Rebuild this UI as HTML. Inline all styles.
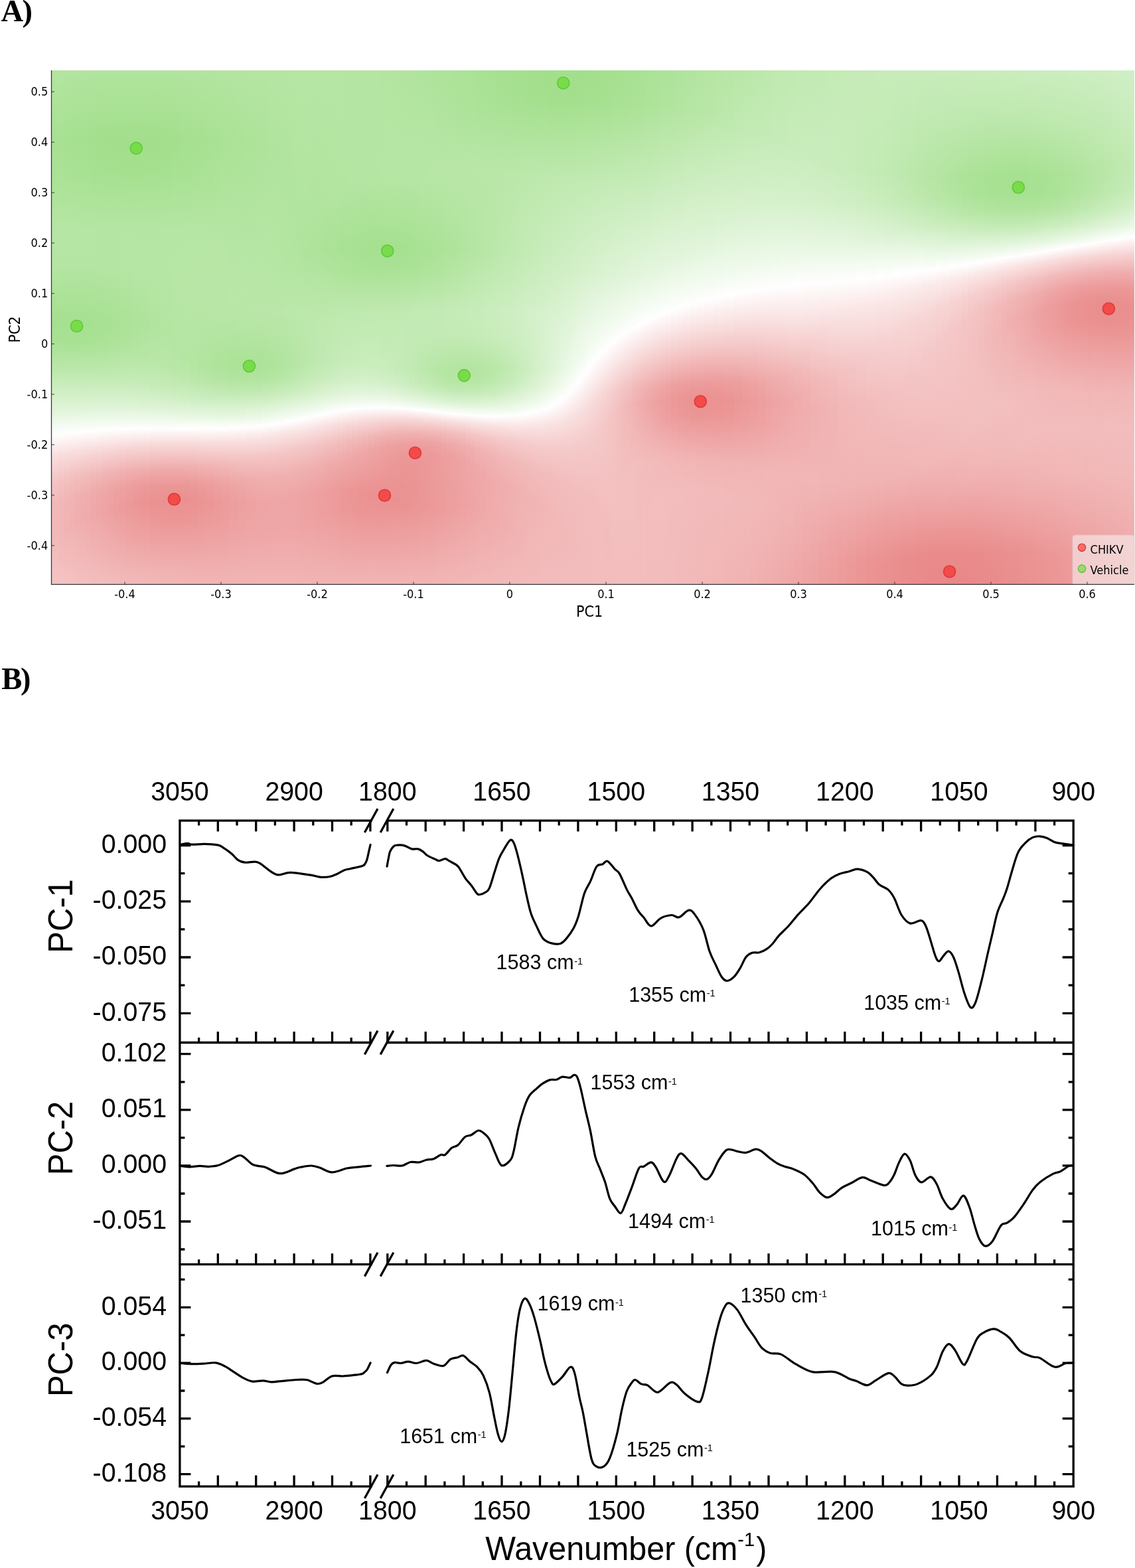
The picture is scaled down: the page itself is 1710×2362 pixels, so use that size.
<!DOCTYPE html><html><head><meta charset="utf-8"><title>Figure</title><style>html,body{margin:0;padding:0;background:#fff}body{width:1710px;height:2362px;overflow:hidden;position:relative}svg{position:absolute;left:0;top:0;display:block}</style></head><body>
<svg width="1710" height="2362" viewBox="0 0 1710 2362">
<defs><linearGradient id="g0" x2="0" y2="1"><stop offset="0.0006" stop-color="#b3e5a0"/><stop offset="0.1337" stop-color="#a8e193"/><stop offset="0.2074" stop-color="#abe297"/><stop offset="0.3159" stop-color="#b6e6a5"/><stop offset="0.3857" stop-color="#b4e5a2"/><stop offset="0.4890" stop-color="#a6e090"/><stop offset="0.5291" stop-color="#aae295"/><stop offset="0.5820" stop-color="#bbe8ab"/><stop offset="0.6621" stop-color="#e1f5da"/><stop offset="0.7074" stop-color="#fdfefd"/><stop offset="0.7112" stop-color="#fffdfd"/><stop offset="0.7526" stop-color="#f9dddd"/><stop offset="0.7991" stop-color="#f4c4c4"/><stop offset="0.8443" stop-color="#f2b9b9"/><stop offset="0.9037" stop-color="#f2b9b9"/><stop offset="0.9994" stop-color="#f4c4c4"/></linearGradient><linearGradient id="g1" x2="0" y2="1"><stop offset="0.0006" stop-color="#b3e5a0"/><stop offset="0.1337" stop-color="#a7e192"/><stop offset="0.2048" stop-color="#abe296"/><stop offset="0.3146" stop-color="#b6e6a4"/><stop offset="0.3844" stop-color="#b4e5a2"/><stop offset="0.4890" stop-color="#a5e090"/><stop offset="0.5278" stop-color="#a9e194"/><stop offset="0.5795" stop-color="#bae7a9"/><stop offset="0.6583" stop-color="#dff4d7"/><stop offset="0.7061" stop-color="#fdfefd"/><stop offset="0.7099" stop-color="#fffdfd"/><stop offset="0.7513" stop-color="#f8dbdb"/><stop offset="0.7978" stop-color="#f4c2c2"/><stop offset="0.8417" stop-color="#f2b6b6"/><stop offset="0.8986" stop-color="#f2b6b6"/><stop offset="0.9994" stop-color="#f4c3c3"/></linearGradient><linearGradient id="g2" x2="0" y2="1"><stop offset="0.0006" stop-color="#b2e5a0"/><stop offset="0.1337" stop-color="#a6e091"/><stop offset="0.2035" stop-color="#aae295"/><stop offset="0.3133" stop-color="#b6e6a4"/><stop offset="0.3818" stop-color="#b4e5a2"/><stop offset="0.4903" stop-color="#a5e08f"/><stop offset="0.5291" stop-color="#a9e194"/><stop offset="0.5833" stop-color="#bbe8ab"/><stop offset="0.6596" stop-color="#e0f4d9"/><stop offset="0.7048" stop-color="#fdfefd"/><stop offset="0.7087" stop-color="#fffcfc"/><stop offset="0.7500" stop-color="#f8dada"/><stop offset="0.7952" stop-color="#f4c0c0"/><stop offset="0.8379" stop-color="#f1b4b4"/><stop offset="0.8908" stop-color="#f1b3b3"/><stop offset="0.9994" stop-color="#f4c2c2"/></linearGradient><linearGradient id="g3" x2="0" y2="1"><stop offset="0.0006" stop-color="#b2e4a0"/><stop offset="0.1337" stop-color="#a6e090"/><stop offset="0.2022" stop-color="#a9e194"/><stop offset="0.3133" stop-color="#b6e6a4"/><stop offset="0.3818" stop-color="#b4e5a2"/><stop offset="0.4903" stop-color="#a5e08f"/><stop offset="0.5291" stop-color="#a9e194"/><stop offset="0.5833" stop-color="#bbe8ab"/><stop offset="0.6570" stop-color="#dff4d7"/><stop offset="0.7022" stop-color="#fcfefb"/><stop offset="0.7061" stop-color="#fffefe"/><stop offset="0.7435" stop-color="#f9dddd"/><stop offset="0.7901" stop-color="#f4c0c0"/><stop offset="0.8314" stop-color="#f1b3b3"/><stop offset="0.8805" stop-color="#f1b1b1"/><stop offset="0.9994" stop-color="#f4c1c1"/></linearGradient><linearGradient id="g4" x2="0" y2="1"><stop offset="0.0006" stop-color="#b2e49f"/><stop offset="0.1337" stop-color="#a5e090"/><stop offset="0.1996" stop-color="#a8e193"/><stop offset="0.3120" stop-color="#b6e6a4"/><stop offset="0.3805" stop-color="#b4e5a2"/><stop offset="0.4903" stop-color="#a5e08f"/><stop offset="0.5291" stop-color="#a9e194"/><stop offset="0.5846" stop-color="#bce8ac"/><stop offset="0.6557" stop-color="#def4d6"/><stop offset="0.7009" stop-color="#fcfefb"/><stop offset="0.7048" stop-color="#fffefe"/><stop offset="0.7410" stop-color="#f9dede"/><stop offset="0.7875" stop-color="#f3bfbf"/><stop offset="0.8275" stop-color="#f1b1b1"/><stop offset="0.8740" stop-color="#f0aeae"/><stop offset="0.9994" stop-color="#f4c0c0"/></linearGradient><linearGradient id="g5" x2="0" y2="1"><stop offset="0.0006" stop-color="#b2e49f"/><stop offset="0.1337" stop-color="#a5e08f"/><stop offset="0.1983" stop-color="#a8e192"/><stop offset="0.3120" stop-color="#b5e6a4"/><stop offset="0.3805" stop-color="#b4e5a2"/><stop offset="0.4903" stop-color="#a5e08f"/><stop offset="0.5291" stop-color="#a9e194"/><stop offset="0.5846" stop-color="#bce8ac"/><stop offset="0.6544" stop-color="#def3d5"/><stop offset="0.6983" stop-color="#fafdf9"/><stop offset="0.7035" stop-color="#ffffff"/><stop offset="0.7384" stop-color="#f9dede"/><stop offset="0.7849" stop-color="#f3bebe"/><stop offset="0.8249" stop-color="#f0afaf"/><stop offset="0.8689" stop-color="#f0acac"/><stop offset="0.9994" stop-color="#f3c0c0"/></linearGradient><linearGradient id="g6" x2="0" y2="1"><stop offset="0.0006" stop-color="#b2e49f"/><stop offset="0.1337" stop-color="#a4e08e"/><stop offset="0.1970" stop-color="#a7e192"/><stop offset="0.3107" stop-color="#b5e6a3"/><stop offset="0.3792" stop-color="#b4e5a2"/><stop offset="0.4916" stop-color="#a5e090"/><stop offset="0.5304" stop-color="#a9e295"/><stop offset="0.5885" stop-color="#bee8ae"/><stop offset="0.6544" stop-color="#def3d6"/><stop offset="0.6970" stop-color="#fafdf9"/><stop offset="0.7022" stop-color="#ffffff"/><stop offset="0.7410" stop-color="#f8dada"/><stop offset="0.7862" stop-color="#f3bbbb"/><stop offset="0.8249" stop-color="#f0adad"/><stop offset="0.8689" stop-color="#efaaaa"/><stop offset="0.9994" stop-color="#f3bfbf"/></linearGradient><linearGradient id="g7" x2="0" y2="1"><stop offset="0.0006" stop-color="#b1e49f"/><stop offset="0.1350" stop-color="#a4df8e"/><stop offset="0.1970" stop-color="#a6e091"/><stop offset="0.3107" stop-color="#b5e6a3"/><stop offset="0.3792" stop-color="#b4e5a2"/><stop offset="0.4916" stop-color="#a6e090"/><stop offset="0.5304" stop-color="#aae295"/><stop offset="0.5898" stop-color="#bee9af"/><stop offset="0.6531" stop-color="#ddf3d5"/><stop offset="0.6957" stop-color="#f9fdf8"/><stop offset="0.7022" stop-color="#fffefe"/><stop offset="0.7410" stop-color="#f8d9d9"/><stop offset="0.7862" stop-color="#f2b9b9"/><stop offset="0.8236" stop-color="#efaaaa"/><stop offset="0.8650" stop-color="#efa7a7"/><stop offset="0.9994" stop-color="#f3bebe"/></linearGradient><linearGradient id="g8" x2="0" y2="1"><stop offset="0.0006" stop-color="#b1e49e"/><stop offset="0.1350" stop-color="#a3df8d"/><stop offset="0.1970" stop-color="#a6e091"/><stop offset="0.3094" stop-color="#b5e5a3"/><stop offset="0.3792" stop-color="#b5e5a3"/><stop offset="0.4916" stop-color="#a6e091"/><stop offset="0.5304" stop-color="#abe296"/><stop offset="0.5911" stop-color="#bfe9b0"/><stop offset="0.6518" stop-color="#dcf3d4"/><stop offset="0.6944" stop-color="#f9fdf8"/><stop offset="0.7009" stop-color="#ffffff"/><stop offset="0.7358" stop-color="#f9dcdc"/><stop offset="0.7810" stop-color="#f2baba"/><stop offset="0.8185" stop-color="#efa9a9"/><stop offset="0.8572" stop-color="#eea5a5"/><stop offset="0.9309" stop-color="#f1b1b1"/><stop offset="0.9994" stop-color="#f3bebe"/></linearGradient><linearGradient id="g9" x2="0" y2="1"><stop offset="0.0006" stop-color="#b1e49e"/><stop offset="0.1350" stop-color="#a3df8c"/><stop offset="0.1957" stop-color="#a5e090"/><stop offset="0.3094" stop-color="#b5e5a3"/><stop offset="0.3792" stop-color="#b5e5a3"/><stop offset="0.4916" stop-color="#a7e192"/><stop offset="0.5317" stop-color="#ace298"/><stop offset="0.5937" stop-color="#c0e9b1"/><stop offset="0.6518" stop-color="#dcf3d4"/><stop offset="0.6932" stop-color="#f8fdf7"/><stop offset="0.6996" stop-color="#fffffe"/><stop offset="0.7410" stop-color="#f7d6d6"/><stop offset="0.7849" stop-color="#f1b5b5"/><stop offset="0.8211" stop-color="#efa6a6"/><stop offset="0.8598" stop-color="#eea3a3"/><stop offset="0.9541" stop-color="#f1b4b4"/><stop offset="0.9994" stop-color="#f3bdbd"/></linearGradient><linearGradient id="g10" x2="0" y2="1"><stop offset="0.0006" stop-color="#b1e49e"/><stop offset="0.1350" stop-color="#a2df8c"/><stop offset="0.1944" stop-color="#a5e08f"/><stop offset="0.3081" stop-color="#b5e5a3"/><stop offset="0.3779" stop-color="#b5e5a3"/><stop offset="0.4916" stop-color="#a8e193"/><stop offset="0.5329" stop-color="#ade399"/><stop offset="0.5975" stop-color="#c2eab3"/><stop offset="0.6518" stop-color="#dcf3d4"/><stop offset="0.6919" stop-color="#f8fdf6"/><stop offset="0.6996" stop-color="#fffefe"/><stop offset="0.7371" stop-color="#f8d8d8"/><stop offset="0.7823" stop-color="#f1b4b4"/><stop offset="0.8172" stop-color="#eea4a4"/><stop offset="0.8547" stop-color="#eea0a0"/><stop offset="0.9231" stop-color="#f0acac"/><stop offset="0.9994" stop-color="#f3bcbc"/></linearGradient><linearGradient id="g11" x2="0" y2="1"><stop offset="0.0006" stop-color="#b1e49e"/><stop offset="0.1363" stop-color="#a2df8c"/><stop offset="0.1957" stop-color="#a5e08f"/><stop offset="0.3081" stop-color="#b5e5a3"/><stop offset="0.3792" stop-color="#b5e5a3"/><stop offset="0.4916" stop-color="#a9e194"/><stop offset="0.5342" stop-color="#aee39b"/><stop offset="0.5988" stop-color="#c3eab4"/><stop offset="0.6518" stop-color="#dcf3d4"/><stop offset="0.6919" stop-color="#f8fdf7"/><stop offset="0.6983" stop-color="#fffffe"/><stop offset="0.7384" stop-color="#f7d5d5"/><stop offset="0.7823" stop-color="#f1b2b2"/><stop offset="0.8172" stop-color="#eea1a1"/><stop offset="0.8534" stop-color="#ed9d9d"/><stop offset="0.9193" stop-color="#efaaaa"/><stop offset="0.9994" stop-color="#f3bbbb"/></linearGradient><linearGradient id="g12" x2="0" y2="1"><stop offset="0.0006" stop-color="#b1e49e"/><stop offset="0.1363" stop-color="#a2df8b"/><stop offset="0.1944" stop-color="#a4e08f"/><stop offset="0.3081" stop-color="#b5e5a3"/><stop offset="0.3805" stop-color="#b5e6a3"/><stop offset="0.4929" stop-color="#aae296"/><stop offset="0.5381" stop-color="#b0e49d"/><stop offset="0.6027" stop-color="#c4ebb6"/><stop offset="0.6518" stop-color="#dcf3d4"/><stop offset="0.6906" stop-color="#f8fcf6"/><stop offset="0.6983" stop-color="#ffffff"/><stop offset="0.7345" stop-color="#f8d7d7"/><stop offset="0.7797" stop-color="#f1b1b1"/><stop offset="0.8133" stop-color="#eea0a0"/><stop offset="0.8469" stop-color="#ed9b9b"/><stop offset="0.8999" stop-color="#eea4a4"/><stop offset="0.9994" stop-color="#f2bbbb"/></linearGradient><linearGradient id="g13" x2="0" y2="1"><stop offset="0.0006" stop-color="#b1e49e"/><stop offset="0.1363" stop-color="#a2df8b"/><stop offset="0.1944" stop-color="#a4e08e"/><stop offset="0.3081" stop-color="#b5e5a3"/><stop offset="0.3818" stop-color="#b5e6a4"/><stop offset="0.4929" stop-color="#ace298"/><stop offset="0.5407" stop-color="#b2e49f"/><stop offset="0.6027" stop-color="#c4ebb6"/><stop offset="0.6505" stop-color="#dbf3d3"/><stop offset="0.6893" stop-color="#f7fcf5"/><stop offset="0.6983" stop-color="#fffefe"/><stop offset="0.7384" stop-color="#f7d2d2"/><stop offset="0.7823" stop-color="#f0adad"/><stop offset="0.8159" stop-color="#ed9c9c"/><stop offset="0.8495" stop-color="#ec9999"/><stop offset="0.9076" stop-color="#eea4a4"/><stop offset="0.9994" stop-color="#f2baba"/></linearGradient><linearGradient id="g14" x2="0" y2="1"><stop offset="0.0006" stop-color="#b1e49e"/><stop offset="0.1363" stop-color="#a2df8b"/><stop offset="0.1944" stop-color="#a4e08e"/><stop offset="0.3081" stop-color="#b5e5a3"/><stop offset="0.3844" stop-color="#b6e6a4"/><stop offset="0.4942" stop-color="#ade39a"/><stop offset="0.5472" stop-color="#b4e5a2"/><stop offset="0.6053" stop-color="#c5ebb7"/><stop offset="0.6505" stop-color="#dbf3d2"/><stop offset="0.6880" stop-color="#f6fcf4"/><stop offset="0.6970" stop-color="#ffffff"/><stop offset="0.7332" stop-color="#f7d6d6"/><stop offset="0.7784" stop-color="#f0aeae"/><stop offset="0.8107" stop-color="#ed9b9b"/><stop offset="0.8430" stop-color="#ec9696"/><stop offset="0.8895" stop-color="#ed9e9e"/><stop offset="0.9968" stop-color="#f2b9b9"/><stop offset="0.9994" stop-color="#f2b9b9"/></linearGradient><linearGradient id="g15" x2="0" y2="1"><stop offset="0.0006" stop-color="#b1e49e"/><stop offset="0.1376" stop-color="#a2df8b"/><stop offset="0.1957" stop-color="#a5e08f"/><stop offset="0.3081" stop-color="#b5e5a3"/><stop offset="0.3870" stop-color="#b6e6a4"/><stop offset="0.4955" stop-color="#afe39c"/><stop offset="0.5536" stop-color="#b6e6a4"/><stop offset="0.6066" stop-color="#c5ebb6"/><stop offset="0.6505" stop-color="#daf2d1"/><stop offset="0.6880" stop-color="#f6fcf4"/><stop offset="0.6970" stop-color="#ffffff"/><stop offset="0.7319" stop-color="#f8d6d6"/><stop offset="0.7784" stop-color="#f0acac"/><stop offset="0.8107" stop-color="#ec9999"/><stop offset="0.8417" stop-color="#eb9393"/><stop offset="0.8870" stop-color="#ed9c9c"/><stop offset="0.9916" stop-color="#f2b7b7"/><stop offset="0.9994" stop-color="#f2b9b9"/></linearGradient><linearGradient id="g16" x2="0" y2="1"><stop offset="0.0006" stop-color="#b1e49e"/><stop offset="0.1376" stop-color="#a2df8c"/><stop offset="0.1957" stop-color="#a5e08f"/><stop offset="0.3081" stop-color="#b5e5a3"/><stop offset="0.3921" stop-color="#b6e6a5"/><stop offset="0.5006" stop-color="#b1e49e"/><stop offset="0.5678" stop-color="#b9e7a8"/><stop offset="0.6130" stop-color="#c6ebb8"/><stop offset="0.6544" stop-color="#dcf3d4"/><stop offset="0.6906" stop-color="#f8fdf7"/><stop offset="0.6970" stop-color="#fffefe"/><stop offset="0.7319" stop-color="#f7d5d5"/><stop offset="0.7784" stop-color="#efaaaa"/><stop offset="0.8107" stop-color="#ec9797"/><stop offset="0.8404" stop-color="#eb9191"/><stop offset="0.8831" stop-color="#ec9999"/><stop offset="0.9851" stop-color="#f1b5b5"/><stop offset="0.9994" stop-color="#f2b8b8"/></linearGradient><linearGradient id="g17" x2="0" y2="1"><stop offset="0.0006" stop-color="#b1e49e"/><stop offset="0.1376" stop-color="#a3df8c"/><stop offset="0.1970" stop-color="#a6e090"/><stop offset="0.3094" stop-color="#b5e6a3"/><stop offset="0.3986" stop-color="#b6e6a5"/><stop offset="0.5097" stop-color="#b3e5a1"/><stop offset="0.5769" stop-color="#bae7a9"/><stop offset="0.6169" stop-color="#c6ebb8"/><stop offset="0.6570" stop-color="#ddf3d5"/><stop offset="0.6919" stop-color="#f9fdf8"/><stop offset="0.6970" stop-color="#fffefe"/><stop offset="0.7306" stop-color="#f7d6d6"/><stop offset="0.7771" stop-color="#efaaaa"/><stop offset="0.8094" stop-color="#ec9696"/><stop offset="0.8391" stop-color="#eb9090"/><stop offset="0.8805" stop-color="#ec9797"/><stop offset="0.9813" stop-color="#f1b4b4"/><stop offset="0.9994" stop-color="#f2b7b7"/></linearGradient><linearGradient id="g18" x2="0" y2="1"><stop offset="0.0006" stop-color="#b1e49f"/><stop offset="0.1376" stop-color="#a4df8d"/><stop offset="0.1983" stop-color="#a7e192"/><stop offset="0.3107" stop-color="#b5e6a4"/><stop offset="0.4076" stop-color="#b7e6a5"/><stop offset="0.5304" stop-color="#b4e5a2"/><stop offset="0.5833" stop-color="#b9e7a9"/><stop offset="0.6208" stop-color="#c6ebb8"/><stop offset="0.6596" stop-color="#def4d6"/><stop offset="0.6932" stop-color="#fafdf9"/><stop offset="0.6970" stop-color="#ffffff"/><stop offset="0.7267" stop-color="#f8dada"/><stop offset="0.7745" stop-color="#f0acac"/><stop offset="0.8068" stop-color="#ec9797"/><stop offset="0.8366" stop-color="#eb9090"/><stop offset="0.8753" stop-color="#ec9696"/><stop offset="0.9800" stop-color="#f1b3b3"/><stop offset="0.9994" stop-color="#f2b7b7"/></linearGradient><linearGradient id="g19" x2="0" y2="1"><stop offset="0.0006" stop-color="#b2e49f"/><stop offset="0.1376" stop-color="#a5e08f"/><stop offset="0.2009" stop-color="#a8e193"/><stop offset="0.3133" stop-color="#b6e6a4"/><stop offset="0.4205" stop-color="#b7e6a6"/><stop offset="0.5627" stop-color="#b5e5a3"/><stop offset="0.6001" stop-color="#bce8ac"/><stop offset="0.6363" stop-color="#cdeec1"/><stop offset="0.6764" stop-color="#eaf8e5"/><stop offset="0.6970" stop-color="#ffffff"/><stop offset="0.7242" stop-color="#f9dddd"/><stop offset="0.7720" stop-color="#f0aeae"/><stop offset="0.8056" stop-color="#ec9898"/><stop offset="0.8353" stop-color="#eb9090"/><stop offset="0.8740" stop-color="#ec9696"/><stop offset="0.9826" stop-color="#f1b3b3"/><stop offset="0.9994" stop-color="#f2b6b6"/></linearGradient><linearGradient id="g20" x2="0" y2="1"><stop offset="0.0006" stop-color="#b2e49f"/><stop offset="0.1376" stop-color="#a6e090"/><stop offset="0.2035" stop-color="#a9e195"/><stop offset="0.3172" stop-color="#b6e6a4"/><stop offset="0.4348" stop-color="#b7e6a6"/><stop offset="0.5704" stop-color="#b4e5a1"/><stop offset="0.6040" stop-color="#bbe8ab"/><stop offset="0.6389" stop-color="#cdeec1"/><stop offset="0.6802" stop-color="#edf9e9"/><stop offset="0.6970" stop-color="#ffffff"/><stop offset="0.7267" stop-color="#f8dada"/><stop offset="0.7733" stop-color="#f0aeae"/><stop offset="0.8068" stop-color="#ec9999"/><stop offset="0.8366" stop-color="#eb9292"/><stop offset="0.8766" stop-color="#ec9797"/><stop offset="0.9877" stop-color="#f1b4b4"/><stop offset="0.9994" stop-color="#f2b6b6"/></linearGradient><linearGradient id="g21" x2="0" y2="1"><stop offset="0.0006" stop-color="#b2e5a0"/><stop offset="0.1389" stop-color="#a7e091"/><stop offset="0.2087" stop-color="#abe296"/><stop offset="0.3211" stop-color="#b6e6a4"/><stop offset="0.4477" stop-color="#b7e6a6"/><stop offset="0.5717" stop-color="#b2e49f"/><stop offset="0.6040" stop-color="#b9e7a8"/><stop offset="0.6376" stop-color="#cbedbf"/><stop offset="0.6802" stop-color="#edf9e9"/><stop offset="0.6970" stop-color="#fffffe"/><stop offset="0.7267" stop-color="#f8dbdb"/><stop offset="0.7720" stop-color="#f1b1b1"/><stop offset="0.8068" stop-color="#ed9b9b"/><stop offset="0.8379" stop-color="#eb9494"/><stop offset="0.8805" stop-color="#ec9a9a"/><stop offset="0.9968" stop-color="#f1b5b5"/><stop offset="0.9994" stop-color="#f2b6b6"/></linearGradient><linearGradient id="g22" x2="0" y2="1"><stop offset="0.0006" stop-color="#b2e5a0"/><stop offset="0.1389" stop-color="#a8e193"/><stop offset="0.2138" stop-color="#ace298"/><stop offset="0.3288" stop-color="#b6e6a5"/><stop offset="0.4593" stop-color="#b8e6a6"/><stop offset="0.5717" stop-color="#b0e49d"/><stop offset="0.6027" stop-color="#b7e6a5"/><stop offset="0.6363" stop-color="#c9ecbc"/><stop offset="0.6802" stop-color="#edf9e9"/><stop offset="0.6970" stop-color="#fffffe"/><stop offset="0.7255" stop-color="#f9dcdc"/><stop offset="0.7707" stop-color="#f1b3b3"/><stop offset="0.8068" stop-color="#ed9d9d"/><stop offset="0.8391" stop-color="#ec9696"/><stop offset="0.8844" stop-color="#ed9c9c"/><stop offset="0.9994" stop-color="#f2b6b6"/></linearGradient><linearGradient id="g23" x2="0" y2="1"><stop offset="0.0006" stop-color="#b3e5a0"/><stop offset="0.1389" stop-color="#a9e194"/><stop offset="0.2190" stop-color="#aee39a"/><stop offset="0.3404" stop-color="#b7e6a5"/><stop offset="0.4671" stop-color="#b8e6a7"/><stop offset="0.5717" stop-color="#aee39b"/><stop offset="0.6014" stop-color="#b5e5a3"/><stop offset="0.6337" stop-color="#c6ebb9"/><stop offset="0.6776" stop-color="#ebf8e6"/><stop offset="0.6970" stop-color="#ffffff"/><stop offset="0.7229" stop-color="#f9dfdf"/><stop offset="0.7668" stop-color="#f2b7b7"/><stop offset="0.8043" stop-color="#eea1a1"/><stop offset="0.8379" stop-color="#ec9898"/><stop offset="0.8831" stop-color="#ed9d9d"/><stop offset="0.9994" stop-color="#f2b5b5"/></linearGradient><linearGradient id="g24" x2="0" y2="1"><stop offset="0.0006" stop-color="#b3e5a1"/><stop offset="0.1402" stop-color="#aae295"/><stop offset="0.2306" stop-color="#afe49c"/><stop offset="0.3714" stop-color="#b8e6a6"/><stop offset="0.4761" stop-color="#b8e6a6"/><stop offset="0.5717" stop-color="#ade399"/><stop offset="0.6001" stop-color="#b3e5a0"/><stop offset="0.6311" stop-color="#c4ebb6"/><stop offset="0.6764" stop-color="#e9f8e4"/><stop offset="0.6970" stop-color="#ffffff"/><stop offset="0.7203" stop-color="#fae2e2"/><stop offset="0.7629" stop-color="#f3bbbb"/><stop offset="0.8017" stop-color="#eea4a4"/><stop offset="0.8366" stop-color="#ed9b9b"/><stop offset="0.8831" stop-color="#ed9e9e"/><stop offset="0.9994" stop-color="#f1b5b5"/></linearGradient><linearGradient id="g25" x2="0" y2="1"><stop offset="0.0006" stop-color="#b3e5a1"/><stop offset="0.1415" stop-color="#abe296"/><stop offset="0.2565" stop-color="#b2e49f"/><stop offset="0.4503" stop-color="#b9e7a8"/><stop offset="0.5149" stop-color="#b3e5a1"/><stop offset="0.5691" stop-color="#ace298"/><stop offset="0.5963" stop-color="#b0e49d"/><stop offset="0.6260" stop-color="#c0e9b0"/><stop offset="0.6699" stop-color="#e4f6dd"/><stop offset="0.6957" stop-color="#fefffe"/><stop offset="0.7255" stop-color="#f9dcdc"/><stop offset="0.7668" stop-color="#f2baba"/><stop offset="0.8056" stop-color="#eea5a5"/><stop offset="0.8430" stop-color="#ed9d9d"/><stop offset="0.8986" stop-color="#eea3a3"/><stop offset="0.9994" stop-color="#f1b5b5"/></linearGradient><linearGradient id="g26" x2="0" y2="1"><stop offset="0.0006" stop-color="#b4e5a1"/><stop offset="0.1428" stop-color="#ace298"/><stop offset="0.4335" stop-color="#b9e7a9"/><stop offset="0.4994" stop-color="#b6e6a4"/><stop offset="0.5691" stop-color="#abe297"/><stop offset="0.5963" stop-color="#afe49c"/><stop offset="0.6247" stop-color="#bfe9af"/><stop offset="0.6686" stop-color="#e3f5dd"/><stop offset="0.6957" stop-color="#fffefe"/><stop offset="0.7190" stop-color="#fae2e2"/><stop offset="0.7590" stop-color="#f3c0c0"/><stop offset="0.8004" stop-color="#efa9a9"/><stop offset="0.8391" stop-color="#eea0a0"/><stop offset="0.8934" stop-color="#eea3a3"/><stop offset="0.9994" stop-color="#f1b5b5"/></linearGradient><linearGradient id="g27" x2="0" y2="1"><stop offset="0.0006" stop-color="#b4e5a2"/><stop offset="0.1453" stop-color="#ade399"/><stop offset="0.4619" stop-color="#b9e7a9"/><stop offset="0.5187" stop-color="#b3e5a1"/><stop offset="0.5691" stop-color="#abe297"/><stop offset="0.5963" stop-color="#b0e49c"/><stop offset="0.6247" stop-color="#bfe9b0"/><stop offset="0.6686" stop-color="#e5f6de"/><stop offset="0.6944" stop-color="#fffefe"/><stop offset="0.7177" stop-color="#fae2e2"/><stop offset="0.7565" stop-color="#f4c2c2"/><stop offset="0.7991" stop-color="#f0abab"/><stop offset="0.8404" stop-color="#eea2a2"/><stop offset="0.8973" stop-color="#eea5a5"/><stop offset="0.9994" stop-color="#f1b5b5"/></linearGradient><linearGradient id="g28" x2="0" y2="1"><stop offset="0.0006" stop-color="#b4e5a2"/><stop offset="0.1479" stop-color="#aee39b"/><stop offset="0.4696" stop-color="#bae7a9"/><stop offset="0.5265" stop-color="#b2e4a0"/><stop offset="0.5704" stop-color="#ace298"/><stop offset="0.5963" stop-color="#b0e49d"/><stop offset="0.6247" stop-color="#c0e9b1"/><stop offset="0.6686" stop-color="#e6f6e0"/><stop offset="0.6932" stop-color="#fffefe"/><stop offset="0.7164" stop-color="#fae2e2"/><stop offset="0.7539" stop-color="#f4c3c3"/><stop offset="0.7965" stop-color="#f0adad"/><stop offset="0.8404" stop-color="#eea4a4"/><stop offset="0.8999" stop-color="#efa6a6"/><stop offset="0.9994" stop-color="#f1b5b5"/></linearGradient><linearGradient id="g29" x2="0" y2="1"><stop offset="0.0006" stop-color="#b4e5a2"/><stop offset="0.1505" stop-color="#afe39c"/><stop offset="0.3973" stop-color="#b7e6a6"/><stop offset="0.4761" stop-color="#bae7a9"/><stop offset="0.5368" stop-color="#b1e49e"/><stop offset="0.5743" stop-color="#ade399"/><stop offset="0.6001" stop-color="#b3e5a1"/><stop offset="0.6298" stop-color="#c5ebb7"/><stop offset="0.6776" stop-color="#f0faed"/><stop offset="0.6906" stop-color="#fefffe"/><stop offset="0.7164" stop-color="#f9e1e1"/><stop offset="0.7539" stop-color="#f4c3c3"/><stop offset="0.7965" stop-color="#f0aeae"/><stop offset="0.8417" stop-color="#eea4a4"/><stop offset="0.9037" stop-color="#efa7a7"/><stop offset="0.9994" stop-color="#f1b5b5"/></linearGradient><linearGradient id="g30" x2="0" y2="1"><stop offset="0.0006" stop-color="#b5e5a3"/><stop offset="0.1531" stop-color="#b0e49d"/><stop offset="0.3857" stop-color="#b6e6a4"/><stop offset="0.4722" stop-color="#bae7a9"/><stop offset="0.5317" stop-color="#b3e5a0"/><stop offset="0.5717" stop-color="#aee39b"/><stop offset="0.5988" stop-color="#b4e5a2"/><stop offset="0.6286" stop-color="#c6ebb8"/><stop offset="0.6751" stop-color="#effaeb"/><stop offset="0.6893" stop-color="#ffffff"/><stop offset="0.7112" stop-color="#fae4e4"/><stop offset="0.7474" stop-color="#f5c6c6"/><stop offset="0.7901" stop-color="#f1b0b0"/><stop offset="0.8366" stop-color="#efa5a5"/><stop offset="0.8960" stop-color="#efa6a6"/><stop offset="0.9994" stop-color="#f1b5b5"/></linearGradient><linearGradient id="g31" x2="0" y2="1"><stop offset="0.0006" stop-color="#b5e5a3"/><stop offset="0.1557" stop-color="#b0e49d"/><stop offset="0.3792" stop-color="#b5e6a3"/><stop offset="0.4709" stop-color="#bae7aa"/><stop offset="0.5304" stop-color="#b4e5a2"/><stop offset="0.5717" stop-color="#b0e49c"/><stop offset="0.5988" stop-color="#b6e6a4"/><stop offset="0.6286" stop-color="#c7ecba"/><stop offset="0.6738" stop-color="#f0faec"/><stop offset="0.6880" stop-color="#ffffff"/><stop offset="0.7099" stop-color="#fae4e4"/><stop offset="0.7461" stop-color="#f5c6c6"/><stop offset="0.7888" stop-color="#f1b0b0"/><stop offset="0.8353" stop-color="#efa5a5"/><stop offset="0.8960" stop-color="#efa6a6"/><stop offset="0.9994" stop-color="#f1b5b5"/></linearGradient><linearGradient id="g32" x2="0" y2="1"><stop offset="0.0006" stop-color="#b5e5a3"/><stop offset="0.1596" stop-color="#b1e49e"/><stop offset="0.3740" stop-color="#b4e5a2"/><stop offset="0.4709" stop-color="#bbe7aa"/><stop offset="0.5329" stop-color="#b4e5a2"/><stop offset="0.5730" stop-color="#b1e49f"/><stop offset="0.6001" stop-color="#b8e7a7"/><stop offset="0.6298" stop-color="#caedbd"/><stop offset="0.6738" stop-color="#f1faee"/><stop offset="0.6867" stop-color="#fffefe"/><stop offset="0.7099" stop-color="#fae2e2"/><stop offset="0.7461" stop-color="#f4c5c5"/><stop offset="0.7901" stop-color="#f0afaf"/><stop offset="0.8379" stop-color="#efa5a5"/><stop offset="0.9012" stop-color="#efa7a7"/><stop offset="0.9994" stop-color="#f1b5b5"/></linearGradient><linearGradient id="g33" x2="0" y2="1"><stop offset="0.0006" stop-color="#b5e5a3"/><stop offset="0.1634" stop-color="#b1e49f"/><stop offset="0.3702" stop-color="#b3e5a1"/><stop offset="0.4709" stop-color="#bbe8ab"/><stop offset="0.5355" stop-color="#b5e5a3"/><stop offset="0.5743" stop-color="#b3e5a1"/><stop offset="0.6014" stop-color="#bae7aa"/><stop offset="0.6324" stop-color="#ceeec2"/><stop offset="0.6751" stop-color="#f4fbf2"/><stop offset="0.6841" stop-color="#fefffe"/><stop offset="0.7099" stop-color="#f9e0e0"/><stop offset="0.7461" stop-color="#f4c4c4"/><stop offset="0.7901" stop-color="#f0afaf"/><stop offset="0.8379" stop-color="#eea5a5"/><stop offset="0.9025" stop-color="#efa7a7"/><stop offset="0.9994" stop-color="#f1b5b5"/></linearGradient><linearGradient id="g34" x2="0" y2="1"><stop offset="0.0006" stop-color="#b5e6a3"/><stop offset="0.1686" stop-color="#b2e49f"/><stop offset="0.3663" stop-color="#b2e5a0"/><stop offset="0.4722" stop-color="#bbe8ab"/><stop offset="0.5704" stop-color="#b4e5a2"/><stop offset="0.5988" stop-color="#bbe8ab"/><stop offset="0.6286" stop-color="#cdeec0"/><stop offset="0.6699" stop-color="#f1faed"/><stop offset="0.6828" stop-color="#ffffff"/><stop offset="0.7035" stop-color="#fae5e5"/><stop offset="0.7384" stop-color="#f5c7c7"/><stop offset="0.7810" stop-color="#f1b1b1"/><stop offset="0.8288" stop-color="#efa5a5"/><stop offset="0.8882" stop-color="#efa5a5"/><stop offset="0.9994" stop-color="#f1b5b5"/></linearGradient><linearGradient id="g35" x2="0" y2="1"><stop offset="0.0006" stop-color="#b5e6a3"/><stop offset="0.1725" stop-color="#b2e5a0"/><stop offset="0.3133" stop-color="#b1e49e"/><stop offset="0.3844" stop-color="#b3e5a1"/><stop offset="0.4722" stop-color="#bbe8ab"/><stop offset="0.5704" stop-color="#b6e6a4"/><stop offset="0.6001" stop-color="#bde8ae"/><stop offset="0.6311" stop-color="#d0efc5"/><stop offset="0.6712" stop-color="#f4fbf1"/><stop offset="0.6815" stop-color="#fffefe"/><stop offset="0.7035" stop-color="#fae3e3"/><stop offset="0.7384" stop-color="#f5c6c6"/><stop offset="0.7810" stop-color="#f1b0b0"/><stop offset="0.8288" stop-color="#eea5a5"/><stop offset="0.8882" stop-color="#eea5a5"/><stop offset="0.9994" stop-color="#f1b5b5"/></linearGradient><linearGradient id="g36" x2="0" y2="1"><stop offset="0.0006" stop-color="#b5e6a3"/><stop offset="0.1789" stop-color="#b3e5a0"/><stop offset="0.3172" stop-color="#b0e49d"/><stop offset="0.3857" stop-color="#b3e5a1"/><stop offset="0.4735" stop-color="#bce8ab"/><stop offset="0.5704" stop-color="#b8e6a6"/><stop offset="0.6001" stop-color="#bfe9b0"/><stop offset="0.6311" stop-color="#d2efc7"/><stop offset="0.6699" stop-color="#f4fbf1"/><stop offset="0.6802" stop-color="#fffefe"/><stop offset="0.7035" stop-color="#fae2e2"/><stop offset="0.7384" stop-color="#f4c5c5"/><stop offset="0.7823" stop-color="#f0afaf"/><stop offset="0.8301" stop-color="#eea4a4"/><stop offset="0.8895" stop-color="#eea5a5"/><stop offset="0.9994" stop-color="#f1b4b4"/></linearGradient><linearGradient id="g37" x2="0" y2="1"><stop offset="0.0006" stop-color="#b5e6a3"/><stop offset="0.1880" stop-color="#b3e5a1"/><stop offset="0.3598" stop-color="#b0e49d"/><stop offset="0.4748" stop-color="#bce8ac"/><stop offset="0.5691" stop-color="#b9e7a8"/><stop offset="0.6001" stop-color="#c1eab2"/><stop offset="0.6311" stop-color="#d3f0c9"/><stop offset="0.6686" stop-color="#f4fbf2"/><stop offset="0.6776" stop-color="#fefffe"/><stop offset="0.7035" stop-color="#f9e0e0"/><stop offset="0.7384" stop-color="#f4c3c3"/><stop offset="0.7823" stop-color="#f0aeae"/><stop offset="0.8301" stop-color="#eea3a3"/><stop offset="0.8895" stop-color="#eea4a4"/><stop offset="0.9994" stop-color="#f1b4b4"/></linearGradient><linearGradient id="g38" x2="0" y2="1"><stop offset="0.0006" stop-color="#b5e6a4"/><stop offset="0.2061" stop-color="#b3e5a1"/><stop offset="0.3559" stop-color="#afe39c"/><stop offset="0.4761" stop-color="#bce8ac"/><stop offset="0.5691" stop-color="#bbe7aa"/><stop offset="0.6001" stop-color="#c3eab4"/><stop offset="0.6311" stop-color="#d5f1cb"/><stop offset="0.6673" stop-color="#f5fbf2"/><stop offset="0.6764" stop-color="#ffffff"/><stop offset="0.6970" stop-color="#fae5e5"/><stop offset="0.7306" stop-color="#f5c7c7"/><stop offset="0.7733" stop-color="#f1b0b0"/><stop offset="0.8211" stop-color="#eea3a3"/><stop offset="0.8740" stop-color="#eea2a2"/><stop offset="0.9994" stop-color="#f1b4b4"/></linearGradient><linearGradient id="g39" x2="0" y2="1"><stop offset="0.0006" stop-color="#b5e6a4"/><stop offset="0.2733" stop-color="#b1e49e"/><stop offset="0.3559" stop-color="#afe39b"/><stop offset="0.4774" stop-color="#bde8ad"/><stop offset="0.5691" stop-color="#bce8ac"/><stop offset="0.6001" stop-color="#c5ebb6"/><stop offset="0.6324" stop-color="#d8f1ce"/><stop offset="0.6673" stop-color="#f6fcf4"/><stop offset="0.6751" stop-color="#fffefe"/><stop offset="0.6983" stop-color="#fae1e1"/><stop offset="0.7319" stop-color="#f4c5c5"/><stop offset="0.7745" stop-color="#f0aeae"/><stop offset="0.8224" stop-color="#eea2a2"/><stop offset="0.8753" stop-color="#eea2a2"/><stop offset="0.9994" stop-color="#f1b4b4"/></linearGradient><linearGradient id="g40" x2="0" y2="1"><stop offset="0.0006" stop-color="#b5e6a4"/><stop offset="0.2655" stop-color="#b1e49f"/><stop offset="0.3534" stop-color="#aee39a"/><stop offset="0.4787" stop-color="#bde8ad"/><stop offset="0.5691" stop-color="#bee8ae"/><stop offset="0.6014" stop-color="#c7ecb9"/><stop offset="0.6337" stop-color="#daf2d1"/><stop offset="0.6673" stop-color="#f8fdf6"/><stop offset="0.6725" stop-color="#fefffe"/><stop offset="0.6996" stop-color="#f9dede"/><stop offset="0.7345" stop-color="#f4c1c1"/><stop offset="0.7784" stop-color="#f0acac"/><stop offset="0.8262" stop-color="#eea0a0"/><stop offset="0.8805" stop-color="#eea2a2"/><stop offset="0.9994" stop-color="#f1b4b4"/></linearGradient><linearGradient id="g41" x2="0" y2="1"><stop offset="0.0006" stop-color="#b5e6a4"/><stop offset="0.2603" stop-color="#b2e49f"/><stop offset="0.3508" stop-color="#ade399"/><stop offset="0.4167" stop-color="#b5e6a4"/><stop offset="0.4839" stop-color="#bde8ae"/><stop offset="0.5678" stop-color="#bfe9b0"/><stop offset="0.6014" stop-color="#c8ecbb"/><stop offset="0.6337" stop-color="#dcf3d3"/><stop offset="0.6660" stop-color="#f9fdf7"/><stop offset="0.6712" stop-color="#ffffff"/><stop offset="0.6944" stop-color="#fae1e1"/><stop offset="0.7280" stop-color="#f4c4c4"/><stop offset="0.7694" stop-color="#f0aeae"/><stop offset="0.8185" stop-color="#eea0a0"/><stop offset="0.8676" stop-color="#ed9f9f"/><stop offset="0.9994" stop-color="#f1b4b4"/></linearGradient><linearGradient id="g42" x2="0" y2="1"><stop offset="0.0006" stop-color="#b5e6a4"/><stop offset="0.2539" stop-color="#b2e49f"/><stop offset="0.3495" stop-color="#ace298"/><stop offset="0.4089" stop-color="#b4e5a1"/><stop offset="0.4787" stop-color="#bde8ae"/><stop offset="0.5678" stop-color="#c0e9b1"/><stop offset="0.6014" stop-color="#caedbd"/><stop offset="0.6337" stop-color="#ddf3d5"/><stop offset="0.6647" stop-color="#f9fdf7"/><stop offset="0.6699" stop-color="#fffefe"/><stop offset="0.6932" stop-color="#f9e1e1"/><stop offset="0.7267" stop-color="#f4c3c3"/><stop offset="0.7681" stop-color="#f0adad"/><stop offset="0.8185" stop-color="#ed9f9f"/><stop offset="0.8663" stop-color="#ed9f9f"/><stop offset="0.9994" stop-color="#f1b4b4"/></linearGradient><linearGradient id="g43" x2="0" y2="1"><stop offset="0.0006" stop-color="#b5e6a3"/><stop offset="0.2487" stop-color="#b2e4a0"/><stop offset="0.3482" stop-color="#abe297"/><stop offset="0.4037" stop-color="#b2e5a0"/><stop offset="0.4774" stop-color="#bee8ae"/><stop offset="0.5678" stop-color="#c2eab3"/><stop offset="0.6027" stop-color="#ccedc0"/><stop offset="0.6350" stop-color="#e0f4d8"/><stop offset="0.6647" stop-color="#fbfefa"/><stop offset="0.6686" stop-color="#fffefe"/><stop offset="0.6944" stop-color="#f9dddd"/><stop offset="0.7280" stop-color="#f3c0c0"/><stop offset="0.7707" stop-color="#efaaaa"/><stop offset="0.8198" stop-color="#ed9d9d"/><stop offset="0.8676" stop-color="#ed9e9e"/><stop offset="0.9994" stop-color="#f1b4b4"/></linearGradient><linearGradient id="g44" x2="0" y2="1"><stop offset="0.0006" stop-color="#b5e6a3"/><stop offset="0.2435" stop-color="#b2e5a0"/><stop offset="0.3482" stop-color="#abe296"/><stop offset="0.4012" stop-color="#b1e49e"/><stop offset="0.4761" stop-color="#bee9ae"/><stop offset="0.5691" stop-color="#c3eab5"/><stop offset="0.6040" stop-color="#ceeec2"/><stop offset="0.6363" stop-color="#e2f5db"/><stop offset="0.6634" stop-color="#fbfefa"/><stop offset="0.6660" stop-color="#fefffe"/><stop offset="0.6944" stop-color="#f8dbdb"/><stop offset="0.7267" stop-color="#f3bfbf"/><stop offset="0.7681" stop-color="#efaaaa"/><stop offset="0.8198" stop-color="#ed9c9c"/><stop offset="0.8663" stop-color="#ed9d9d"/><stop offset="0.9994" stop-color="#f1b4b4"/></linearGradient><linearGradient id="g45" x2="0" y2="1"><stop offset="0.0006" stop-color="#b5e6a3"/><stop offset="0.2384" stop-color="#b3e5a0"/><stop offset="0.3482" stop-color="#aae295"/><stop offset="0.3999" stop-color="#b0e49d"/><stop offset="0.4748" stop-color="#bee9ae"/><stop offset="0.5691" stop-color="#c4ebb6"/><stop offset="0.6040" stop-color="#cfefc4"/><stop offset="0.6363" stop-color="#e3f5dd"/><stop offset="0.6621" stop-color="#fcfefb"/><stop offset="0.6647" stop-color="#ffffff"/><stop offset="0.6893" stop-color="#f9dede"/><stop offset="0.7216" stop-color="#f4c0c0"/><stop offset="0.7590" stop-color="#f0acac"/><stop offset="0.8146" stop-color="#ed9b9b"/><stop offset="0.8572" stop-color="#ed9b9b"/><stop offset="0.9994" stop-color="#f1b4b4"/></linearGradient><linearGradient id="g46" x2="0" y2="1"><stop offset="0.0006" stop-color="#b5e6a3"/><stop offset="0.2332" stop-color="#b3e5a1"/><stop offset="0.3469" stop-color="#a9e194"/><stop offset="0.3960" stop-color="#afe39c"/><stop offset="0.4735" stop-color="#bee9ae"/><stop offset="0.5691" stop-color="#c6ebb8"/><stop offset="0.6053" stop-color="#d1efc6"/><stop offset="0.6363" stop-color="#e5f6de"/><stop offset="0.6609" stop-color="#fcfefb"/><stop offset="0.6634" stop-color="#fffefe"/><stop offset="0.6893" stop-color="#f9dcdc"/><stop offset="0.7203" stop-color="#f3bfbf"/><stop offset="0.7565" stop-color="#f0abab"/><stop offset="0.8159" stop-color="#ec9999"/><stop offset="0.8572" stop-color="#ec9999"/><stop offset="0.9994" stop-color="#f1b4b4"/></linearGradient><linearGradient id="g47" x2="0" y2="1"><stop offset="0.0006" stop-color="#b5e5a3"/><stop offset="0.2293" stop-color="#b3e5a1"/><stop offset="0.3469" stop-color="#a8e193"/><stop offset="0.3934" stop-color="#aee39a"/><stop offset="0.4735" stop-color="#bee9af"/><stop offset="0.5691" stop-color="#c7ecb9"/><stop offset="0.6053" stop-color="#d2f0c8"/><stop offset="0.6363" stop-color="#e6f6e0"/><stop offset="0.6596" stop-color="#fcfefc"/><stop offset="0.6621" stop-color="#fffefe"/><stop offset="0.6893" stop-color="#f8dada"/><stop offset="0.7203" stop-color="#f3bdbd"/><stop offset="0.7552" stop-color="#efaaaa"/><stop offset="0.8172" stop-color="#ec9898"/><stop offset="0.8585" stop-color="#ec9898"/><stop offset="0.9994" stop-color="#f1b4b4"/></linearGradient><linearGradient id="g48" x2="0" y2="1"><stop offset="0.0006" stop-color="#b5e5a3"/><stop offset="0.2255" stop-color="#b4e5a1"/><stop offset="0.3469" stop-color="#a8e193"/><stop offset="0.3921" stop-color="#ade399"/><stop offset="0.4722" stop-color="#bee9af"/><stop offset="0.5704" stop-color="#c8ecba"/><stop offset="0.6066" stop-color="#d4f0c9"/><stop offset="0.6376" stop-color="#e8f7e2"/><stop offset="0.6596" stop-color="#fefffe"/><stop offset="0.6919" stop-color="#f7d5d5"/><stop offset="0.7216" stop-color="#f2b9b9"/><stop offset="0.7565" stop-color="#efa7a7"/><stop offset="0.8198" stop-color="#ec9696"/><stop offset="0.8598" stop-color="#ec9898"/><stop offset="0.9994" stop-color="#f1b4b4"/></linearGradient><linearGradient id="g49" x2="0" y2="1"><stop offset="0.0006" stop-color="#b5e5a3"/><stop offset="0.2203" stop-color="#b4e5a2"/><stop offset="0.3469" stop-color="#a7e192"/><stop offset="0.3908" stop-color="#ace298"/><stop offset="0.4722" stop-color="#bee9af"/><stop offset="0.5717" stop-color="#c9ecbc"/><stop offset="0.6066" stop-color="#d5f0ca"/><stop offset="0.6363" stop-color="#e8f7e2"/><stop offset="0.6570" stop-color="#fcfefc"/><stop offset="0.6596" stop-color="#fffdfd"/><stop offset="0.6880" stop-color="#f8d7d7"/><stop offset="0.7177" stop-color="#f2baba"/><stop offset="0.7487" stop-color="#efa8a8"/><stop offset="0.8198" stop-color="#eb9595"/><stop offset="0.8598" stop-color="#ec9797"/><stop offset="0.9994" stop-color="#f1b4b4"/></linearGradient><linearGradient id="g50" x2="0" y2="1"><stop offset="0.0006" stop-color="#b4e5a2"/><stop offset="0.2164" stop-color="#b4e5a2"/><stop offset="0.3469" stop-color="#a6e091"/><stop offset="0.3895" stop-color="#abe297"/><stop offset="0.4722" stop-color="#bfe9af"/><stop offset="0.5730" stop-color="#c9edbc"/><stop offset="0.6079" stop-color="#d6f1cc"/><stop offset="0.6363" stop-color="#e8f7e3"/><stop offset="0.6583" stop-color="#fffefe"/><stop offset="0.6867" stop-color="#f7d6d6"/><stop offset="0.7164" stop-color="#f2b8b8"/><stop offset="0.7461" stop-color="#efa7a7"/><stop offset="0.8224" stop-color="#eb9393"/><stop offset="0.8624" stop-color="#ec9696"/><stop offset="0.9903" stop-color="#f1b2b2"/><stop offset="0.9994" stop-color="#f1b4b4"/></linearGradient><linearGradient id="g51" x2="0" y2="1"><stop offset="0.0006" stop-color="#b4e5a2"/><stop offset="0.2138" stop-color="#b4e5a2"/><stop offset="0.3004" stop-color="#aae296"/><stop offset="0.3534" stop-color="#a6e090"/><stop offset="0.3973" stop-color="#ade399"/><stop offset="0.4709" stop-color="#bfe9af"/><stop offset="0.5743" stop-color="#caedbd"/><stop offset="0.6079" stop-color="#d6f1cc"/><stop offset="0.6363" stop-color="#e9f7e3"/><stop offset="0.6557" stop-color="#fdfefc"/><stop offset="0.6570" stop-color="#ffffff"/><stop offset="0.6815" stop-color="#f8dbdb"/><stop offset="0.7112" stop-color="#f2baba"/><stop offset="0.7384" stop-color="#efa8a8"/><stop offset="0.8224" stop-color="#eb9292"/><stop offset="0.8611" stop-color="#ec9595"/><stop offset="0.9851" stop-color="#f1b1b1"/><stop offset="0.9994" stop-color="#f1b4b4"/></linearGradient><linearGradient id="g52" x2="0" y2="1"><stop offset="0.0006" stop-color="#b4e5a2"/><stop offset="0.2112" stop-color="#b5e5a3"/><stop offset="0.2926" stop-color="#abe297"/><stop offset="0.3495" stop-color="#a5e08f"/><stop offset="0.3908" stop-color="#abe296"/><stop offset="0.4709" stop-color="#bfe9af"/><stop offset="0.5756" stop-color="#caedbd"/><stop offset="0.6092" stop-color="#d6f1cc"/><stop offset="0.6363" stop-color="#e9f7e3"/><stop offset="0.6570" stop-color="#fffefe"/><stop offset="0.6854" stop-color="#f7d4d4"/><stop offset="0.7138" stop-color="#f1b5b5"/><stop offset="0.7397" stop-color="#eea5a5"/><stop offset="0.8262" stop-color="#eb9191"/><stop offset="0.8676" stop-color="#ec9696"/><stop offset="0.9813" stop-color="#f1b1b1"/><stop offset="0.9994" stop-color="#f1b4b4"/></linearGradient><linearGradient id="g53" x2="0" y2="1"><stop offset="0.0006" stop-color="#b4e5a1"/><stop offset="0.2087" stop-color="#b5e5a3"/><stop offset="0.2875" stop-color="#ace298"/><stop offset="0.3469" stop-color="#a5e08f"/><stop offset="0.3870" stop-color="#a9e195"/><stop offset="0.4696" stop-color="#bfe9af"/><stop offset="0.5782" stop-color="#caedbd"/><stop offset="0.6092" stop-color="#d5f1cb"/><stop offset="0.6363" stop-color="#e8f7e3"/><stop offset="0.6544" stop-color="#fcfefb"/><stop offset="0.6570" stop-color="#fffdfd"/><stop offset="0.6854" stop-color="#f7d2d2"/><stop offset="0.7125" stop-color="#f1b3b3"/><stop offset="0.7371" stop-color="#eea3a3"/><stop offset="0.8275" stop-color="#eb9090"/><stop offset="0.8689" stop-color="#ec9696"/><stop offset="0.9787" stop-color="#f1b0b0"/><stop offset="0.9994" stop-color="#f1b4b4"/></linearGradient><linearGradient id="g54" x2="0" y2="1"><stop offset="0.0006" stop-color="#b3e5a1"/><stop offset="0.2061" stop-color="#b5e6a3"/><stop offset="0.2836" stop-color="#ade399"/><stop offset="0.3456" stop-color="#a5e08f"/><stop offset="0.3857" stop-color="#a9e194"/><stop offset="0.4696" stop-color="#bfe9b0"/><stop offset="0.5420" stop-color="#c5ebb7"/><stop offset="0.5859" stop-color="#cbedbe"/><stop offset="0.6143" stop-color="#d7f1cd"/><stop offset="0.6389" stop-color="#eaf8e5"/><stop offset="0.6557" stop-color="#fefffe"/><stop offset="0.6596" stop-color="#fef8f8"/><stop offset="0.6906" stop-color="#f5c9c9"/><stop offset="0.7164" stop-color="#f0adad"/><stop offset="0.7410" stop-color="#ed9f9f"/><stop offset="0.8314" stop-color="#eb9090"/><stop offset="0.8779" stop-color="#ec9898"/><stop offset="0.9813" stop-color="#f1b1b1"/><stop offset="0.9994" stop-color="#f1b4b4"/></linearGradient><linearGradient id="g55" x2="0" y2="1"><stop offset="0.0006" stop-color="#b3e5a0"/><stop offset="0.2035" stop-color="#b6e6a4"/><stop offset="0.2797" stop-color="#ade39a"/><stop offset="0.3443" stop-color="#a5e08f"/><stop offset="0.3831" stop-color="#a8e194"/><stop offset="0.4696" stop-color="#c0e9b0"/><stop offset="0.5329" stop-color="#c4ebb6"/><stop offset="0.5833" stop-color="#c8ecbb"/><stop offset="0.6118" stop-color="#d3f0c9"/><stop offset="0.6363" stop-color="#e6f6e0"/><stop offset="0.6544" stop-color="#fbfefa"/><stop offset="0.6570" stop-color="#fffefe"/><stop offset="0.6815" stop-color="#f7d5d5"/><stop offset="0.7074" stop-color="#f1b3b3"/><stop offset="0.7306" stop-color="#eea1a1"/><stop offset="0.7590" stop-color="#ec9999"/><stop offset="0.8353" stop-color="#eb9090"/><stop offset="0.8882" stop-color="#ed9b9b"/><stop offset="0.9877" stop-color="#f1b2b2"/><stop offset="0.9994" stop-color="#f1b4b4"/></linearGradient><linearGradient id="g56" x2="0" y2="1"><stop offset="0.0006" stop-color="#b2e5a0"/><stop offset="0.2035" stop-color="#b6e6a4"/><stop offset="0.2797" stop-color="#ade39a"/><stop offset="0.3443" stop-color="#a5e08f"/><stop offset="0.3831" stop-color="#a9e194"/><stop offset="0.4696" stop-color="#c0e9b1"/><stop offset="0.5278" stop-color="#c4ebb6"/><stop offset="0.5820" stop-color="#c6ebb9"/><stop offset="0.6092" stop-color="#d0efc4"/><stop offset="0.6337" stop-color="#e2f5db"/><stop offset="0.6531" stop-color="#f8fdf6"/><stop offset="0.6570" stop-color="#fefffe"/><stop offset="0.6841" stop-color="#f6d0d0"/><stop offset="0.7099" stop-color="#f0afaf"/><stop offset="0.7319" stop-color="#ed9f9f"/><stop offset="0.7590" stop-color="#ec9898"/><stop offset="0.8379" stop-color="#eb9090"/><stop offset="0.8999" stop-color="#ed9f9f"/><stop offset="0.9994" stop-color="#f1b4b4"/></linearGradient><linearGradient id="g57" x2="0" y2="1"><stop offset="0.0006" stop-color="#b2e49f"/><stop offset="0.2022" stop-color="#b6e6a4"/><stop offset="0.2784" stop-color="#aee39a"/><stop offset="0.3443" stop-color="#a5e090"/><stop offset="0.3844" stop-color="#a9e295"/><stop offset="0.4683" stop-color="#c0e9b1"/><stop offset="0.5213" stop-color="#c4ebb5"/><stop offset="0.5807" stop-color="#c4ebb6"/><stop offset="0.6079" stop-color="#cdeec1"/><stop offset="0.6311" stop-color="#ddf3d5"/><stop offset="0.6518" stop-color="#f5fbf2"/><stop offset="0.6583" stop-color="#ffffff"/><stop offset="0.6776" stop-color="#f8dada"/><stop offset="0.7035" stop-color="#f1b5b5"/><stop offset="0.7255" stop-color="#eea1a1"/><stop offset="0.7487" stop-color="#ec9898"/><stop offset="0.8094" stop-color="#eb9393"/><stop offset="0.8469" stop-color="#eb9292"/><stop offset="0.9877" stop-color="#f1b2b2"/><stop offset="0.9994" stop-color="#f1b4b4"/></linearGradient><linearGradient id="g58" x2="0" y2="1"><stop offset="0.0006" stop-color="#b1e49f"/><stop offset="0.2022" stop-color="#b6e6a4"/><stop offset="0.2784" stop-color="#aee39b"/><stop offset="0.3443" stop-color="#a6e090"/><stop offset="0.3844" stop-color="#aae295"/><stop offset="0.4683" stop-color="#c0e9b1"/><stop offset="0.5200" stop-color="#c3eab5"/><stop offset="0.5807" stop-color="#c3eab4"/><stop offset="0.6066" stop-color="#caedbd"/><stop offset="0.6298" stop-color="#daf2d1"/><stop offset="0.6505" stop-color="#f1faee"/><stop offset="0.6583" stop-color="#fdfefd"/><stop offset="0.6596" stop-color="#fffdfd"/><stop offset="0.6815" stop-color="#f7d4d4"/><stop offset="0.7061" stop-color="#f1b2b2"/><stop offset="0.7280" stop-color="#ed9f9f"/><stop offset="0.7526" stop-color="#ec9797"/><stop offset="0.8081" stop-color="#eb9494"/><stop offset="0.8469" stop-color="#eb9393"/><stop offset="0.9903" stop-color="#f1b3b3"/><stop offset="0.9994" stop-color="#f1b4b4"/></linearGradient><linearGradient id="g59" x2="0" y2="1"><stop offset="0.0006" stop-color="#b1e49e"/><stop offset="0.2022" stop-color="#b6e6a5"/><stop offset="0.2784" stop-color="#afe39b"/><stop offset="0.3443" stop-color="#a6e091"/><stop offset="0.3844" stop-color="#abe296"/><stop offset="0.4683" stop-color="#c1e9b1"/><stop offset="0.5174" stop-color="#c3eab5"/><stop offset="0.5807" stop-color="#c1eab2"/><stop offset="0.6066" stop-color="#c8ecbb"/><stop offset="0.6286" stop-color="#d7f1cd"/><stop offset="0.6505" stop-color="#f0faec"/><stop offset="0.6596" stop-color="#fefffe"/><stop offset="0.6815" stop-color="#f7d5d5"/><stop offset="0.7061" stop-color="#f1b2b2"/><stop offset="0.7280" stop-color="#ed9e9e"/><stop offset="0.7513" stop-color="#ec9797"/><stop offset="0.8094" stop-color="#eb9494"/><stop offset="0.8495" stop-color="#eb9494"/><stop offset="0.9929" stop-color="#f1b4b4"/><stop offset="0.9994" stop-color="#f1b5b5"/></linearGradient><linearGradient id="g60" x2="0" y2="1"><stop offset="0.0006" stop-color="#b0e49d"/><stop offset="0.2022" stop-color="#b6e6a5"/><stop offset="0.2784" stop-color="#afe39c"/><stop offset="0.3443" stop-color="#a7e192"/><stop offset="0.3857" stop-color="#abe297"/><stop offset="0.4683" stop-color="#c1eab2"/><stop offset="0.5161" stop-color="#c3eab5"/><stop offset="0.5820" stop-color="#bfe9b0"/><stop offset="0.6066" stop-color="#c6ebb8"/><stop offset="0.6286" stop-color="#d5f1cb"/><stop offset="0.6505" stop-color="#eef9ea"/><stop offset="0.6609" stop-color="#fffefe"/><stop offset="0.6789" stop-color="#f8dada"/><stop offset="0.7035" stop-color="#f1b5b5"/><stop offset="0.7242" stop-color="#eea1a1"/><stop offset="0.7461" stop-color="#ec9898"/><stop offset="0.8198" stop-color="#eb9494"/><stop offset="0.8624" stop-color="#ec9797"/><stop offset="0.9903" stop-color="#f1b3b3"/><stop offset="0.9994" stop-color="#f1b5b5"/></linearGradient><linearGradient id="g61" x2="0" y2="1"><stop offset="0.0006" stop-color="#b0e49d"/><stop offset="0.1363" stop-color="#b5e6a4"/><stop offset="0.2229" stop-color="#b6e6a4"/><stop offset="0.3456" stop-color="#a8e193"/><stop offset="0.3870" stop-color="#ade399"/><stop offset="0.4683" stop-color="#c1eab2"/><stop offset="0.5149" stop-color="#c3eab5"/><stop offset="0.5820" stop-color="#bde8ad"/><stop offset="0.6066" stop-color="#c3eab5"/><stop offset="0.6286" stop-color="#d3f0c8"/><stop offset="0.6505" stop-color="#edf9e8"/><stop offset="0.6609" stop-color="#fdfefd"/><stop offset="0.6621" stop-color="#fffdfd"/><stop offset="0.6802" stop-color="#f8d9d9"/><stop offset="0.7035" stop-color="#f2b6b6"/><stop offset="0.7242" stop-color="#eea1a1"/><stop offset="0.7461" stop-color="#ec9898"/><stop offset="0.8482" stop-color="#ec9696"/><stop offset="0.9994" stop-color="#f1b5b5"/></linearGradient><linearGradient id="g62" x2="0" y2="1"><stop offset="0.0006" stop-color="#afe49c"/><stop offset="0.1195" stop-color="#b4e5a2"/><stop offset="0.2125" stop-color="#b6e6a5"/><stop offset="0.2978" stop-color="#ade399"/><stop offset="0.3521" stop-color="#a9e194"/><stop offset="0.3960" stop-color="#b0e49c"/><stop offset="0.4671" stop-color="#c1eab3"/><stop offset="0.5123" stop-color="#c3eab5"/><stop offset="0.5820" stop-color="#bbe8ab"/><stop offset="0.6053" stop-color="#c1eab2"/><stop offset="0.6260" stop-color="#ceeec3"/><stop offset="0.6479" stop-color="#e7f7e1"/><stop offset="0.6621" stop-color="#fefffe"/><stop offset="0.6686" stop-color="#fcf1f1"/><stop offset="0.6919" stop-color="#f5c7c7"/><stop offset="0.7138" stop-color="#f0abab"/><stop offset="0.7345" stop-color="#ed9c9c"/><stop offset="0.7616" stop-color="#ec9898"/><stop offset="0.8508" stop-color="#ec9797"/><stop offset="0.9994" stop-color="#f1b5b5"/></linearGradient><linearGradient id="g63" x2="0" y2="1"><stop offset="0.0006" stop-color="#afe39c"/><stop offset="0.1105" stop-color="#b4e5a1"/><stop offset="0.2074" stop-color="#b7e6a5"/><stop offset="0.2888" stop-color="#afe39c"/><stop offset="0.3482" stop-color="#a9e195"/><stop offset="0.3921" stop-color="#afe49c"/><stop offset="0.4671" stop-color="#c2eab3"/><stop offset="0.5110" stop-color="#c3eab5"/><stop offset="0.5833" stop-color="#bae7a9"/><stop offset="0.6066" stop-color="#bfe9b0"/><stop offset="0.6273" stop-color="#ceeec2"/><stop offset="0.6492" stop-color="#e7f7e1"/><stop offset="0.6634" stop-color="#fffffe"/><stop offset="0.6815" stop-color="#f8d9d9"/><stop offset="0.7048" stop-color="#f2b6b6"/><stop offset="0.7255" stop-color="#eea2a2"/><stop offset="0.7487" stop-color="#ec9999"/><stop offset="0.8508" stop-color="#ec9898"/><stop offset="0.9994" stop-color="#f1b5b5"/></linearGradient><linearGradient id="g64" x2="0" y2="1"><stop offset="0.0006" stop-color="#aee39b"/><stop offset="0.1040" stop-color="#b3e5a0"/><stop offset="0.2035" stop-color="#b7e6a6"/><stop offset="0.2836" stop-color="#b0e49d"/><stop offset="0.3469" stop-color="#aae296"/><stop offset="0.3908" stop-color="#b0e49d"/><stop offset="0.4671" stop-color="#c2eab4"/><stop offset="0.5110" stop-color="#c3eab5"/><stop offset="0.5833" stop-color="#b8e6a7"/><stop offset="0.6053" stop-color="#bde8ac"/><stop offset="0.6260" stop-color="#caedbe"/><stop offset="0.6479" stop-color="#e4f6dd"/><stop offset="0.6647" stop-color="#fffefe"/><stop offset="0.6802" stop-color="#f9dddd"/><stop offset="0.7022" stop-color="#f2bbbb"/><stop offset="0.7229" stop-color="#efa5a5"/><stop offset="0.7448" stop-color="#ed9b9b"/><stop offset="0.8508" stop-color="#ec9999"/><stop offset="0.9994" stop-color="#f2b5b5"/></linearGradient><linearGradient id="g65" x2="0" y2="1"><stop offset="0.0006" stop-color="#aee39a"/><stop offset="0.0988" stop-color="#b2e4a0"/><stop offset="0.2009" stop-color="#b7e6a6"/><stop offset="0.2810" stop-color="#b1e49e"/><stop offset="0.3469" stop-color="#abe297"/><stop offset="0.3921" stop-color="#b1e49f"/><stop offset="0.4671" stop-color="#c3eab4"/><stop offset="0.5097" stop-color="#c3eab5"/><stop offset="0.5833" stop-color="#b6e6a5"/><stop offset="0.6053" stop-color="#bbe7aa"/><stop offset="0.6260" stop-color="#c9ecbb"/><stop offset="0.6479" stop-color="#e2f5db"/><stop offset="0.6660" stop-color="#fffefe"/><stop offset="0.6815" stop-color="#f9dddd"/><stop offset="0.7035" stop-color="#f3bbbb"/><stop offset="0.7242" stop-color="#efa6a6"/><stop offset="0.7474" stop-color="#ed9c9c"/><stop offset="0.8521" stop-color="#ed9b9b"/><stop offset="0.9994" stop-color="#f2b6b6"/></linearGradient><linearGradient id="g66" x2="0" y2="1"><stop offset="0.0006" stop-color="#ade39a"/><stop offset="0.0950" stop-color="#b1e49f"/><stop offset="0.1996" stop-color="#b8e6a6"/><stop offset="0.2810" stop-color="#b2e49f"/><stop offset="0.3469" stop-color="#ace398"/><stop offset="0.3934" stop-color="#b3e5a0"/><stop offset="0.4671" stop-color="#c3eab5"/><stop offset="0.5097" stop-color="#c3eab5"/><stop offset="0.5833" stop-color="#b5e6a3"/><stop offset="0.6053" stop-color="#b9e7a8"/><stop offset="0.6247" stop-color="#c6ebb8"/><stop offset="0.6466" stop-color="#dff4d7"/><stop offset="0.6647" stop-color="#fbfefa"/><stop offset="0.6660" stop-color="#fefffe"/><stop offset="0.6854" stop-color="#f8d8d8"/><stop offset="0.7074" stop-color="#f2b8b8"/><stop offset="0.7293" stop-color="#eea5a5"/><stop offset="0.7539" stop-color="#ed9d9d"/><stop offset="0.8547" stop-color="#ed9c9c"/><stop offset="0.9994" stop-color="#f2b6b6"/></linearGradient><linearGradient id="g67" x2="0" y2="1"><stop offset="0.0006" stop-color="#ade399"/><stop offset="0.0898" stop-color="#b1e49e"/><stop offset="0.1970" stop-color="#b8e6a7"/><stop offset="0.2784" stop-color="#b3e5a0"/><stop offset="0.3469" stop-color="#aee39a"/><stop offset="0.3947" stop-color="#b4e5a2"/><stop offset="0.4671" stop-color="#c4ebb5"/><stop offset="0.5097" stop-color="#c4ebb5"/><stop offset="0.5833" stop-color="#b4e5a2"/><stop offset="0.6053" stop-color="#b8e6a7"/><stop offset="0.6247" stop-color="#c4ebb6"/><stop offset="0.6466" stop-color="#ddf3d5"/><stop offset="0.6660" stop-color="#fcfefb"/><stop offset="0.6673" stop-color="#fefffe"/><stop offset="0.6841" stop-color="#f9dcdc"/><stop offset="0.7061" stop-color="#f3bcbc"/><stop offset="0.7280" stop-color="#efa8a8"/><stop offset="0.7526" stop-color="#ed9f9f"/><stop offset="0.8534" stop-color="#ed9e9e"/><stop offset="0.9994" stop-color="#f2b6b6"/></linearGradient><linearGradient id="g68" x2="0" y2="1"><stop offset="0.0006" stop-color="#ace298"/><stop offset="0.0859" stop-color="#b0e49d"/><stop offset="0.1957" stop-color="#b8e6a7"/><stop offset="0.2784" stop-color="#b4e5a1"/><stop offset="0.3482" stop-color="#afe39c"/><stop offset="0.3986" stop-color="#b6e6a5"/><stop offset="0.4683" stop-color="#c4ebb6"/><stop offset="0.5097" stop-color="#c4ebb6"/><stop offset="0.5833" stop-color="#b3e5a1"/><stop offset="0.6053" stop-color="#b7e6a5"/><stop offset="0.6247" stop-color="#c3eab5"/><stop offset="0.6466" stop-color="#dcf3d4"/><stop offset="0.6660" stop-color="#fafdf8"/><stop offset="0.6686" stop-color="#ffffff"/><stop offset="0.6828" stop-color="#f9e1e1"/><stop offset="0.7048" stop-color="#f3c0c0"/><stop offset="0.7267" stop-color="#f0abab"/><stop offset="0.7526" stop-color="#eea1a1"/><stop offset="0.8508" stop-color="#ed9f9f"/><stop offset="0.9994" stop-color="#f2b6b6"/></linearGradient><linearGradient id="g69" x2="0" y2="1"><stop offset="0.0006" stop-color="#abe297"/><stop offset="0.0833" stop-color="#afe39c"/><stop offset="0.1944" stop-color="#b8e7a7"/><stop offset="0.2771" stop-color="#b4e5a2"/><stop offset="0.3482" stop-color="#b0e49d"/><stop offset="0.3999" stop-color="#b8e6a6"/><stop offset="0.4683" stop-color="#c5ebb7"/><stop offset="0.5097" stop-color="#c4ebb6"/><stop offset="0.5833" stop-color="#b3e5a0"/><stop offset="0.6053" stop-color="#b6e6a4"/><stop offset="0.6247" stop-color="#c3eab4"/><stop offset="0.6466" stop-color="#dbf3d2"/><stop offset="0.6673" stop-color="#fbfdfa"/><stop offset="0.6699" stop-color="#fffdfd"/><stop offset="0.6854" stop-color="#f9dede"/><stop offset="0.7074" stop-color="#f3bfbf"/><stop offset="0.7293" stop-color="#f0acac"/><stop offset="0.7565" stop-color="#eea2a2"/><stop offset="0.8508" stop-color="#eea0a0"/><stop offset="0.9994" stop-color="#f2b7b7"/></linearGradient><linearGradient id="g70" x2="0" y2="1"><stop offset="0.0006" stop-color="#abe297"/><stop offset="0.0795" stop-color="#aee39b"/><stop offset="0.1944" stop-color="#b8e7a7"/><stop offset="0.2797" stop-color="#b5e5a3"/><stop offset="0.3495" stop-color="#b2e49f"/><stop offset="0.4037" stop-color="#bae7a9"/><stop offset="0.4696" stop-color="#c6ebb8"/><stop offset="0.5110" stop-color="#c4ebb6"/><stop offset="0.5833" stop-color="#b2e5a0"/><stop offset="0.6053" stop-color="#b6e6a4"/><stop offset="0.6247" stop-color="#c2eab4"/><stop offset="0.6466" stop-color="#daf2d2"/><stop offset="0.6686" stop-color="#fcfefb"/><stop offset="0.6699" stop-color="#fefffe"/><stop offset="0.6867" stop-color="#f9dede"/><stop offset="0.7087" stop-color="#f3c0c0"/><stop offset="0.7319" stop-color="#f0adad"/><stop offset="0.7603" stop-color="#eea4a4"/><stop offset="0.8508" stop-color="#eea1a1"/><stop offset="0.9994" stop-color="#f2b7b7"/></linearGradient><linearGradient id="g71" x2="0" y2="1"><stop offset="0.0006" stop-color="#aae296"/><stop offset="0.0769" stop-color="#ade39a"/><stop offset="0.1932" stop-color="#b8e7a7"/><stop offset="0.2784" stop-color="#b6e6a4"/><stop offset="0.3508" stop-color="#b3e5a1"/><stop offset="0.4089" stop-color="#bce8ac"/><stop offset="0.4709" stop-color="#c7ecb9"/><stop offset="0.5123" stop-color="#c5ebb6"/><stop offset="0.5820" stop-color="#b3e5a0"/><stop offset="0.6040" stop-color="#b5e6a4"/><stop offset="0.6234" stop-color="#c1eab2"/><stop offset="0.6453" stop-color="#d8f2cf"/><stop offset="0.6686" stop-color="#fafdf9"/><stop offset="0.6712" stop-color="#fffefe"/><stop offset="0.6867" stop-color="#f9e0e0"/><stop offset="0.7087" stop-color="#f4c3c3"/><stop offset="0.7319" stop-color="#f0b0b0"/><stop offset="0.7616" stop-color="#efa6a6"/><stop offset="0.8495" stop-color="#eea3a3"/><stop offset="0.9994" stop-color="#f2b7b7"/></linearGradient><linearGradient id="g72" x2="0" y2="1"><stop offset="0.0006" stop-color="#aae295"/><stop offset="0.0756" stop-color="#ade399"/><stop offset="0.1932" stop-color="#b9e7a8"/><stop offset="0.2797" stop-color="#b6e6a5"/><stop offset="0.3521" stop-color="#b4e5a2"/><stop offset="0.4141" stop-color="#bee9ae"/><stop offset="0.4735" stop-color="#c7ecba"/><stop offset="0.5149" stop-color="#c5ebb6"/><stop offset="0.5820" stop-color="#b3e5a1"/><stop offset="0.6040" stop-color="#b6e6a4"/><stop offset="0.6247" stop-color="#c3eab4"/><stop offset="0.6479" stop-color="#dcf3d3"/><stop offset="0.6699" stop-color="#fcfefb"/><stop offset="0.6712" stop-color="#fefffe"/><stop offset="0.6893" stop-color="#f9dede"/><stop offset="0.7125" stop-color="#f4c1c1"/><stop offset="0.7371" stop-color="#f0afaf"/><stop offset="0.7707" stop-color="#efa6a6"/><stop offset="0.8534" stop-color="#eea4a4"/><stop offset="0.9994" stop-color="#f2b8b8"/></linearGradient><linearGradient id="g73" x2="0" y2="1"><stop offset="0.0006" stop-color="#a9e194"/><stop offset="0.0730" stop-color="#ace298"/><stop offset="0.1932" stop-color="#b9e7a8"/><stop offset="0.2823" stop-color="#b7e6a6"/><stop offset="0.3547" stop-color="#b6e6a4"/><stop offset="0.4270" stop-color="#c2eab3"/><stop offset="0.4800" stop-color="#c8ecbb"/><stop offset="0.5213" stop-color="#c4ebb6"/><stop offset="0.5807" stop-color="#b4e5a2"/><stop offset="0.6027" stop-color="#b6e6a5"/><stop offset="0.6234" stop-color="#c2eab4"/><stop offset="0.6466" stop-color="#daf2d1"/><stop offset="0.6699" stop-color="#fbfdfa"/><stop offset="0.6725" stop-color="#fffefe"/><stop offset="0.6880" stop-color="#fae2e2"/><stop offset="0.7112" stop-color="#f4c5c5"/><stop offset="0.7371" stop-color="#f1b2b2"/><stop offset="0.7707" stop-color="#efa9a9"/><stop offset="0.8508" stop-color="#efa6a6"/><stop offset="0.9994" stop-color="#f2b8b8"/></linearGradient><linearGradient id="g74" x2="0" y2="1"><stop offset="0.0006" stop-color="#a8e193"/><stop offset="0.0704" stop-color="#abe297"/><stop offset="0.1944" stop-color="#b9e7a8"/><stop offset="0.2862" stop-color="#b8e6a7"/><stop offset="0.3572" stop-color="#b8e6a6"/><stop offset="0.4722" stop-color="#c9ecbc"/><stop offset="0.5149" stop-color="#c6ebb8"/><stop offset="0.5820" stop-color="#b5e6a4"/><stop offset="0.6040" stop-color="#b8e7a7"/><stop offset="0.6247" stop-color="#c5ebb7"/><stop offset="0.6492" stop-color="#def4d6"/><stop offset="0.6712" stop-color="#fcfefb"/><stop offset="0.6725" stop-color="#fefffe"/><stop offset="0.6906" stop-color="#f9e0e0"/><stop offset="0.7151" stop-color="#f4c4c4"/><stop offset="0.7422" stop-color="#f1b3b3"/><stop offset="0.7810" stop-color="#efa9a9"/><stop offset="0.8585" stop-color="#efa8a8"/><stop offset="0.9994" stop-color="#f2b8b8"/></linearGradient><linearGradient id="g75" x2="0" y2="1"><stop offset="0.0006" stop-color="#a8e192"/><stop offset="0.0691" stop-color="#aae296"/><stop offset="0.1944" stop-color="#b9e7a8"/><stop offset="0.2888" stop-color="#b9e7a8"/><stop offset="0.3598" stop-color="#b9e7a9"/><stop offset="0.4722" stop-color="#caedbd"/><stop offset="0.5149" stop-color="#c7ecba"/><stop offset="0.5807" stop-color="#b7e6a6"/><stop offset="0.6040" stop-color="#bae7aa"/><stop offset="0.6260" stop-color="#c7ecba"/><stop offset="0.6518" stop-color="#e2f5db"/><stop offset="0.6725" stop-color="#fefffd"/><stop offset="0.6764" stop-color="#fef8f8"/><stop offset="0.6970" stop-color="#f8d9d9"/><stop offset="0.7229" stop-color="#f4c0c0"/><stop offset="0.7526" stop-color="#f1b1b1"/><stop offset="0.8043" stop-color="#efa9a9"/><stop offset="0.8805" stop-color="#f0abab"/><stop offset="0.9994" stop-color="#f2b8b8"/></linearGradient><linearGradient id="g76" x2="0" y2="1"><stop offset="0.0006" stop-color="#a7e192"/><stop offset="0.0678" stop-color="#a9e295"/><stop offset="0.1944" stop-color="#b9e7a9"/><stop offset="0.2913" stop-color="#b9e7a9"/><stop offset="0.3624" stop-color="#bbe8aa"/><stop offset="0.4722" stop-color="#cbedbe"/><stop offset="0.5161" stop-color="#c8ecba"/><stop offset="0.5807" stop-color="#b9e7a8"/><stop offset="0.6040" stop-color="#bce8ac"/><stop offset="0.6260" stop-color="#c9ecbc"/><stop offset="0.6531" stop-color="#e4f6de"/><stop offset="0.6738" stop-color="#fffefe"/><stop offset="0.6919" stop-color="#fae1e1"/><stop offset="0.7177" stop-color="#f5c6c6"/><stop offset="0.7474" stop-color="#f1b5b5"/><stop offset="0.7926" stop-color="#f0acac"/><stop offset="0.8689" stop-color="#f0abab"/><stop offset="0.9994" stop-color="#f2b9b9"/></linearGradient><linearGradient id="g77" x2="0" y2="1"><stop offset="0.0006" stop-color="#a6e091"/><stop offset="0.0665" stop-color="#a9e194"/><stop offset="0.1957" stop-color="#bae7a9"/><stop offset="0.2991" stop-color="#bae7aa"/><stop offset="0.3689" stop-color="#bde8ad"/><stop offset="0.4709" stop-color="#ccedbf"/><stop offset="0.5149" stop-color="#c9ecbc"/><stop offset="0.5807" stop-color="#bbe8ab"/><stop offset="0.6040" stop-color="#bfe9af"/><stop offset="0.6273" stop-color="#ccedc0"/><stop offset="0.6557" stop-color="#e8f7e3"/><stop offset="0.6738" stop-color="#fffefe"/><stop offset="0.6919" stop-color="#fae2e2"/><stop offset="0.7177" stop-color="#f5c8c8"/><stop offset="0.7474" stop-color="#f2b7b7"/><stop offset="0.7926" stop-color="#f0adad"/><stop offset="0.8689" stop-color="#f0acac"/><stop offset="0.9994" stop-color="#f2b9b9"/></linearGradient><linearGradient id="g78" x2="0" y2="1"><stop offset="0.0006" stop-color="#a6e090"/><stop offset="0.0652" stop-color="#a8e193"/><stop offset="0.1957" stop-color="#bae7a9"/><stop offset="0.3017" stop-color="#bbe8ab"/><stop offset="0.3727" stop-color="#bee9af"/><stop offset="0.4709" stop-color="#cceec0"/><stop offset="0.5161" stop-color="#caedbd"/><stop offset="0.5807" stop-color="#bde8ad"/><stop offset="0.6053" stop-color="#c1eab2"/><stop offset="0.6286" stop-color="#cfeec3"/><stop offset="0.6583" stop-color="#ecf8e7"/><stop offset="0.6725" stop-color="#fefffe"/><stop offset="0.6764" stop-color="#fef9f9"/><stop offset="0.6996" stop-color="#f8dada"/><stop offset="0.7280" stop-color="#f4c3c3"/><stop offset="0.7629" stop-color="#f1b4b4"/><stop offset="0.8236" stop-color="#f0acac"/><stop offset="0.9115" stop-color="#f1b0b0"/><stop offset="0.9994" stop-color="#f2b9b9"/></linearGradient><linearGradient id="g79" x2="0" y2="1"><stop offset="0.0006" stop-color="#a6e090"/><stop offset="0.0640" stop-color="#a8e193"/><stop offset="0.1970" stop-color="#bae7aa"/><stop offset="0.3598" stop-color="#bee9ae"/><stop offset="0.4735" stop-color="#cdeec1"/><stop offset="0.5200" stop-color="#caedbe"/><stop offset="0.5795" stop-color="#bfe9b0"/><stop offset="0.6040" stop-color="#c3eab4"/><stop offset="0.6273" stop-color="#d0efc4"/><stop offset="0.6570" stop-color="#ecf8e7"/><stop offset="0.6725" stop-color="#fefffe"/><stop offset="0.6944" stop-color="#f9e1e1"/><stop offset="0.7229" stop-color="#f5c8c8"/><stop offset="0.7565" stop-color="#f2b7b7"/><stop offset="0.8107" stop-color="#f0aeae"/><stop offset="0.8921" stop-color="#f0afaf"/><stop offset="0.9994" stop-color="#f2baba"/></linearGradient><linearGradient id="g80" x2="0" y2="1"><stop offset="0.0006" stop-color="#a5e08f"/><stop offset="0.0627" stop-color="#a7e192"/><stop offset="0.1970" stop-color="#bae7aa"/><stop offset="0.3611" stop-color="#bfe9b0"/><stop offset="0.4735" stop-color="#ceeec2"/><stop offset="0.5213" stop-color="#cbedbf"/><stop offset="0.5795" stop-color="#c1eab2"/><stop offset="0.6053" stop-color="#c5ebb7"/><stop offset="0.6298" stop-color="#d4f0c9"/><stop offset="0.6609" stop-color="#f1faed"/><stop offset="0.6725" stop-color="#ffffff"/><stop offset="0.6906" stop-color="#fae6e6"/><stop offset="0.7190" stop-color="#f6cbcb"/><stop offset="0.7526" stop-color="#f2baba"/><stop offset="0.8030" stop-color="#f1b0b0"/><stop offset="0.8831" stop-color="#f0afaf"/><stop offset="0.9994" stop-color="#f2baba"/></linearGradient><linearGradient id="g81" x2="0" y2="1"><stop offset="0.0006" stop-color="#a5e08f"/><stop offset="0.0627" stop-color="#a7e191"/><stop offset="0.1970" stop-color="#bae7aa"/><stop offset="0.3624" stop-color="#c0e9b1"/><stop offset="0.4735" stop-color="#cfeec3"/><stop offset="0.5213" stop-color="#ccedc0"/><stop offset="0.5795" stop-color="#c3eab5"/><stop offset="0.6053" stop-color="#c7ecba"/><stop offset="0.6311" stop-color="#d6f1cc"/><stop offset="0.6634" stop-color="#f4fbf2"/><stop offset="0.6725" stop-color="#fffefe"/><stop offset="0.6932" stop-color="#fae3e3"/><stop offset="0.7229" stop-color="#f5caca"/><stop offset="0.7578" stop-color="#f2b9b9"/><stop offset="0.8120" stop-color="#f1b0b0"/><stop offset="0.8960" stop-color="#f1b1b1"/><stop offset="0.9994" stop-color="#f2baba"/></linearGradient><linearGradient id="g82" x2="0" y2="1"><stop offset="0.0006" stop-color="#a4e08f"/><stop offset="0.0614" stop-color="#a6e091"/><stop offset="0.1983" stop-color="#bbe7aa"/><stop offset="0.3637" stop-color="#c1eab2"/><stop offset="0.4748" stop-color="#d0efc4"/><stop offset="0.5252" stop-color="#cdeec0"/><stop offset="0.5795" stop-color="#c5ebb7"/><stop offset="0.6053" stop-color="#caedbd"/><stop offset="0.6311" stop-color="#d8f2cf"/><stop offset="0.6634" stop-color="#f5fcf3"/><stop offset="0.6712" stop-color="#fefffe"/><stop offset="0.6944" stop-color="#fae2e2"/><stop offset="0.7255" stop-color="#f5c9c9"/><stop offset="0.7629" stop-color="#f2b9b9"/><stop offset="0.8224" stop-color="#f1b0b0"/><stop offset="0.9141" stop-color="#f1b3b3"/><stop offset="0.9994" stop-color="#f2baba"/></linearGradient><linearGradient id="g83" x2="0" y2="1"><stop offset="0.0006" stop-color="#a4e08e"/><stop offset="0.0614" stop-color="#a6e090"/><stop offset="0.1983" stop-color="#bbe8aa"/><stop offset="0.3650" stop-color="#c2eab3"/><stop offset="0.4748" stop-color="#d0efc5"/><stop offset="0.5265" stop-color="#ceeec2"/><stop offset="0.5807" stop-color="#c7ecba"/><stop offset="0.6079" stop-color="#cdeec1"/><stop offset="0.6350" stop-color="#ddf3d5"/><stop offset="0.6673" stop-color="#fbfdfa"/><stop offset="0.6712" stop-color="#fffefe"/><stop offset="0.6932" stop-color="#fae4e4"/><stop offset="0.7255" stop-color="#f5caca"/><stop offset="0.7642" stop-color="#f2baba"/><stop offset="0.8236" stop-color="#f1b1b1"/><stop offset="0.9167" stop-color="#f1b3b3"/><stop offset="0.9994" stop-color="#f2baba"/></linearGradient><linearGradient id="g84" x2="0" y2="1"><stop offset="0.0006" stop-color="#a4e08e"/><stop offset="0.0601" stop-color="#a6e090"/><stop offset="0.1996" stop-color="#bbe8ab"/><stop offset="0.3663" stop-color="#c3eab5"/><stop offset="0.4761" stop-color="#d1efc6"/><stop offset="0.5291" stop-color="#cfeec3"/><stop offset="0.5807" stop-color="#c9ecbc"/><stop offset="0.6079" stop-color="#cfefc4"/><stop offset="0.6363" stop-color="#e0f4d8"/><stop offset="0.6673" stop-color="#fcfefb"/><stop offset="0.6699" stop-color="#ffffff"/><stop offset="0.6906" stop-color="#fae6e6"/><stop offset="0.7229" stop-color="#f6cccc"/><stop offset="0.7616" stop-color="#f3bcbc"/><stop offset="0.8198" stop-color="#f1b2b2"/><stop offset="0.9115" stop-color="#f1b4b4"/><stop offset="0.9994" stop-color="#f2bbbb"/></linearGradient><linearGradient id="g85" x2="0" y2="1"><stop offset="0.0006" stop-color="#a4df8e"/><stop offset="0.0601" stop-color="#a5e090"/><stop offset="0.2009" stop-color="#bbe8ab"/><stop offset="0.3676" stop-color="#c4ebb6"/><stop offset="0.4774" stop-color="#d2f0c7"/><stop offset="0.5329" stop-color="#cfefc4"/><stop offset="0.5820" stop-color="#ccedbf"/><stop offset="0.6105" stop-color="#d3f0c8"/><stop offset="0.6402" stop-color="#e5f6de"/><stop offset="0.6686" stop-color="#ffffff"/><stop offset="0.6932" stop-color="#fae3e3"/><stop offset="0.7267" stop-color="#f5cbcb"/><stop offset="0.7681" stop-color="#f2bbbb"/><stop offset="0.8314" stop-color="#f1b2b2"/><stop offset="0.9348" stop-color="#f2b6b6"/><stop offset="0.9994" stop-color="#f2bbbb"/></linearGradient><linearGradient id="g86" x2="0" y2="1"><stop offset="0.0006" stop-color="#a3df8d"/><stop offset="0.0601" stop-color="#a5e08f"/><stop offset="0.2009" stop-color="#bce8ab"/><stop offset="0.3689" stop-color="#c5ebb7"/><stop offset="0.4774" stop-color="#d3f0c9"/><stop offset="0.5355" stop-color="#d1efc5"/><stop offset="0.5820" stop-color="#ceeec2"/><stop offset="0.6105" stop-color="#d5f1cb"/><stop offset="0.6402" stop-color="#e7f7e1"/><stop offset="0.6673" stop-color="#fffffe"/><stop offset="0.6932" stop-color="#fae3e3"/><stop offset="0.7280" stop-color="#f5cbcb"/><stop offset="0.7707" stop-color="#f3bbbb"/><stop offset="0.8353" stop-color="#f1b3b3"/><stop offset="0.9464" stop-color="#f2b7b7"/><stop offset="0.9994" stop-color="#f3bbbb"/></linearGradient><linearGradient id="g87" x2="0" y2="1"><stop offset="0.0006" stop-color="#a3df8d"/><stop offset="0.0588" stop-color="#a5e08f"/><stop offset="0.2022" stop-color="#bce8ac"/><stop offset="0.3702" stop-color="#c6ebb8"/><stop offset="0.4787" stop-color="#d4f0ca"/><stop offset="0.5407" stop-color="#d2efc7"/><stop offset="0.5846" stop-color="#d1efc5"/><stop offset="0.6143" stop-color="#d9f2d0"/><stop offset="0.6466" stop-color="#eef9e9"/><stop offset="0.6660" stop-color="#ffffff"/><stop offset="0.6919" stop-color="#fae4e4"/><stop offset="0.7280" stop-color="#f6cbcb"/><stop offset="0.7720" stop-color="#f3bcbc"/><stop offset="0.8379" stop-color="#f1b4b4"/><stop offset="0.9541" stop-color="#f2b8b8"/><stop offset="0.9994" stop-color="#f3bbbb"/></linearGradient><linearGradient id="g88" x2="0" y2="1"><stop offset="0.0006" stop-color="#a3df8d"/><stop offset="0.0588" stop-color="#a4e08e"/><stop offset="0.2022" stop-color="#bce8ac"/><stop offset="0.3714" stop-color="#c7ecb9"/><stop offset="0.4800" stop-color="#d5f0cb"/><stop offset="0.5484" stop-color="#d2f0c7"/><stop offset="0.5885" stop-color="#d3f0c8"/><stop offset="0.6182" stop-color="#ddf3d5"/><stop offset="0.6518" stop-color="#f3fbf0"/><stop offset="0.6647" stop-color="#ffffff"/><stop offset="0.6906" stop-color="#fae5e5"/><stop offset="0.7280" stop-color="#f6cccc"/><stop offset="0.7733" stop-color="#f3bcbc"/><stop offset="0.8404" stop-color="#f1b4b4"/><stop offset="0.9632" stop-color="#f2b9b9"/><stop offset="0.9994" stop-color="#f3bbbb"/></linearGradient><linearGradient id="g89" x2="0" y2="1"><stop offset="0.0006" stop-color="#a3df8c"/><stop offset="0.0588" stop-color="#a4e08e"/><stop offset="0.2035" stop-color="#bce8ac"/><stop offset="0.3727" stop-color="#c8ecbb"/><stop offset="0.4813" stop-color="#d6f1cc"/><stop offset="0.5820" stop-color="#d4f0ca"/><stop offset="0.6130" stop-color="#ddf3d4"/><stop offset="0.6466" stop-color="#f1faed"/><stop offset="0.6634" stop-color="#ffffff"/><stop offset="0.6906" stop-color="#fae4e4"/><stop offset="0.7293" stop-color="#f6cccc"/><stop offset="0.7758" stop-color="#f3bcbc"/><stop offset="0.8456" stop-color="#f1b5b5"/><stop offset="0.9826" stop-color="#f2baba"/><stop offset="0.9994" stop-color="#f3bbbb"/></linearGradient><linearGradient id="g90" x2="0" y2="1"><stop offset="0.0006" stop-color="#a3df8c"/><stop offset="0.0588" stop-color="#a4e08e"/><stop offset="0.2035" stop-color="#bde8ad"/><stop offset="0.3740" stop-color="#c9ecbc"/><stop offset="0.4826" stop-color="#d7f1cd"/><stop offset="0.5820" stop-color="#d6f1cc"/><stop offset="0.6130" stop-color="#dff4d7"/><stop offset="0.6466" stop-color="#f2fbef"/><stop offset="0.6621" stop-color="#fffefe"/><stop offset="0.6919" stop-color="#fae3e3"/><stop offset="0.7319" stop-color="#f5cbcb"/><stop offset="0.7810" stop-color="#f3bcbc"/><stop offset="0.8547" stop-color="#f1b5b5"/><stop offset="0.9994" stop-color="#f3bcbc"/></linearGradient><linearGradient id="g91" x2="0" y2="1"><stop offset="0.0006" stop-color="#a2df8c"/><stop offset="0.0588" stop-color="#a4e08e"/><stop offset="0.2048" stop-color="#bde8ad"/><stop offset="0.3753" stop-color="#c9edbd"/><stop offset="0.4839" stop-color="#d7f1ce"/><stop offset="0.5807" stop-color="#d8f1ce"/><stop offset="0.6130" stop-color="#e1f5d9"/><stop offset="0.6479" stop-color="#f5fcf3"/><stop offset="0.6596" stop-color="#ffffff"/><stop offset="0.6906" stop-color="#fae3e3"/><stop offset="0.7319" stop-color="#f5cbcb"/><stop offset="0.7823" stop-color="#f3bcbc"/><stop offset="0.8572" stop-color="#f2b5b5"/><stop offset="0.9994" stop-color="#f3bcbc"/></linearGradient><linearGradient id="g92" x2="0" y2="1"><stop offset="0.0006" stop-color="#a2df8c"/><stop offset="0.0575" stop-color="#a4e08e"/><stop offset="0.2061" stop-color="#bde8ad"/><stop offset="0.3766" stop-color="#caedbe"/><stop offset="0.4864" stop-color="#d8f2cf"/><stop offset="0.5807" stop-color="#daf2d1"/><stop offset="0.6143" stop-color="#e3f6dd"/><stop offset="0.6492" stop-color="#f8fdf6"/><stop offset="0.6583" stop-color="#fffefe"/><stop offset="0.6906" stop-color="#fae2e2"/><stop offset="0.7332" stop-color="#f5cbcb"/><stop offset="0.7849" stop-color="#f3bcbc"/><stop offset="0.8624" stop-color="#f2b6b6"/><stop offset="0.9994" stop-color="#f3bcbc"/></linearGradient><linearGradient id="g93" x2="0" y2="1"><stop offset="0.0006" stop-color="#a2df8c"/><stop offset="0.0575" stop-color="#a4df8d"/><stop offset="0.2061" stop-color="#bde8ae"/><stop offset="0.3779" stop-color="#cbedbf"/><stop offset="0.4877" stop-color="#d9f2d0"/><stop offset="0.5807" stop-color="#dcf3d3"/><stop offset="0.6143" stop-color="#e6f6df"/><stop offset="0.6492" stop-color="#fafdf9"/><stop offset="0.6557" stop-color="#ffffff"/><stop offset="0.6880" stop-color="#fae3e3"/><stop offset="0.7319" stop-color="#f6cbcb"/><stop offset="0.7849" stop-color="#f3bcbc"/><stop offset="0.8637" stop-color="#f2b6b6"/><stop offset="0.9994" stop-color="#f3bcbc"/></linearGradient><linearGradient id="g94" x2="0" y2="1"><stop offset="0.0006" stop-color="#a2df8c"/><stop offset="0.0575" stop-color="#a3df8d"/><stop offset="0.2074" stop-color="#bee8ae"/><stop offset="0.3792" stop-color="#ccedc0"/><stop offset="0.4903" stop-color="#daf2d2"/><stop offset="0.5795" stop-color="#def4d6"/><stop offset="0.6143" stop-color="#e8f7e2"/><stop offset="0.6492" stop-color="#fcfefb"/><stop offset="0.6531" stop-color="#ffffff"/><stop offset="0.6867" stop-color="#fae3e3"/><stop offset="0.7319" stop-color="#f6cbcb"/><stop offset="0.7862" stop-color="#f3bdbd"/><stop offset="0.8663" stop-color="#f2b7b7"/><stop offset="0.9994" stop-color="#f3bcbc"/></linearGradient><linearGradient id="g95" x2="0" y2="1"><stop offset="0.0006" stop-color="#a2df8c"/><stop offset="0.0575" stop-color="#a3df8d"/><stop offset="0.2074" stop-color="#bee9ae"/><stop offset="0.3805" stop-color="#cdeec1"/><stop offset="0.4929" stop-color="#dbf3d3"/><stop offset="0.5795" stop-color="#e0f4d8"/><stop offset="0.6156" stop-color="#ebf8e6"/><stop offset="0.6479" stop-color="#fdfefd"/><stop offset="0.6518" stop-color="#fffdfd"/><stop offset="0.6906" stop-color="#f9e0e0"/><stop offset="0.7384" stop-color="#f5c9c9"/><stop offset="0.7965" stop-color="#f3bcbc"/><stop offset="0.8831" stop-color="#f2b7b7"/><stop offset="0.9994" stop-color="#f3bcbc"/></linearGradient><linearGradient id="g96" x2="0" y2="1"><stop offset="0.0006" stop-color="#a2df8c"/><stop offset="0.0575" stop-color="#a3df8d"/><stop offset="0.2087" stop-color="#bee9af"/><stop offset="0.3818" stop-color="#ceeec2"/><stop offset="0.4955" stop-color="#ddf3d4"/><stop offset="0.5795" stop-color="#e2f5db"/><stop offset="0.6156" stop-color="#edf9e9"/><stop offset="0.6466" stop-color="#ffffff"/><stop offset="0.6854" stop-color="#fae2e2"/><stop offset="0.7345" stop-color="#f5cbcb"/><stop offset="0.7939" stop-color="#f3bcbc"/><stop offset="0.8805" stop-color="#f2b8b8"/><stop offset="0.9994" stop-color="#f3bcbc"/></linearGradient><linearGradient id="g97" x2="0" y2="1"><stop offset="0.0006" stop-color="#a2df8c"/><stop offset="0.0575" stop-color="#a3df8d"/><stop offset="0.2099" stop-color="#bee9af"/><stop offset="0.3818" stop-color="#ceeec2"/><stop offset="0.4981" stop-color="#ddf3d5"/><stop offset="0.5795" stop-color="#e3f5dd"/><stop offset="0.6169" stop-color="#effaeb"/><stop offset="0.6441" stop-color="#ffffff"/><stop offset="0.6841" stop-color="#fae2e2"/><stop offset="0.7345" stop-color="#f5cbcb"/><stop offset="0.7952" stop-color="#f3bdbd"/><stop offset="0.8844" stop-color="#f2b8b8"/><stop offset="0.9994" stop-color="#f3bcbc"/></linearGradient><linearGradient id="g98" x2="0" y2="1"><stop offset="0.0006" stop-color="#a2df8c"/><stop offset="0.0575" stop-color="#a3df8d"/><stop offset="0.2099" stop-color="#bfe9af"/><stop offset="0.3831" stop-color="#cfeec3"/><stop offset="0.5006" stop-color="#def4d7"/><stop offset="0.5795" stop-color="#e5f6df"/><stop offset="0.6169" stop-color="#f1faee"/><stop offset="0.6415" stop-color="#ffffff"/><stop offset="0.6815" stop-color="#fae3e3"/><stop offset="0.7332" stop-color="#f5cbcb"/><stop offset="0.7952" stop-color="#f3bdbd"/><stop offset="0.8857" stop-color="#f2b8b8"/><stop offset="0.9994" stop-color="#f3bcbc"/></linearGradient><linearGradient id="g99" x2="0" y2="1"><stop offset="0.0006" stop-color="#a2df8c"/><stop offset="0.0575" stop-color="#a3df8d"/><stop offset="0.2112" stop-color="#bfe9af"/><stop offset="0.3844" stop-color="#cfefc4"/><stop offset="0.5032" stop-color="#dff4d8"/><stop offset="0.5795" stop-color="#e7f7e1"/><stop offset="0.6182" stop-color="#f3fbf1"/><stop offset="0.6389" stop-color="#ffffff"/><stop offset="0.6815" stop-color="#fae2e2"/><stop offset="0.7345" stop-color="#f5cbcb"/><stop offset="0.7978" stop-color="#f3bdbd"/><stop offset="0.8908" stop-color="#f2b8b8"/><stop offset="0.9994" stop-color="#f3bcbc"/></linearGradient><linearGradient id="g100" x2="0" y2="1"><stop offset="0.0006" stop-color="#a2df8c"/><stop offset="0.0575" stop-color="#a3df8d"/><stop offset="0.2112" stop-color="#bfe9b0"/><stop offset="0.3857" stop-color="#d0efc5"/><stop offset="0.5058" stop-color="#e0f4d9"/><stop offset="0.5795" stop-color="#e8f7e3"/><stop offset="0.6182" stop-color="#f5fcf3"/><stop offset="0.6363" stop-color="#fffefe"/><stop offset="0.6828" stop-color="#f9e0e0"/><stop offset="0.7384" stop-color="#f5c9c9"/><stop offset="0.8056" stop-color="#f3bcbc"/><stop offset="0.9050" stop-color="#f2b9b9"/><stop offset="0.9994" stop-color="#f3bdbd"/></linearGradient><linearGradient id="g101" x2="0" y2="1"><stop offset="0.0006" stop-color="#a2df8c"/><stop offset="0.0575" stop-color="#a3df8d"/><stop offset="0.2125" stop-color="#bfe9b0"/><stop offset="0.3857" stop-color="#d1efc5"/><stop offset="0.5097" stop-color="#e2f5db"/><stop offset="0.5795" stop-color="#eaf8e5"/><stop offset="0.6182" stop-color="#f7fcf5"/><stop offset="0.6324" stop-color="#fffefe"/><stop offset="0.6789" stop-color="#f9e1e1"/><stop offset="0.7358" stop-color="#f5caca"/><stop offset="0.8030" stop-color="#f3bdbd"/><stop offset="0.9012" stop-color="#f2b9b9"/><stop offset="0.9994" stop-color="#f3bdbd"/></linearGradient><linearGradient id="g102" x2="0" y2="1"><stop offset="0.0006" stop-color="#a2df8c"/><stop offset="0.0575" stop-color="#a3df8d"/><stop offset="0.2125" stop-color="#c0e9b0"/><stop offset="0.3870" stop-color="#d1efc6"/><stop offset="0.5149" stop-color="#e3f5dc"/><stop offset="0.5807" stop-color="#ecf8e7"/><stop offset="0.6195" stop-color="#fafdf9"/><stop offset="0.6286" stop-color="#ffffff"/><stop offset="0.6764" stop-color="#fae1e1"/><stop offset="0.7345" stop-color="#f5caca"/><stop offset="0.8043" stop-color="#f3bdbd"/><stop offset="0.9050" stop-color="#f2b9b9"/><stop offset="0.9994" stop-color="#f3bdbd"/></linearGradient><linearGradient id="g103" x2="0" y2="1"><stop offset="0.0006" stop-color="#a2df8c"/><stop offset="0.0575" stop-color="#a3df8d"/><stop offset="0.2138" stop-color="#c0e9b1"/><stop offset="0.3882" stop-color="#d2efc7"/><stop offset="0.5213" stop-color="#e5f6de"/><stop offset="0.5820" stop-color="#eef9ea"/><stop offset="0.6195" stop-color="#fcfefb"/><stop offset="0.6247" stop-color="#ffffff"/><stop offset="0.6751" stop-color="#f9e0e0"/><stop offset="0.7358" stop-color="#f5caca"/><stop offset="0.8081" stop-color="#f3bdbd"/><stop offset="0.9141" stop-color="#f2baba"/><stop offset="0.9994" stop-color="#f3bdbd"/></linearGradient><linearGradient id="g104" x2="0" y2="1"><stop offset="0.0006" stop-color="#a2df8c"/><stop offset="0.0575" stop-color="#a3df8d"/><stop offset="0.2151" stop-color="#c0e9b1"/><stop offset="0.3882" stop-color="#d2f0c8"/><stop offset="0.5329" stop-color="#e7f7e1"/><stop offset="0.5872" stop-color="#f1faee"/><stop offset="0.6208" stop-color="#fffefe"/><stop offset="0.6738" stop-color="#f9e0e0"/><stop offset="0.7358" stop-color="#f5caca"/><stop offset="0.8107" stop-color="#f3bdbd"/><stop offset="0.9193" stop-color="#f2baba"/><stop offset="0.9994" stop-color="#f3bdbd"/></linearGradient><linearGradient id="g105" x2="0" y2="1"><stop offset="0.0006" stop-color="#a2df8c"/><stop offset="0.0575" stop-color="#a3df8d"/><stop offset="0.2151" stop-color="#c0e9b1"/><stop offset="0.3895" stop-color="#d3f0c8"/><stop offset="0.5756" stop-color="#f0faec"/><stop offset="0.6130" stop-color="#fdfefd"/><stop offset="0.6169" stop-color="#fffefe"/><stop offset="0.6725" stop-color="#f9dfdf"/><stop offset="0.7358" stop-color="#f5c9c9"/><stop offset="0.8133" stop-color="#f3bdbd"/><stop offset="0.9257" stop-color="#f2baba"/><stop offset="0.9994" stop-color="#f3bdbd"/></linearGradient><linearGradient id="g106" x2="0" y2="1"><stop offset="0.0006" stop-color="#a2df8c"/><stop offset="0.0575" stop-color="#a4df8d"/><stop offset="0.2164" stop-color="#c1eab2"/><stop offset="0.3908" stop-color="#d4f0c9"/><stop offset="0.5730" stop-color="#f1faed"/><stop offset="0.6118" stop-color="#fffefe"/><stop offset="0.6686" stop-color="#f9dfdf"/><stop offset="0.7345" stop-color="#f5c9c9"/><stop offset="0.8146" stop-color="#f3bdbd"/><stop offset="0.9309" stop-color="#f2bbbb"/><stop offset="0.9994" stop-color="#f3bdbd"/></linearGradient><linearGradient id="g107" x2="0" y2="1"><stop offset="0.0006" stop-color="#a2df8c"/><stop offset="0.0575" stop-color="#a4df8e"/><stop offset="0.2177" stop-color="#c1eab2"/><stop offset="0.3908" stop-color="#d4f0ca"/><stop offset="0.5704" stop-color="#f2faef"/><stop offset="0.6066" stop-color="#ffffff"/><stop offset="0.6647" stop-color="#f9e0e0"/><stop offset="0.7306" stop-color="#f5caca"/><stop offset="0.8120" stop-color="#f3bdbd"/><stop offset="0.9283" stop-color="#f2bbbb"/><stop offset="0.9994" stop-color="#f3bdbd"/></linearGradient><linearGradient id="g108" x2="0" y2="1"><stop offset="0.0006" stop-color="#a2df8c"/><stop offset="0.0575" stop-color="#a4e08e"/><stop offset="0.2177" stop-color="#c1eab2"/><stop offset="0.3921" stop-color="#d5f0cb"/><stop offset="0.5678" stop-color="#f3fbf0"/><stop offset="0.6027" stop-color="#fffefe"/><stop offset="0.6647" stop-color="#f9dede"/><stop offset="0.7332" stop-color="#f5c9c9"/><stop offset="0.8198" stop-color="#f3bdbd"/><stop offset="0.9451" stop-color="#f3bbbb"/><stop offset="0.9994" stop-color="#f3bdbd"/></linearGradient><linearGradient id="g109" x2="0" y2="1"><stop offset="0.0006" stop-color="#a2df8c"/><stop offset="0.0575" stop-color="#a4e08e"/><stop offset="0.2190" stop-color="#c1eab3"/><stop offset="0.3921" stop-color="#d5f1cb"/><stop offset="0.5640" stop-color="#f3fbf1"/><stop offset="0.5975" stop-color="#fffefe"/><stop offset="0.6609" stop-color="#f9dede"/><stop offset="0.7293" stop-color="#f5caca"/><stop offset="0.8185" stop-color="#f3bdbd"/><stop offset="0.9451" stop-color="#f3bbbb"/><stop offset="0.9994" stop-color="#f3bdbd"/></linearGradient><linearGradient id="g110" x2="0" y2="1"><stop offset="0.0006" stop-color="#a3df8c"/><stop offset="0.0575" stop-color="#a4e08e"/><stop offset="0.2203" stop-color="#c2eab3"/><stop offset="0.3934" stop-color="#d6f1cc"/><stop offset="0.5601" stop-color="#f4fbf1"/><stop offset="0.5924" stop-color="#fffefe"/><stop offset="0.6583" stop-color="#f9dddd"/><stop offset="0.7280" stop-color="#f5caca"/><stop offset="0.8211" stop-color="#f3bdbd"/><stop offset="0.9528" stop-color="#f3bcbc"/><stop offset="0.9994" stop-color="#f3bdbd"/></linearGradient><linearGradient id="g111" x2="0" y2="1"><stop offset="0.0006" stop-color="#a3df8c"/><stop offset="0.0575" stop-color="#a4e08e"/><stop offset="0.2216" stop-color="#c2eab3"/><stop offset="0.3934" stop-color="#d6f1cd"/><stop offset="0.5562" stop-color="#f5fbf2"/><stop offset="0.5872" stop-color="#fffefe"/><stop offset="0.6544" stop-color="#f9dddd"/><stop offset="0.7229" stop-color="#f5caca"/><stop offset="0.8198" stop-color="#f3bdbd"/><stop offset="0.9528" stop-color="#f3bcbc"/><stop offset="0.9994" stop-color="#f3bdbd"/></linearGradient><linearGradient id="g112" x2="0" y2="1"><stop offset="0.0006" stop-color="#a3df8d"/><stop offset="0.0575" stop-color="#a4e08e"/><stop offset="0.2216" stop-color="#c2eab4"/><stop offset="0.3934" stop-color="#d7f1cd"/><stop offset="0.5510" stop-color="#f5fbf2"/><stop offset="0.5807" stop-color="#ffffff"/><stop offset="0.6505" stop-color="#f9dddd"/><stop offset="0.7177" stop-color="#f5cbcb"/><stop offset="0.8211" stop-color="#f3bdbd"/><stop offset="0.9580" stop-color="#f3bcbc"/><stop offset="0.9994" stop-color="#f3bdbd"/></linearGradient><linearGradient id="g113" x2="0" y2="1"><stop offset="0.0006" stop-color="#a3df8d"/><stop offset="0.0575" stop-color="#a4e08e"/><stop offset="0.2229" stop-color="#c3eab4"/><stop offset="0.3947" stop-color="#d8f1ce"/><stop offset="0.5472" stop-color="#f5fcf3"/><stop offset="0.5756" stop-color="#ffffff"/><stop offset="0.6466" stop-color="#f9dcdc"/><stop offset="0.7112" stop-color="#f5cbcb"/><stop offset="0.8211" stop-color="#f3bebe"/><stop offset="0.9619" stop-color="#f3bcbc"/><stop offset="0.9994" stop-color="#f3bdbd"/></linearGradient><linearGradient id="g114" x2="0" y2="1"><stop offset="0.0006" stop-color="#a3df8d"/><stop offset="0.0575" stop-color="#a4e08f"/><stop offset="0.2242" stop-color="#c3eab5"/><stop offset="0.3947" stop-color="#d8f2cf"/><stop offset="0.5420" stop-color="#f5fcf3"/><stop offset="0.5717" stop-color="#fffefe"/><stop offset="0.6453" stop-color="#f8dbdb"/><stop offset="0.7087" stop-color="#f5cbcb"/><stop offset="0.8262" stop-color="#f3bdbd"/><stop offset="0.9761" stop-color="#f3bdbd"/><stop offset="0.9994" stop-color="#f3bdbd"/></linearGradient><linearGradient id="g115" x2="0" y2="1"><stop offset="0.0006" stop-color="#a3df8d"/><stop offset="0.0588" stop-color="#a5e08f"/><stop offset="0.2242" stop-color="#c3eab5"/><stop offset="0.3947" stop-color="#d8f2cf"/><stop offset="0.5355" stop-color="#f5fbf2"/><stop offset="0.5665" stop-color="#fffefe"/><stop offset="0.6415" stop-color="#f8dada"/><stop offset="0.7009" stop-color="#f6cbcb"/><stop offset="0.8275" stop-color="#f3bdbd"/><stop offset="0.9813" stop-color="#f3bdbd"/><stop offset="0.9994" stop-color="#f3bdbd"/></linearGradient><linearGradient id="g116" x2="0" y2="1"><stop offset="0.0006" stop-color="#a3df8d"/><stop offset="0.0588" stop-color="#a5e08f"/><stop offset="0.2255" stop-color="#c4ebb5"/><stop offset="0.3960" stop-color="#d9f2d0"/><stop offset="0.5304" stop-color="#f5fbf2"/><stop offset="0.5614" stop-color="#fffefe"/><stop offset="0.6389" stop-color="#f8d9d9"/><stop offset="0.6957" stop-color="#f5cbcb"/><stop offset="0.8340" stop-color="#f3bdbd"/><stop offset="0.9994" stop-color="#f3bdbd"/></linearGradient><linearGradient id="g117" x2="0" y2="1"><stop offset="0.0006" stop-color="#a4df8d"/><stop offset="0.0588" stop-color="#a5e08f"/><stop offset="0.2267" stop-color="#c4ebb6"/><stop offset="0.3960" stop-color="#daf2d1"/><stop offset="0.5252" stop-color="#f4fbf2"/><stop offset="0.5562" stop-color="#ffffff"/><stop offset="0.6363" stop-color="#f8d8d8"/><stop offset="0.6906" stop-color="#f5cbcb"/><stop offset="0.8430" stop-color="#f3bdbd"/><stop offset="0.9994" stop-color="#f3bdbd"/></linearGradient><linearGradient id="g118" x2="0" y2="1"><stop offset="0.0006" stop-color="#a4e08e"/><stop offset="0.0588" stop-color="#a5e090"/><stop offset="0.2280" stop-color="#c4ebb6"/><stop offset="0.3960" stop-color="#daf2d1"/><stop offset="0.5200" stop-color="#f4fbf2"/><stop offset="0.5523" stop-color="#fffefe"/><stop offset="0.6337" stop-color="#f8d7d7"/><stop offset="0.6854" stop-color="#f5caca"/><stop offset="0.8521" stop-color="#f3bdbd"/><stop offset="0.9994" stop-color="#f3bdbd"/></linearGradient><linearGradient id="g119" x2="0" y2="1"><stop offset="0.0006" stop-color="#a4e08e"/><stop offset="0.0588" stop-color="#a6e090"/><stop offset="0.2293" stop-color="#c5ebb7"/><stop offset="0.3960" stop-color="#daf2d2"/><stop offset="0.5161" stop-color="#f4fbf2"/><stop offset="0.5484" stop-color="#fffefe"/><stop offset="0.6324" stop-color="#f7d5d5"/><stop offset="0.6828" stop-color="#f5c9c9"/><stop offset="0.8663" stop-color="#f3bdbd"/><stop offset="0.9994" stop-color="#f3bdbd"/></linearGradient><linearGradient id="g120" x2="0" y2="1"><stop offset="0.0006" stop-color="#a4e08e"/><stop offset="0.0588" stop-color="#a6e090"/><stop offset="0.2306" stop-color="#c5ebb7"/><stop offset="0.3960" stop-color="#dbf3d2"/><stop offset="0.5110" stop-color="#f4fbf1"/><stop offset="0.5446" stop-color="#fffefe"/><stop offset="0.6298" stop-color="#f7d4d4"/><stop offset="0.6776" stop-color="#f5c9c9"/><stop offset="0.8792" stop-color="#f3bcbc"/><stop offset="0.9994" stop-color="#f3bdbd"/></linearGradient><linearGradient id="g121" x2="0" y2="1"><stop offset="0.0006" stop-color="#a4e08e"/><stop offset="0.0601" stop-color="#a6e091"/><stop offset="0.2319" stop-color="#c5ebb8"/><stop offset="0.3973" stop-color="#dcf3d3"/><stop offset="0.5071" stop-color="#f4fbf1"/><stop offset="0.5394" stop-color="#fffefe"/><stop offset="0.6273" stop-color="#f7d2d2"/><stop offset="0.6725" stop-color="#f5c7c7"/><stop offset="0.8999" stop-color="#f3bcbc"/><stop offset="0.9994" stop-color="#f3bdbd"/></linearGradient><linearGradient id="g122" x2="0" y2="1"><stop offset="0.0006" stop-color="#a5e08f"/><stop offset="0.0601" stop-color="#a6e091"/><stop offset="0.2345" stop-color="#c6ebb8"/><stop offset="0.3973" stop-color="#dcf3d4"/><stop offset="0.5019" stop-color="#f4fbf1"/><stop offset="0.5342" stop-color="#fffefe"/><stop offset="0.6260" stop-color="#f6d0d0"/><stop offset="0.6699" stop-color="#f4c5c5"/><stop offset="0.9244" stop-color="#f3bcbc"/><stop offset="0.9994" stop-color="#f3bdbd"/></linearGradient><linearGradient id="g123" x2="0" y2="1"><stop offset="0.0006" stop-color="#a5e08f"/><stop offset="0.0601" stop-color="#a7e191"/><stop offset="0.2371" stop-color="#c7ecb9"/><stop offset="0.3973" stop-color="#ddf3d5"/><stop offset="0.4981" stop-color="#f4fbf1"/><stop offset="0.5291" stop-color="#fffefe"/><stop offset="0.6234" stop-color="#f6cece"/><stop offset="0.6660" stop-color="#f4c4c4"/><stop offset="0.9516" stop-color="#f3bdbd"/><stop offset="0.9994" stop-color="#f3bdbd"/></linearGradient><linearGradient id="g124" x2="0" y2="1"><stop offset="0.0006" stop-color="#a5e090"/><stop offset="0.0601" stop-color="#a7e192"/><stop offset="0.2384" stop-color="#c7ecba"/><stop offset="0.3973" stop-color="#def3d5"/><stop offset="0.4942" stop-color="#f4fbf1"/><stop offset="0.5252" stop-color="#fffefe"/><stop offset="0.6221" stop-color="#f6cbcb"/><stop offset="0.6634" stop-color="#f4c2c2"/><stop offset="0.9851" stop-color="#f3bdbd"/><stop offset="0.9994" stop-color="#f3bdbd"/></linearGradient><linearGradient id="g125" x2="0" y2="1"><stop offset="0.0006" stop-color="#a6e090"/><stop offset="0.0614" stop-color="#a8e192"/><stop offset="0.2410" stop-color="#c8ecba"/><stop offset="0.3973" stop-color="#def4d6"/><stop offset="0.4916" stop-color="#f4fbf2"/><stop offset="0.5213" stop-color="#fffefe"/><stop offset="0.6208" stop-color="#f5c9c9"/><stop offset="0.6609" stop-color="#f3c0c0"/><stop offset="0.8211" stop-color="#f3bfbf"/><stop offset="0.9994" stop-color="#f3bdbd"/></linearGradient><linearGradient id="g126" x2="0" y2="1"><stop offset="0.0006" stop-color="#a6e090"/><stop offset="0.0614" stop-color="#a8e193"/><stop offset="0.2435" stop-color="#c8ecbb"/><stop offset="0.3973" stop-color="#dff4d7"/><stop offset="0.4890" stop-color="#f5fbf2"/><stop offset="0.5174" stop-color="#fffefe"/><stop offset="0.6195" stop-color="#f5c7c7"/><stop offset="0.6583" stop-color="#f3bdbd"/><stop offset="0.8068" stop-color="#f3bfbf"/><stop offset="0.9994" stop-color="#f3bdbd"/></linearGradient><linearGradient id="g127" x2="0" y2="1"><stop offset="0.0006" stop-color="#a6e091"/><stop offset="0.0614" stop-color="#a8e193"/><stop offset="0.2461" stop-color="#c9ecbc"/><stop offset="0.3973" stop-color="#dff4d8"/><stop offset="0.4864" stop-color="#f5fcf2"/><stop offset="0.5136" stop-color="#fffefe"/><stop offset="0.6195" stop-color="#f4c4c4"/><stop offset="0.6570" stop-color="#f3bbbb"/><stop offset="0.7965" stop-color="#f3bfbf"/><stop offset="0.9994" stop-color="#f3bdbd"/></linearGradient><linearGradient id="g128" x2="0" y2="1"><stop offset="0.0006" stop-color="#a7e191"/><stop offset="0.0614" stop-color="#a9e194"/><stop offset="0.2487" stop-color="#caedbd"/><stop offset="0.3973" stop-color="#e0f4d8"/><stop offset="0.4839" stop-color="#f5fcf3"/><stop offset="0.5097" stop-color="#fffefe"/><stop offset="0.6182" stop-color="#f4c2c2"/><stop offset="0.6544" stop-color="#f2b9b9"/><stop offset="0.7913" stop-color="#f3bfbf"/><stop offset="0.9994" stop-color="#f3bdbd"/></linearGradient><linearGradient id="g129" x2="0" y2="1"><stop offset="0.0006" stop-color="#a7e192"/><stop offset="0.0627" stop-color="#a9e194"/><stop offset="0.2513" stop-color="#caedbe"/><stop offset="0.3986" stop-color="#e1f5d9"/><stop offset="0.4826" stop-color="#f6fcf4"/><stop offset="0.5071" stop-color="#fffefe"/><stop offset="0.6182" stop-color="#f3c0c0"/><stop offset="0.6544" stop-color="#f2b7b7"/><stop offset="0.7267" stop-color="#f3bdbd"/><stop offset="0.8249" stop-color="#f3bfbf"/><stop offset="0.9994" stop-color="#f3bdbd"/></linearGradient><linearGradient id="g130" x2="0" y2="1"><stop offset="0.0006" stop-color="#a7e192"/><stop offset="0.0627" stop-color="#aae295"/><stop offset="0.2552" stop-color="#cbedbf"/><stop offset="0.3986" stop-color="#e1f5da"/><stop offset="0.4800" stop-color="#f6fcf4"/><stop offset="0.5032" stop-color="#fffefe"/><stop offset="0.6169" stop-color="#f3bebe"/><stop offset="0.6518" stop-color="#f1b5b5"/><stop offset="0.7061" stop-color="#f2b9b9"/><stop offset="0.7862" stop-color="#f3bfbf"/><stop offset="0.9994" stop-color="#f3bdbd"/></linearGradient><linearGradient id="g131" x2="0" y2="1"><stop offset="0.0006" stop-color="#a8e193"/><stop offset="0.0640" stop-color="#aae296"/><stop offset="0.2578" stop-color="#ccedbf"/><stop offset="0.3986" stop-color="#e2f5db"/><stop offset="0.4774" stop-color="#f6fcf4"/><stop offset="0.4994" stop-color="#fffefe"/><stop offset="0.6169" stop-color="#f2baba"/><stop offset="0.6505" stop-color="#f1b2b2"/><stop offset="0.6996" stop-color="#f2b6b6"/><stop offset="0.7758" stop-color="#f3bfbf"/><stop offset="0.9994" stop-color="#f3bdbd"/></linearGradient><linearGradient id="g132" x2="0" y2="1"><stop offset="0.0006" stop-color="#a8e193"/><stop offset="0.0640" stop-color="#abe296"/><stop offset="0.2642" stop-color="#cdeec1"/><stop offset="0.3999" stop-color="#e3f5dc"/><stop offset="0.4761" stop-color="#f7fcf5"/><stop offset="0.4955" stop-color="#ffffff"/><stop offset="0.6156" stop-color="#f2b8b8"/><stop offset="0.6492" stop-color="#f0afaf"/><stop offset="0.6944" stop-color="#f1b4b4"/><stop offset="0.7694" stop-color="#f3bebe"/><stop offset="0.9994" stop-color="#f3bdbd"/></linearGradient><linearGradient id="g133" x2="0" y2="1"><stop offset="0.0006" stop-color="#a9e194"/><stop offset="0.0652" stop-color="#abe297"/><stop offset="0.2694" stop-color="#ceeec2"/><stop offset="0.4012" stop-color="#e4f6dd"/><stop offset="0.4748" stop-color="#f8fdf6"/><stop offset="0.4929" stop-color="#fffefe"/><stop offset="0.6156" stop-color="#f1b5b5"/><stop offset="0.6479" stop-color="#f0adad"/><stop offset="0.6906" stop-color="#f1b1b1"/><stop offset="0.7642" stop-color="#f3bdbd"/><stop offset="0.9994" stop-color="#f3bdbd"/></linearGradient><linearGradient id="g134" x2="0" y2="1"><stop offset="0.0006" stop-color="#a9e195"/><stop offset="0.0652" stop-color="#ace298"/><stop offset="0.2758" stop-color="#cfefc4"/><stop offset="0.4037" stop-color="#e5f6df"/><stop offset="0.4748" stop-color="#f9fdf8"/><stop offset="0.4890" stop-color="#fffefe"/><stop offset="0.6156" stop-color="#f1b2b2"/><stop offset="0.6479" stop-color="#efaaaa"/><stop offset="0.6893" stop-color="#f0afaf"/><stop offset="0.7616" stop-color="#f3bcbc"/><stop offset="0.8805" stop-color="#f3bebe"/><stop offset="0.9994" stop-color="#f3bdbd"/></linearGradient><linearGradient id="g135" x2="0" y2="1"><stop offset="0.0006" stop-color="#aae295"/><stop offset="0.0665" stop-color="#ade399"/><stop offset="0.2836" stop-color="#d1efc6"/><stop offset="0.4063" stop-color="#e6f7e0"/><stop offset="0.4735" stop-color="#fafdf8"/><stop offset="0.4864" stop-color="#fffefe"/><stop offset="0.5807" stop-color="#f4c4c4"/><stop offset="0.6221" stop-color="#f0adad"/><stop offset="0.6531" stop-color="#efa7a7"/><stop offset="0.7009" stop-color="#f0b0b0"/><stop offset="0.7668" stop-color="#f3bcbc"/><stop offset="0.8895" stop-color="#f3bdbd"/><stop offset="0.9994" stop-color="#f3bcbc"/></linearGradient><linearGradient id="g136" x2="0" y2="1"><stop offset="0.0006" stop-color="#aae296"/><stop offset="0.0665" stop-color="#ade399"/><stop offset="0.2978" stop-color="#d3f0c9"/><stop offset="0.4128" stop-color="#e9f7e3"/><stop offset="0.4748" stop-color="#fbfefb"/><stop offset="0.4839" stop-color="#fffefe"/><stop offset="0.5730" stop-color="#f5c7c7"/><stop offset="0.6182" stop-color="#f0acac"/><stop offset="0.6492" stop-color="#eea5a5"/><stop offset="0.6893" stop-color="#f0abab"/><stop offset="0.7590" stop-color="#f3bbbb"/><stop offset="0.8521" stop-color="#f3bebe"/><stop offset="0.9994" stop-color="#f3bcbc"/></linearGradient><linearGradient id="g137" x2="0" y2="1"><stop offset="0.0006" stop-color="#abe297"/><stop offset="0.0678" stop-color="#aee39b"/><stop offset="0.3934" stop-color="#e5f6df"/><stop offset="0.4645" stop-color="#f9fdf7"/><stop offset="0.4800" stop-color="#fffefe"/><stop offset="0.5665" stop-color="#f5c8c8"/><stop offset="0.6156" stop-color="#efaaaa"/><stop offset="0.6466" stop-color="#eea2a2"/><stop offset="0.6841" stop-color="#efa8a8"/><stop offset="0.7565" stop-color="#f2baba"/><stop offset="0.8391" stop-color="#f3bebe"/><stop offset="0.9994" stop-color="#f3bcbc"/></linearGradient><linearGradient id="g138" x2="0" y2="1"><stop offset="0.0006" stop-color="#ace298"/><stop offset="0.0691" stop-color="#afe39c"/><stop offset="0.3895" stop-color="#e5f6df"/><stop offset="0.4606" stop-color="#f8fdf7"/><stop offset="0.4761" stop-color="#fffefe"/><stop offset="0.5627" stop-color="#f5c9c9"/><stop offset="0.6143" stop-color="#efa8a8"/><stop offset="0.6441" stop-color="#eea0a0"/><stop offset="0.6789" stop-color="#eea4a4"/><stop offset="0.7552" stop-color="#f2b9b9"/><stop offset="0.8327" stop-color="#f3bebe"/><stop offset="0.9994" stop-color="#f3bcbc"/></linearGradient><linearGradient id="g139" x2="0" y2="1"><stop offset="0.0006" stop-color="#ace398"/><stop offset="0.0704" stop-color="#b0e49d"/><stop offset="0.3857" stop-color="#e5f6df"/><stop offset="0.4567" stop-color="#f8fdf7"/><stop offset="0.4722" stop-color="#ffffff"/><stop offset="0.5575" stop-color="#f5caca"/><stop offset="0.6130" stop-color="#efa6a6"/><stop offset="0.6428" stop-color="#ed9d9d"/><stop offset="0.6764" stop-color="#eea1a1"/><stop offset="0.7539" stop-color="#f2b8b8"/><stop offset="0.8262" stop-color="#f3bebe"/><stop offset="0.9994" stop-color="#f3bcbc"/></linearGradient><linearGradient id="g140" x2="0" y2="1"><stop offset="0.0006" stop-color="#ade399"/><stop offset="0.0717" stop-color="#b1e49e"/><stop offset="0.3805" stop-color="#e5f6de"/><stop offset="0.4528" stop-color="#f8fdf7"/><stop offset="0.4696" stop-color="#fffefe"/><stop offset="0.5523" stop-color="#f6cbcb"/><stop offset="0.6118" stop-color="#eea4a4"/><stop offset="0.6415" stop-color="#ed9b9b"/><stop offset="0.6738" stop-color="#ed9e9e"/><stop offset="0.7539" stop-color="#f2b7b7"/><stop offset="0.8236" stop-color="#f3bdbd"/><stop offset="0.9994" stop-color="#f3bbbb"/></linearGradient><linearGradient id="g141" x2="0" y2="1"><stop offset="0.0006" stop-color="#aee39b"/><stop offset="0.0730" stop-color="#b2e49f"/><stop offset="0.3740" stop-color="#e4f6de"/><stop offset="0.4477" stop-color="#f8fdf6"/><stop offset="0.4658" stop-color="#fffefe"/><stop offset="0.5484" stop-color="#f6cbcb"/><stop offset="0.6105" stop-color="#eea1a1"/><stop offset="0.6402" stop-color="#ec9898"/><stop offset="0.6712" stop-color="#ed9b9b"/><stop offset="0.7539" stop-color="#f2b6b6"/><stop offset="0.8211" stop-color="#f3bdbd"/><stop offset="0.9994" stop-color="#f3bbbb"/></linearGradient><linearGradient id="g142" x2="0" y2="1"><stop offset="0.0006" stop-color="#afe49c"/><stop offset="0.0756" stop-color="#b3e5a1"/><stop offset="0.3663" stop-color="#e3f5dd"/><stop offset="0.4425" stop-color="#f8fcf6"/><stop offset="0.4606" stop-color="#ffffff"/><stop offset="0.5459" stop-color="#f5cbcb"/><stop offset="0.6105" stop-color="#ed9f9f"/><stop offset="0.6402" stop-color="#ec9696"/><stop offset="0.6712" stop-color="#ec9999"/><stop offset="0.7539" stop-color="#f1b5b5"/><stop offset="0.8198" stop-color="#f3bdbd"/><stop offset="0.9994" stop-color="#f2baba"/></linearGradient><linearGradient id="g143" x2="0" y2="1"><stop offset="0.0006" stop-color="#b0e49d"/><stop offset="0.0782" stop-color="#b5e5a3"/><stop offset="0.3585" stop-color="#e3f5dc"/><stop offset="0.4373" stop-color="#f7fcf5"/><stop offset="0.4567" stop-color="#fffefe"/><stop offset="0.5420" stop-color="#f6cbcb"/><stop offset="0.6092" stop-color="#ed9e9e"/><stop offset="0.6389" stop-color="#eb9494"/><stop offset="0.6699" stop-color="#ec9797"/><stop offset="0.7552" stop-color="#f1b4b4"/><stop offset="0.8198" stop-color="#f3bcbc"/><stop offset="0.9994" stop-color="#f2baba"/></linearGradient><linearGradient id="g144" x2="0" y2="1"><stop offset="0.0006" stop-color="#b2e49f"/><stop offset="0.0795" stop-color="#b6e6a4"/><stop offset="0.3482" stop-color="#e2f5da"/><stop offset="0.4296" stop-color="#f6fcf4"/><stop offset="0.4528" stop-color="#fffefe"/><stop offset="0.5394" stop-color="#f5cbcb"/><stop offset="0.6092" stop-color="#ed9c9c"/><stop offset="0.6389" stop-color="#eb9292"/><stop offset="0.6699" stop-color="#ec9595"/><stop offset="0.7552" stop-color="#f1b4b4"/><stop offset="0.8185" stop-color="#f3bcbc"/><stop offset="0.9994" stop-color="#f2b9b9"/></linearGradient><linearGradient id="g145" x2="0" y2="1"><stop offset="0.0006" stop-color="#b3e5a1"/><stop offset="0.0833" stop-color="#b8e6a7"/><stop offset="0.3340" stop-color="#e0f4d8"/><stop offset="0.4218" stop-color="#f5fcf3"/><stop offset="0.4490" stop-color="#fffefe"/><stop offset="0.5368" stop-color="#f5cbcb"/><stop offset="0.6079" stop-color="#ed9c9c"/><stop offset="0.6389" stop-color="#eb9292"/><stop offset="0.6699" stop-color="#eb9595"/><stop offset="0.7565" stop-color="#f1b3b3"/><stop offset="0.8198" stop-color="#f3bbbb"/><stop offset="0.9994" stop-color="#f2b8b8"/></linearGradient><linearGradient id="g146" x2="0" y2="1"><stop offset="0.0006" stop-color="#b4e5a2"/><stop offset="0.0872" stop-color="#bae7a9"/><stop offset="0.3185" stop-color="#ddf3d5"/><stop offset="0.4128" stop-color="#f3fbf1"/><stop offset="0.4451" stop-color="#fffefe"/><stop offset="0.5355" stop-color="#f5caca"/><stop offset="0.6079" stop-color="#ed9b9b"/><stop offset="0.6389" stop-color="#eb9292"/><stop offset="0.6712" stop-color="#ec9595"/><stop offset="0.7590" stop-color="#f1b3b3"/><stop offset="0.8236" stop-color="#f3bbbb"/><stop offset="0.9994" stop-color="#f2b7b7"/></linearGradient><linearGradient id="g147" x2="0" y2="1"><stop offset="0.0006" stop-color="#b6e6a4"/><stop offset="0.0911" stop-color="#bbe8ab"/><stop offset="0.3004" stop-color="#dbf3d2"/><stop offset="0.4025" stop-color="#f2faef"/><stop offset="0.4412" stop-color="#fffefe"/><stop offset="0.5355" stop-color="#f5c9c9"/><stop offset="0.6066" stop-color="#ed9c9c"/><stop offset="0.6389" stop-color="#eb9292"/><stop offset="0.6725" stop-color="#ec9696"/><stop offset="0.7616" stop-color="#f1b3b3"/><stop offset="0.8262" stop-color="#f2bbbb"/><stop offset="0.9994" stop-color="#f2b6b6"/></linearGradient><linearGradient id="g148" x2="0" y2="1"><stop offset="0.0006" stop-color="#b8e6a6"/><stop offset="0.0963" stop-color="#bde8ae"/><stop offset="0.2836" stop-color="#d9f2cf"/><stop offset="0.3921" stop-color="#f0faed"/><stop offset="0.4360" stop-color="#ffffff"/><stop offset="0.5368" stop-color="#f5c7c7"/><stop offset="0.6066" stop-color="#ed9e9e"/><stop offset="0.6402" stop-color="#eb9494"/><stop offset="0.6751" stop-color="#ec9898"/><stop offset="0.7642" stop-color="#f1b3b3"/><stop offset="0.8314" stop-color="#f2baba"/><stop offset="0.9994" stop-color="#f1b4b4"/></linearGradient><linearGradient id="g149" x2="0" y2="1"><stop offset="0.0006" stop-color="#b9e7a8"/><stop offset="0.1014" stop-color="#bfe9b0"/><stop offset="0.2745" stop-color="#d8f1ce"/><stop offset="0.3844" stop-color="#effaeb"/><stop offset="0.4335" stop-color="#fffefe"/><stop offset="0.5394" stop-color="#f4c5c5"/><stop offset="0.6066" stop-color="#ed9f9f"/><stop offset="0.6415" stop-color="#ec9797"/><stop offset="0.6789" stop-color="#ed9b9b"/><stop offset="0.7668" stop-color="#f1b4b4"/><stop offset="0.8353" stop-color="#f2b9b9"/><stop offset="0.9994" stop-color="#f1b3b3"/></linearGradient><linearGradient id="g150" x2="0" y2="1"><stop offset="0.0006" stop-color="#bae7aa"/><stop offset="0.1066" stop-color="#c1eab2"/><stop offset="0.2681" stop-color="#d7f1cd"/><stop offset="0.3792" stop-color="#eff9eb"/><stop offset="0.4309" stop-color="#fffefe"/><stop offset="0.5446" stop-color="#f4c3c3"/><stop offset="0.6079" stop-color="#eea1a1"/><stop offset="0.6441" stop-color="#ec9999"/><stop offset="0.6841" stop-color="#ed9e9e"/><stop offset="0.7707" stop-color="#f1b4b4"/><stop offset="0.8417" stop-color="#f2b9b9"/><stop offset="0.9994" stop-color="#f1b2b2"/></linearGradient><linearGradient id="g151" x2="0" y2="1"><stop offset="0.0006" stop-color="#bbe8ab"/><stop offset="0.1118" stop-color="#c2eab3"/><stop offset="0.2642" stop-color="#d6f1cd"/><stop offset="0.3753" stop-color="#eef9ea"/><stop offset="0.4283" stop-color="#fffefe"/><stop offset="0.5549" stop-color="#f3bdbd"/><stop offset="0.6105" stop-color="#eea2a2"/><stop offset="0.6479" stop-color="#ed9b9b"/><stop offset="0.6932" stop-color="#eea2a2"/><stop offset="0.7745" stop-color="#f1b5b5"/><stop offset="0.8482" stop-color="#f2b8b8"/><stop offset="0.9994" stop-color="#f1b0b0"/></linearGradient><linearGradient id="g152" x2="0" y2="1"><stop offset="0.0006" stop-color="#bce8ac"/><stop offset="0.1169" stop-color="#c3eab5"/><stop offset="0.2603" stop-color="#d6f1cc"/><stop offset="0.3702" stop-color="#edf9e9"/><stop offset="0.4257" stop-color="#fffefe"/><stop offset="0.6040" stop-color="#efa7a7"/><stop offset="0.6428" stop-color="#ed9e9e"/><stop offset="0.6867" stop-color="#eea2a2"/><stop offset="0.7771" stop-color="#f1b5b5"/><stop offset="0.8534" stop-color="#f2b7b7"/><stop offset="0.9994" stop-color="#f0afaf"/></linearGradient><linearGradient id="g153" x2="0" y2="1"><stop offset="0.0006" stop-color="#bde8ae"/><stop offset="0.1234" stop-color="#c4ebb6"/><stop offset="0.2590" stop-color="#d6f1cc"/><stop offset="0.3676" stop-color="#edf9e9"/><stop offset="0.4244" stop-color="#fffefe"/><stop offset="0.6027" stop-color="#efaaaa"/><stop offset="0.6441" stop-color="#eea1a1"/><stop offset="0.6919" stop-color="#efa5a5"/><stop offset="0.7810" stop-color="#f2b6b6"/><stop offset="0.8598" stop-color="#f2b6b6"/><stop offset="0.9994" stop-color="#f0adad"/></linearGradient><linearGradient id="g154" x2="0" y2="1"><stop offset="0.0006" stop-color="#bee9af"/><stop offset="0.1298" stop-color="#c6ebb8"/><stop offset="0.2578" stop-color="#d5f1cb"/><stop offset="0.3637" stop-color="#edf9e8"/><stop offset="0.4218" stop-color="#fffefe"/><stop offset="0.6001" stop-color="#f0adad"/><stop offset="0.6441" stop-color="#eea4a4"/><stop offset="0.6944" stop-color="#efa8a8"/><stop offset="0.7836" stop-color="#f2b6b6"/><stop offset="0.8650" stop-color="#f1b5b5"/><stop offset="0.9968" stop-color="#f0abab"/><stop offset="0.9994" stop-color="#f0abab"/></linearGradient><linearGradient id="g155" x2="0" y2="1"><stop offset="0.0006" stop-color="#bfe9b0"/><stop offset="0.1363" stop-color="#c6ebb9"/><stop offset="0.2578" stop-color="#d5f1cb"/><stop offset="0.3611" stop-color="#ecf9e8"/><stop offset="0.4205" stop-color="#fffefe"/><stop offset="0.5963" stop-color="#f1b0b0"/><stop offset="0.6428" stop-color="#efa6a6"/><stop offset="0.6957" stop-color="#efaaaa"/><stop offset="0.7875" stop-color="#f2b6b6"/><stop offset="0.8714" stop-color="#f1b3b3"/><stop offset="0.9929" stop-color="#efaaaa"/><stop offset="0.9994" stop-color="#efaaaa"/></linearGradient><linearGradient id="g156" x2="0" y2="1"><stop offset="0.0006" stop-color="#c0e9b1"/><stop offset="0.1441" stop-color="#c7ecba"/><stop offset="0.2578" stop-color="#d5f1cb"/><stop offset="0.3585" stop-color="#ecf8e7"/><stop offset="0.4193" stop-color="#fffefe"/><stop offset="0.5924" stop-color="#f1b4b4"/><stop offset="0.6415" stop-color="#efa9a9"/><stop offset="0.6970" stop-color="#f0acac"/><stop offset="0.7901" stop-color="#f2b6b6"/><stop offset="0.8766" stop-color="#f1b2b2"/><stop offset="0.9890" stop-color="#efa8a8"/><stop offset="0.9994" stop-color="#efa8a8"/></linearGradient><linearGradient id="g157" x2="0" y2="1"><stop offset="0.0006" stop-color="#c1eab2"/><stop offset="0.1518" stop-color="#c8ecbb"/><stop offset="0.2590" stop-color="#d5f1cb"/><stop offset="0.3572" stop-color="#ecf8e7"/><stop offset="0.4167" stop-color="#ffffff"/><stop offset="0.5833" stop-color="#f2b9b9"/><stop offset="0.6363" stop-color="#f0acac"/><stop offset="0.6919" stop-color="#f0adad"/><stop offset="0.7926" stop-color="#f2b6b6"/><stop offset="0.8818" stop-color="#f0b0b0"/><stop offset="0.9864" stop-color="#efa6a6"/><stop offset="0.9994" stop-color="#efa6a6"/></linearGradient><linearGradient id="g158" x2="0" y2="1"><stop offset="0.0006" stop-color="#c2eab3"/><stop offset="0.1596" stop-color="#c9ecbc"/><stop offset="0.2590" stop-color="#d5f0cb"/><stop offset="0.3547" stop-color="#ebf8e6"/><stop offset="0.4154" stop-color="#fffefe"/><stop offset="0.5536" stop-color="#f4c5c5"/><stop offset="0.6182" stop-color="#f1b1b1"/><stop offset="0.6712" stop-color="#f0adad"/><stop offset="0.7952" stop-color="#f2b6b6"/><stop offset="0.8882" stop-color="#f0adad"/><stop offset="0.9839" stop-color="#eea4a4"/><stop offset="0.9994" stop-color="#eea4a4"/></linearGradient><linearGradient id="g159" x2="0" y2="1"><stop offset="0.0006" stop-color="#c2eab4"/><stop offset="0.1686" stop-color="#c9ecbc"/><stop offset="0.2616" stop-color="#d5f0ca"/><stop offset="0.3547" stop-color="#ebf8e6"/><stop offset="0.4141" stop-color="#fffefe"/><stop offset="0.5213" stop-color="#f7d2d2"/><stop offset="0.6053" stop-color="#f2b7b7"/><stop offset="0.6609" stop-color="#f0b0b0"/><stop offset="0.8004" stop-color="#f2b6b6"/><stop offset="0.9025" stop-color="#efaaaa"/><stop offset="0.9877" stop-color="#eea2a2"/><stop offset="0.9994" stop-color="#eea2a2"/></linearGradient><linearGradient id="g160" x2="0" y2="1"><stop offset="0.0006" stop-color="#c3eab5"/><stop offset="0.1764" stop-color="#c9ecbc"/><stop offset="0.2629" stop-color="#d4f0ca"/><stop offset="0.3521" stop-color="#eaf8e5"/><stop offset="0.4128" stop-color="#fffefe"/><stop offset="0.5019" stop-color="#f8d9d9"/><stop offset="0.6001" stop-color="#f2baba"/><stop offset="0.6596" stop-color="#f1b2b2"/><stop offset="0.8017" stop-color="#f1b5b5"/><stop offset="0.9089" stop-color="#efa7a7"/><stop offset="0.9877" stop-color="#ed9f9f"/><stop offset="0.9994" stop-color="#eda0a0"/></linearGradient><linearGradient id="g161" x2="0" y2="1"><stop offset="0.0006" stop-color="#c4ebb6"/><stop offset="0.1828" stop-color="#c9ecbc"/><stop offset="0.2629" stop-color="#d3f0c9"/><stop offset="0.3482" stop-color="#e9f7e4"/><stop offset="0.4115" stop-color="#fffefe"/><stop offset="0.4903" stop-color="#f9dede"/><stop offset="0.5963" stop-color="#f3bdbd"/><stop offset="0.6609" stop-color="#f1b4b4"/><stop offset="0.8017" stop-color="#f1b5b5"/><stop offset="0.9141" stop-color="#eea4a4"/><stop offset="0.9877" stop-color="#ed9d9d"/><stop offset="0.9994" stop-color="#ed9d9d"/></linearGradient><linearGradient id="g162" x2="0" y2="1"><stop offset="0.0006" stop-color="#c5ebb6"/><stop offset="0.1880" stop-color="#c8ecbb"/><stop offset="0.2629" stop-color="#d2efc7"/><stop offset="0.3443" stop-color="#e8f7e2"/><stop offset="0.4089" stop-color="#fffefe"/><stop offset="0.4748" stop-color="#fae3e3"/><stop offset="0.5872" stop-color="#f4c1c1"/><stop offset="0.6570" stop-color="#f2b7b7"/><stop offset="0.8017" stop-color="#f1b4b4"/><stop offset="0.9632" stop-color="#ed9b9b"/><stop offset="0.9994" stop-color="#ed9a9a"/></linearGradient><linearGradient id="g163" x2="0" y2="1"><stop offset="0.0006" stop-color="#c5ebb7"/><stop offset="0.1919" stop-color="#c7ecba"/><stop offset="0.2629" stop-color="#d1efc5"/><stop offset="0.3404" stop-color="#e6f6e0"/><stop offset="0.4076" stop-color="#fffefe"/><stop offset="0.4696" stop-color="#fae4e4"/><stop offset="0.5807" stop-color="#f4c4c4"/><stop offset="0.6557" stop-color="#f2b9b9"/><stop offset="0.8017" stop-color="#f1b4b4"/><stop offset="0.9593" stop-color="#ec9999"/><stop offset="0.9994" stop-color="#ec9898"/></linearGradient><linearGradient id="g164" x2="0" y2="1"><stop offset="0.0006" stop-color="#c6ebb8"/><stop offset="0.1957" stop-color="#c6ebb8"/><stop offset="0.2616" stop-color="#cfeec3"/><stop offset="0.3340" stop-color="#e3f5dd"/><stop offset="0.4050" stop-color="#ffffff"/><stop offset="0.4580" stop-color="#fbe7e7"/><stop offset="0.5614" stop-color="#f5c9c9"/><stop offset="0.6453" stop-color="#f3bbbb"/><stop offset="0.8017" stop-color="#f1b3b3"/><stop offset="0.9567" stop-color="#ec9696"/><stop offset="0.9994" stop-color="#ec9595"/></linearGradient><linearGradient id="g165" x2="0" y2="1"><stop offset="0.0006" stop-color="#c6ebb8"/><stop offset="0.1983" stop-color="#c4ebb6"/><stop offset="0.2603" stop-color="#cceec0"/><stop offset="0.3275" stop-color="#e0f4d9"/><stop offset="0.4037" stop-color="#fffefe"/><stop offset="0.4554" stop-color="#fbe7e7"/><stop offset="0.5510" stop-color="#f6cccc"/><stop offset="0.6441" stop-color="#f3bdbd"/><stop offset="0.7991" stop-color="#f1b3b3"/><stop offset="0.9528" stop-color="#eb9494"/><stop offset="0.9994" stop-color="#eb9393"/></linearGradient><linearGradient id="g166" x2="0" y2="1"><stop offset="0.0006" stop-color="#c7ecb9"/><stop offset="0.1996" stop-color="#c3eab4"/><stop offset="0.2590" stop-color="#caedbd"/><stop offset="0.3211" stop-color="#ddf3d5"/><stop offset="0.4012" stop-color="#ffffff"/><stop offset="0.4477" stop-color="#fbe8e8"/><stop offset="0.5317" stop-color="#f6d0d0"/><stop offset="0.6350" stop-color="#f3bfbf"/><stop offset="0.7965" stop-color="#f1b3b3"/><stop offset="0.8960" stop-color="#ed9d9d"/><stop offset="0.9619" stop-color="#eb9191"/><stop offset="0.9994" stop-color="#eb9191"/></linearGradient><linearGradient id="g167" x2="0" y2="1"><stop offset="0.0006" stop-color="#c7ecb9"/><stop offset="0.2009" stop-color="#c1eab2"/><stop offset="0.2578" stop-color="#c8ecbb"/><stop offset="0.3172" stop-color="#daf2d2"/><stop offset="0.3999" stop-color="#fffefe"/><stop offset="0.4451" stop-color="#fbe8e8"/><stop offset="0.5213" stop-color="#f7d2d2"/><stop offset="0.6311" stop-color="#f3c0c0"/><stop offset="0.7939" stop-color="#f1b3b3"/><stop offset="0.8882" stop-color="#ed9d9d"/><stop offset="0.9567" stop-color="#eb9090"/><stop offset="0.9994" stop-color="#ea8f8f"/></linearGradient><linearGradient id="g168" x2="0" y2="1"><stop offset="0.0006" stop-color="#c7ecba"/><stop offset="0.2022" stop-color="#bfe9b0"/><stop offset="0.2565" stop-color="#c6ebb8"/><stop offset="0.3120" stop-color="#d7f1ce"/><stop offset="0.3973" stop-color="#ffffff"/><stop offset="0.4373" stop-color="#fbe9e9"/><stop offset="0.5058" stop-color="#f7d4d4"/><stop offset="0.6182" stop-color="#f4c2c2"/><stop offset="0.7913" stop-color="#f1b3b3"/><stop offset="0.8831" stop-color="#ed9e9e"/><stop offset="0.9528" stop-color="#ea8e8e"/><stop offset="0.9994" stop-color="#ea8e8e"/></linearGradient><linearGradient id="g169" x2="0" y2="1"><stop offset="0.0006" stop-color="#c7ecba"/><stop offset="0.2035" stop-color="#bde8ad"/><stop offset="0.2552" stop-color="#c3eab5"/><stop offset="0.3068" stop-color="#d4f0c9"/><stop offset="0.3921" stop-color="#fdfefc"/><stop offset="0.3960" stop-color="#fffefe"/><stop offset="0.4360" stop-color="#fbe8e8"/><stop offset="0.4994" stop-color="#f7d5d5"/><stop offset="0.6118" stop-color="#f4c3c3"/><stop offset="0.7875" stop-color="#f1b4b4"/><stop offset="0.8753" stop-color="#ed9f9f"/><stop offset="0.9477" stop-color="#ea8d8d"/><stop offset="0.9994" stop-color="#ea8c8c"/></linearGradient><linearGradient id="g170" x2="0" y2="1"><stop offset="0.0006" stop-color="#c8ecba"/><stop offset="0.2048" stop-color="#bbe8ab"/><stop offset="0.2539" stop-color="#c1eab2"/><stop offset="0.3030" stop-color="#d1efc6"/><stop offset="0.3870" stop-color="#fbfefa"/><stop offset="0.3934" stop-color="#ffffff"/><stop offset="0.4283" stop-color="#fbeaea"/><stop offset="0.4864" stop-color="#f8d6d6"/><stop offset="0.5859" stop-color="#f5c6c6"/><stop offset="0.7836" stop-color="#f1b4b4"/><stop offset="0.8689" stop-color="#eea0a0"/><stop offset="0.9451" stop-color="#ea8d8d"/><stop offset="0.9994" stop-color="#ea8b8b"/></linearGradient><linearGradient id="g171" x2="0" y2="1"><stop offset="0.0006" stop-color="#c8ecba"/><stop offset="0.1415" stop-color="#bde8ad"/><stop offset="0.2138" stop-color="#bae7a9"/><stop offset="0.2603" stop-color="#c0e9b1"/><stop offset="0.3094" stop-color="#d2f0c8"/><stop offset="0.3895" stop-color="#fefffd"/><stop offset="0.3947" stop-color="#fefcfc"/><stop offset="0.4348" stop-color="#fae5e5"/><stop offset="0.4916" stop-color="#f7d3d3"/><stop offset="0.5975" stop-color="#f4c5c5"/><stop offset="0.7771" stop-color="#f1b5b5"/><stop offset="0.8611" stop-color="#eea1a1"/><stop offset="0.9425" stop-color="#ea8c8c"/><stop offset="0.9968" stop-color="#ea8a8a"/><stop offset="0.9994" stop-color="#ea8a8a"/></linearGradient><linearGradient id="g172" x2="0" y2="1"><stop offset="0.0006" stop-color="#c8ecbb"/><stop offset="0.1298" stop-color="#bee8ae"/><stop offset="0.2087" stop-color="#b8e6a6"/><stop offset="0.2539" stop-color="#bde8ad"/><stop offset="0.2991" stop-color="#cceec0"/><stop offset="0.3740" stop-color="#f5fbf2"/><stop offset="0.3895" stop-color="#ffffff"/><stop offset="0.4205" stop-color="#fbeaea"/><stop offset="0.4709" stop-color="#f8d7d7"/><stop offset="0.5472" stop-color="#f5c9c9"/><stop offset="0.7733" stop-color="#f2b6b6"/><stop offset="0.8559" stop-color="#eea2a2"/><stop offset="0.9399" stop-color="#ea8c8c"/><stop offset="0.9942" stop-color="#e98989"/><stop offset="0.9994" stop-color="#e98a8a"/></linearGradient><linearGradient id="g173" x2="0" y2="1"><stop offset="0.0006" stop-color="#c8ecbb"/><stop offset="0.1234" stop-color="#bde8ae"/><stop offset="0.2061" stop-color="#b6e6a4"/><stop offset="0.2500" stop-color="#bae7a9"/><stop offset="0.2926" stop-color="#c8ecbb"/><stop offset="0.3559" stop-color="#eaf8e5"/><stop offset="0.3882" stop-color="#fffefe"/><stop offset="0.4205" stop-color="#fbe8e8"/><stop offset="0.4696" stop-color="#f7d5d5"/><stop offset="0.5420" stop-color="#f5c9c9"/><stop offset="0.7642" stop-color="#f2b7b7"/><stop offset="0.8456" stop-color="#eea5a5"/><stop offset="0.9386" stop-color="#ea8b8b"/><stop offset="0.9916" stop-color="#e98888"/><stop offset="0.9994" stop-color="#e98989"/></linearGradient><linearGradient id="g174" x2="0" y2="1"><stop offset="0.0006" stop-color="#c8ecbb"/><stop offset="0.1169" stop-color="#bee8ae"/><stop offset="0.2048" stop-color="#b4e5a2"/><stop offset="0.2487" stop-color="#b8e6a6"/><stop offset="0.2901" stop-color="#c5ebb7"/><stop offset="0.3469" stop-color="#e5f6df"/><stop offset="0.3857" stop-color="#ffffff"/><stop offset="0.4154" stop-color="#fbe9e9"/><stop offset="0.4606" stop-color="#f7d5d5"/><stop offset="0.5239" stop-color="#f5c9c9"/><stop offset="0.7565" stop-color="#f2b8b8"/><stop offset="0.8391" stop-color="#efa7a7"/><stop offset="0.9373" stop-color="#ea8b8b"/><stop offset="0.9903" stop-color="#e98888"/><stop offset="0.9994" stop-color="#e98989"/></linearGradient><linearGradient id="g175" x2="0" y2="1"><stop offset="0.0006" stop-color="#c8ecbb"/><stop offset="0.1130" stop-color="#bde8ae"/><stop offset="0.2048" stop-color="#b2e49f"/><stop offset="0.2474" stop-color="#b5e6a3"/><stop offset="0.2875" stop-color="#c2eab4"/><stop offset="0.3391" stop-color="#e0f4d8"/><stop offset="0.3844" stop-color="#fffefe"/><stop offset="0.4141" stop-color="#fbe7e7"/><stop offset="0.4580" stop-color="#f7d4d4"/><stop offset="0.5174" stop-color="#f5c8c8"/><stop offset="0.7448" stop-color="#f2baba"/><stop offset="0.8275" stop-color="#efaaaa"/><stop offset="0.9373" stop-color="#ea8b8b"/><stop offset="0.9903" stop-color="#e98888"/><stop offset="0.9994" stop-color="#e98888"/></linearGradient><linearGradient id="g176" x2="0" y2="1"><stop offset="0.0006" stop-color="#c8ecbb"/><stop offset="0.1092" stop-color="#bde8ae"/><stop offset="0.2048" stop-color="#b0e49d"/><stop offset="0.2461" stop-color="#b3e5a1"/><stop offset="0.2836" stop-color="#bfe9b0"/><stop offset="0.3314" stop-color="#daf2d2"/><stop offset="0.3818" stop-color="#ffffff"/><stop offset="0.4076" stop-color="#fbe9e9"/><stop offset="0.4490" stop-color="#f7d4d4"/><stop offset="0.5019" stop-color="#f5c8c8"/><stop offset="0.7358" stop-color="#f2bbbb"/><stop offset="0.8198" stop-color="#f0abab"/><stop offset="0.9373" stop-color="#ea8b8b"/><stop offset="0.9916" stop-color="#e98888"/><stop offset="0.9994" stop-color="#e98888"/></linearGradient><linearGradient id="g177" x2="0" y2="1"><stop offset="0.0006" stop-color="#c9ecbb"/><stop offset="0.1053" stop-color="#bde8ae"/><stop offset="0.2048" stop-color="#afe39b"/><stop offset="0.2448" stop-color="#b1e49e"/><stop offset="0.2810" stop-color="#bce8ac"/><stop offset="0.3249" stop-color="#d6f1cc"/><stop offset="0.3805" stop-color="#fffefe"/><stop offset="0.4076" stop-color="#fbe7e7"/><stop offset="0.4477" stop-color="#f7d2d2"/><stop offset="0.4981" stop-color="#f5c6c6"/><stop offset="0.7229" stop-color="#f3bcbc"/><stop offset="0.8094" stop-color="#f0aeae"/><stop offset="0.9373" stop-color="#ea8b8b"/><stop offset="0.9916" stop-color="#e98888"/><stop offset="0.9994" stop-color="#e98989"/></linearGradient><linearGradient id="g178" x2="0" y2="1"><stop offset="0.0006" stop-color="#c9ecbc"/><stop offset="0.1027" stop-color="#bde8ae"/><stop offset="0.2048" stop-color="#ade399"/><stop offset="0.2448" stop-color="#afe39c"/><stop offset="0.2810" stop-color="#bbe8aa"/><stop offset="0.3236" stop-color="#d4f0ca"/><stop offset="0.3766" stop-color="#fefefd"/><stop offset="0.3779" stop-color="#ffffff"/><stop offset="0.4025" stop-color="#fbe8e8"/><stop offset="0.4412" stop-color="#f7d2d2"/><stop offset="0.4877" stop-color="#f4c5c5"/><stop offset="0.5743" stop-color="#f4c2c2"/><stop offset="0.7125" stop-color="#f3bdbd"/><stop offset="0.8017" stop-color="#f0b0b0"/><stop offset="0.9386" stop-color="#ea8b8b"/><stop offset="0.9929" stop-color="#e98888"/><stop offset="0.9994" stop-color="#e98989"/></linearGradient><linearGradient id="g179" x2="0" y2="1"><stop offset="0.0006" stop-color="#c9ecbc"/><stop offset="0.1014" stop-color="#bde8ad"/><stop offset="0.2048" stop-color="#ace298"/><stop offset="0.2435" stop-color="#ade39a"/><stop offset="0.2784" stop-color="#b8e7a7"/><stop offset="0.3185" stop-color="#d0efc5"/><stop offset="0.3740" stop-color="#fdfefc"/><stop offset="0.3766" stop-color="#fffefe"/><stop offset="0.4025" stop-color="#fae5e5"/><stop offset="0.4399" stop-color="#f6cfcf"/><stop offset="0.4839" stop-color="#f4c3c3"/><stop offset="0.5588" stop-color="#f4c0c0"/><stop offset="0.6944" stop-color="#f3bebe"/><stop offset="0.7875" stop-color="#f1b3b3"/><stop offset="0.9399" stop-color="#ea8b8b"/><stop offset="0.9955" stop-color="#e98989"/><stop offset="0.9994" stop-color="#e98989"/></linearGradient><linearGradient id="g180" x2="0" y2="1"><stop offset="0.0006" stop-color="#c9ecbc"/><stop offset="0.1001" stop-color="#bde8ad"/><stop offset="0.2048" stop-color="#abe296"/><stop offset="0.2435" stop-color="#ace298"/><stop offset="0.2771" stop-color="#b7e6a5"/><stop offset="0.3159" stop-color="#ceeec2"/><stop offset="0.3702" stop-color="#fafdf9"/><stop offset="0.3740" stop-color="#fffffe"/><stop offset="0.3999" stop-color="#fae5e5"/><stop offset="0.4360" stop-color="#f6cece"/><stop offset="0.4787" stop-color="#f4c2c2"/><stop offset="0.5446" stop-color="#f3bfbf"/><stop offset="0.6802" stop-color="#f3bfbf"/><stop offset="0.7771" stop-color="#f1b5b5"/><stop offset="0.8714" stop-color="#ed9d9d"/><stop offset="0.9438" stop-color="#ea8b8b"/><stop offset="0.9994" stop-color="#e98989"/></linearGradient><linearGradient id="g181" x2="0" y2="1"><stop offset="0.0006" stop-color="#c9ecbc"/><stop offset="0.0988" stop-color="#bde8ad"/><stop offset="0.2061" stop-color="#aae295"/><stop offset="0.2435" stop-color="#abe297"/><stop offset="0.2771" stop-color="#b6e6a4"/><stop offset="0.3146" stop-color="#cdeec1"/><stop offset="0.3676" stop-color="#f9fdf8"/><stop offset="0.3727" stop-color="#ffffff"/><stop offset="0.3947" stop-color="#fbe7e7"/><stop offset="0.4296" stop-color="#f6cfcf"/><stop offset="0.4696" stop-color="#f4c1c1"/><stop offset="0.5252" stop-color="#f3bdbd"/><stop offset="0.6686" stop-color="#f3c0c0"/><stop offset="0.7668" stop-color="#f2b7b7"/><stop offset="0.8559" stop-color="#eea1a1"/><stop offset="0.9386" stop-color="#ea8c8c"/><stop offset="0.9942" stop-color="#e98a8a"/><stop offset="0.9994" stop-color="#ea8a8a"/></linearGradient><linearGradient id="g182" x2="0" y2="1"><stop offset="0.0006" stop-color="#c9ecbc"/><stop offset="0.0975" stop-color="#bde8ad"/><stop offset="0.2061" stop-color="#a9e194"/><stop offset="0.2435" stop-color="#aae296"/><stop offset="0.2758" stop-color="#b4e5a2"/><stop offset="0.3120" stop-color="#cbedbe"/><stop offset="0.3624" stop-color="#f6fcf3"/><stop offset="0.3714" stop-color="#fffefe"/><stop offset="0.3934" stop-color="#fae6e6"/><stop offset="0.4270" stop-color="#f6cece"/><stop offset="0.4658" stop-color="#f3bfbf"/><stop offset="0.5174" stop-color="#f2bbbb"/><stop offset="0.6634" stop-color="#f3c0c0"/><stop offset="0.7616" stop-color="#f2b7b7"/><stop offset="0.8508" stop-color="#eea3a3"/><stop offset="0.9386" stop-color="#ea8d8d"/><stop offset="0.9955" stop-color="#ea8a8a"/><stop offset="0.9994" stop-color="#ea8a8a"/></linearGradient><linearGradient id="g183" x2="0" y2="1"><stop offset="0.0006" stop-color="#c9ecbc"/><stop offset="0.0963" stop-color="#bde8ad"/><stop offset="0.2061" stop-color="#a8e193"/><stop offset="0.2435" stop-color="#a9e194"/><stop offset="0.2758" stop-color="#b4e5a1"/><stop offset="0.3107" stop-color="#c9ecbc"/><stop offset="0.3598" stop-color="#f4fbf2"/><stop offset="0.3702" stop-color="#fffefe"/><stop offset="0.3934" stop-color="#fae4e4"/><stop offset="0.4270" stop-color="#f6cbcb"/><stop offset="0.4645" stop-color="#f3bdbd"/><stop offset="0.5149" stop-color="#f2b9b9"/><stop offset="0.6583" stop-color="#f3c0c0"/><stop offset="0.7565" stop-color="#f2b8b8"/><stop offset="0.8443" stop-color="#efa5a5"/><stop offset="0.9373" stop-color="#ea8d8d"/><stop offset="0.9942" stop-color="#ea8b8b"/><stop offset="0.9994" stop-color="#ea8b8b"/></linearGradient><linearGradient id="g184" x2="0" y2="1"><stop offset="0.0006" stop-color="#c9ecbc"/><stop offset="0.0963" stop-color="#bde8ad"/><stop offset="0.2061" stop-color="#a8e192"/><stop offset="0.2435" stop-color="#a9e194"/><stop offset="0.2758" stop-color="#b3e5a1"/><stop offset="0.3107" stop-color="#c9ecbc"/><stop offset="0.3572" stop-color="#f3fbf0"/><stop offset="0.3676" stop-color="#fefffe"/><stop offset="0.3947" stop-color="#f9e0e0"/><stop offset="0.4283" stop-color="#f5c8c8"/><stop offset="0.4658" stop-color="#f2baba"/><stop offset="0.5149" stop-color="#f2b7b7"/><stop offset="0.6531" stop-color="#f3bfbf"/><stop offset="0.7500" stop-color="#f2b9b9"/><stop offset="0.8379" stop-color="#efa7a7"/><stop offset="0.9373" stop-color="#ea8e8e"/><stop offset="0.9955" stop-color="#ea8b8b"/><stop offset="0.9994" stop-color="#ea8b8b"/></linearGradient><linearGradient id="g185" x2="0" y2="1"><stop offset="0.0006" stop-color="#c9edbd"/><stop offset="0.0950" stop-color="#bde8ad"/><stop offset="0.2061" stop-color="#a7e192"/><stop offset="0.2435" stop-color="#a8e193"/><stop offset="0.2745" stop-color="#b2e49f"/><stop offset="0.3081" stop-color="#c7ecba"/><stop offset="0.3521" stop-color="#eff9eb"/><stop offset="0.3663" stop-color="#fefffe"/><stop offset="0.3908" stop-color="#fae1e1"/><stop offset="0.4231" stop-color="#f5c8c8"/><stop offset="0.4593" stop-color="#f2b9b9"/><stop offset="0.5045" stop-color="#f1b5b5"/><stop offset="0.6518" stop-color="#f3bfbf"/><stop offset="0.7474" stop-color="#f2b9b9"/><stop offset="0.8366" stop-color="#efa8a8"/><stop offset="0.9373" stop-color="#ea8e8e"/><stop offset="0.9955" stop-color="#ea8c8c"/><stop offset="0.9994" stop-color="#ea8c8c"/></linearGradient><linearGradient id="g186" x2="0" y2="1"><stop offset="0.0006" stop-color="#caedbd"/><stop offset="0.0950" stop-color="#bde8ad"/><stop offset="0.2061" stop-color="#a7e191"/><stop offset="0.2422" stop-color="#a7e192"/><stop offset="0.2733" stop-color="#b1e49e"/><stop offset="0.3056" stop-color="#c5ebb7"/><stop offset="0.3482" stop-color="#ecf8e7"/><stop offset="0.3650" stop-color="#ffffff"/><stop offset="0.3870" stop-color="#fae3e3"/><stop offset="0.4180" stop-color="#f5c9c9"/><stop offset="0.4528" stop-color="#f2b8b8"/><stop offset="0.4955" stop-color="#f1b2b2"/><stop offset="0.6505" stop-color="#f3bfbf"/><stop offset="0.7448" stop-color="#f2baba"/><stop offset="0.8340" stop-color="#efa9a9"/><stop offset="0.9373" stop-color="#ea8f8f"/><stop offset="0.9968" stop-color="#ea8d8d"/><stop offset="0.9994" stop-color="#ea8d8d"/></linearGradient><linearGradient id="g187" x2="0" y2="1"><stop offset="0.0006" stop-color="#caedbd"/><stop offset="0.0950" stop-color="#bde8ad"/><stop offset="0.2061" stop-color="#a6e091"/><stop offset="0.2422" stop-color="#a7e192"/><stop offset="0.2733" stop-color="#b1e49e"/><stop offset="0.3056" stop-color="#c5ebb7"/><stop offset="0.3469" stop-color="#ecf8e7"/><stop offset="0.3637" stop-color="#ffffff"/><stop offset="0.3831" stop-color="#fae5e5"/><stop offset="0.4141" stop-color="#f5c9c9"/><stop offset="0.4477" stop-color="#f2b7b7"/><stop offset="0.4877" stop-color="#f1b0b0"/><stop offset="0.5652" stop-color="#f2b8b8"/><stop offset="0.6583" stop-color="#f3bfbf"/><stop offset="0.7500" stop-color="#f2b9b9"/><stop offset="0.8404" stop-color="#efa7a7"/><stop offset="0.9386" stop-color="#eb9090"/><stop offset="0.9994" stop-color="#ea8d8d"/></linearGradient><linearGradient id="g188" x2="0" y2="1"><stop offset="0.0006" stop-color="#caedbd"/><stop offset="0.0950" stop-color="#bde8ad"/><stop offset="0.2061" stop-color="#a6e091"/><stop offset="0.2422" stop-color="#a7e191"/><stop offset="0.2733" stop-color="#b1e49e"/><stop offset="0.3056" stop-color="#c6ebb8"/><stop offset="0.3456" stop-color="#ebf8e7"/><stop offset="0.3624" stop-color="#fffefe"/><stop offset="0.3818" stop-color="#fae4e4"/><stop offset="0.4128" stop-color="#f5c7c7"/><stop offset="0.4464" stop-color="#f1b5b5"/><stop offset="0.4851" stop-color="#f0aeae"/><stop offset="0.5536" stop-color="#f1b5b5"/><stop offset="0.6479" stop-color="#f3bebe"/><stop offset="0.7397" stop-color="#f2bbbb"/><stop offset="0.8288" stop-color="#efaaaa"/><stop offset="0.9373" stop-color="#eb9191"/><stop offset="0.9981" stop-color="#ea8e8e"/><stop offset="0.9994" stop-color="#ea8e8e"/></linearGradient><linearGradient id="g189" x2="0" y2="1"><stop offset="0.0006" stop-color="#caedbd"/><stop offset="0.0950" stop-color="#bde8ad"/><stop offset="0.2061" stop-color="#a6e091"/><stop offset="0.2422" stop-color="#a7e191"/><stop offset="0.2733" stop-color="#b1e49e"/><stop offset="0.3043" stop-color="#c5ebb7"/><stop offset="0.3417" stop-color="#e8f7e3"/><stop offset="0.3611" stop-color="#fffefe"/><stop offset="0.3818" stop-color="#fae1e1"/><stop offset="0.4115" stop-color="#f4c5c5"/><stop offset="0.4438" stop-color="#f1b3b3"/><stop offset="0.4813" stop-color="#f0acac"/><stop offset="0.5407" stop-color="#f1b1b1"/><stop offset="0.6376" stop-color="#f3bdbd"/><stop offset="0.7267" stop-color="#f3bcbc"/><stop offset="0.8159" stop-color="#f0aeae"/><stop offset="0.9373" stop-color="#eb9191"/><stop offset="0.9994" stop-color="#ea8f8f"/></linearGradient><linearGradient id="g190" x2="0" y2="1"><stop offset="0.0006" stop-color="#caedbd"/><stop offset="0.0950" stop-color="#bde8ae"/><stop offset="0.2061" stop-color="#a6e091"/><stop offset="0.2422" stop-color="#a7e192"/><stop offset="0.2733" stop-color="#b1e49e"/><stop offset="0.3043" stop-color="#c5ebb7"/><stop offset="0.3417" stop-color="#e9f8e4"/><stop offset="0.3598" stop-color="#fffefe"/><stop offset="0.3805" stop-color="#f9e1e1"/><stop offset="0.4102" stop-color="#f4c4c4"/><stop offset="0.4425" stop-color="#f1b1b1"/><stop offset="0.4787" stop-color="#efaaaa"/><stop offset="0.5342" stop-color="#f0afaf"/><stop offset="0.6337" stop-color="#f3bdbd"/><stop offset="0.7216" stop-color="#f3bcbc"/><stop offset="0.8107" stop-color="#f0afaf"/><stop offset="0.9373" stop-color="#eb9292"/><stop offset="0.9994" stop-color="#eb9090"/></linearGradient><linearGradient id="g191" x2="0" y2="1"><stop offset="0.0006" stop-color="#caedbe"/><stop offset="0.0950" stop-color="#bee8ae"/><stop offset="0.2061" stop-color="#a6e091"/><stop offset="0.2422" stop-color="#a7e192"/><stop offset="0.2720" stop-color="#b1e49e"/><stop offset="0.3030" stop-color="#c5ebb7"/><stop offset="0.3391" stop-color="#e8f7e2"/><stop offset="0.3585" stop-color="#fffefe"/><stop offset="0.3792" stop-color="#f9e0e0"/><stop offset="0.4089" stop-color="#f4c2c2"/><stop offset="0.4399" stop-color="#f0b0b0"/><stop offset="0.4748" stop-color="#efa8a8"/><stop offset="0.5265" stop-color="#f0acac"/><stop offset="0.6298" stop-color="#f3bcbc"/><stop offset="0.7151" stop-color="#f3bdbd"/><stop offset="0.8043" stop-color="#f1b1b1"/><stop offset="0.9386" stop-color="#eb9393"/><stop offset="0.9994" stop-color="#eb9090"/></linearGradient><linearGradient id="g192" x2="0" y2="1"><stop offset="0.0006" stop-color="#caedbe"/><stop offset="0.0950" stop-color="#bee8ae"/><stop offset="0.2061" stop-color="#a7e191"/><stop offset="0.2422" stop-color="#a7e192"/><stop offset="0.2720" stop-color="#b1e49e"/><stop offset="0.3017" stop-color="#c4ebb6"/><stop offset="0.3366" stop-color="#e6f6e0"/><stop offset="0.3572" stop-color="#fffefe"/><stop offset="0.3766" stop-color="#fae1e1"/><stop offset="0.4063" stop-color="#f4c2c2"/><stop offset="0.4373" stop-color="#f0afaf"/><stop offset="0.4722" stop-color="#efa6a6"/><stop offset="0.5213" stop-color="#efaaaa"/><stop offset="0.6273" stop-color="#f3bcbc"/><stop offset="0.7112" stop-color="#f3bdbd"/><stop offset="0.8004" stop-color="#f1b2b2"/><stop offset="0.9386" stop-color="#eb9393"/><stop offset="0.9994" stop-color="#eb9191"/></linearGradient><linearGradient id="g193" x2="0" y2="1"><stop offset="0.0006" stop-color="#cbedbe"/><stop offset="0.0950" stop-color="#bee9ae"/><stop offset="0.2061" stop-color="#a7e192"/><stop offset="0.2422" stop-color="#a8e193"/><stop offset="0.2720" stop-color="#b2e49f"/><stop offset="0.3017" stop-color="#c5ebb7"/><stop offset="0.3353" stop-color="#e6f6df"/><stop offset="0.3559" stop-color="#fffefe"/><stop offset="0.3753" stop-color="#f9e1e1"/><stop offset="0.4050" stop-color="#f4c1c1"/><stop offset="0.4360" stop-color="#f0adad"/><stop offset="0.4696" stop-color="#eea4a4"/><stop offset="0.5161" stop-color="#efa7a7"/><stop offset="0.6247" stop-color="#f3bbbb"/><stop offset="0.7074" stop-color="#f3bdbd"/><stop offset="0.7965" stop-color="#f1b2b2"/><stop offset="0.9399" stop-color="#eb9494"/><stop offset="0.9994" stop-color="#eb9292"/></linearGradient><linearGradient id="g194" x2="0" y2="1"><stop offset="0.0006" stop-color="#cbedbe"/><stop offset="0.0963" stop-color="#bee8ae"/><stop offset="0.2048" stop-color="#a8e192"/><stop offset="0.2410" stop-color="#a8e193"/><stop offset="0.2707" stop-color="#b2e49f"/><stop offset="0.3004" stop-color="#c5ebb7"/><stop offset="0.3340" stop-color="#e5f6df"/><stop offset="0.3547" stop-color="#fffefe"/><stop offset="0.3740" stop-color="#f9e0e0"/><stop offset="0.4037" stop-color="#f3c0c0"/><stop offset="0.4335" stop-color="#f0acac"/><stop offset="0.4671" stop-color="#eea2a2"/><stop offset="0.5110" stop-color="#eea5a5"/><stop offset="0.6234" stop-color="#f2baba"/><stop offset="0.7048" stop-color="#f3bdbd"/><stop offset="0.7939" stop-color="#f1b3b3"/><stop offset="0.9399" stop-color="#ec9595"/><stop offset="0.9994" stop-color="#eb9393"/></linearGradient><linearGradient id="g195" x2="0" y2="1"><stop offset="0.0006" stop-color="#cbedbe"/><stop offset="0.0963" stop-color="#bee9ae"/><stop offset="0.2048" stop-color="#a8e193"/><stop offset="0.2410" stop-color="#a9e194"/><stop offset="0.2707" stop-color="#b2e5a0"/><stop offset="0.3004" stop-color="#c6ebb8"/><stop offset="0.3327" stop-color="#e5f6df"/><stop offset="0.3534" stop-color="#fffefe"/><stop offset="0.3727" stop-color="#f9e0e0"/><stop offset="0.4025" stop-color="#f3bfbf"/><stop offset="0.4322" stop-color="#efaaaa"/><stop offset="0.4645" stop-color="#eea0a0"/><stop offset="0.5071" stop-color="#eea2a2"/><stop offset="0.6221" stop-color="#f2baba"/><stop offset="0.7022" stop-color="#f3bdbd"/><stop offset="0.7913" stop-color="#f1b4b4"/><stop offset="0.9412" stop-color="#ec9595"/><stop offset="0.9994" stop-color="#eb9393"/></linearGradient><linearGradient id="g196" x2="0" y2="1"><stop offset="0.0006" stop-color="#cbedbf"/><stop offset="0.0963" stop-color="#bee9af"/><stop offset="0.2048" stop-color="#a9e194"/><stop offset="0.2410" stop-color="#a9e295"/><stop offset="0.2707" stop-color="#b3e5a1"/><stop offset="0.3004" stop-color="#c7ecb9"/><stop offset="0.3327" stop-color="#e6f7e0"/><stop offset="0.3521" stop-color="#fffefe"/><stop offset="0.3714" stop-color="#f9dfdf"/><stop offset="0.4012" stop-color="#f3bebe"/><stop offset="0.4309" stop-color="#efa8a8"/><stop offset="0.4632" stop-color="#ed9e9e"/><stop offset="0.5045" stop-color="#eea0a0"/><stop offset="0.6208" stop-color="#f2b9b9"/><stop offset="0.6996" stop-color="#f3bdbd"/><stop offset="0.7875" stop-color="#f1b5b5"/><stop offset="0.9425" stop-color="#ec9696"/><stop offset="0.9994" stop-color="#eb9494"/></linearGradient><linearGradient id="g197" x2="0" y2="1"><stop offset="0.0006" stop-color="#cbedbf"/><stop offset="0.0975" stop-color="#bee9af"/><stop offset="0.2035" stop-color="#a9e295"/><stop offset="0.2410" stop-color="#aae296"/><stop offset="0.2707" stop-color="#b4e5a2"/><stop offset="0.3004" stop-color="#c8ecba"/><stop offset="0.3327" stop-color="#e8f7e2"/><stop offset="0.3508" stop-color="#fffefe"/><stop offset="0.3714" stop-color="#f9dddd"/><stop offset="0.4012" stop-color="#f3bbbb"/><stop offset="0.4309" stop-color="#efa6a6"/><stop offset="0.4632" stop-color="#ed9c9c"/><stop offset="0.5045" stop-color="#ed9f9f"/><stop offset="0.6195" stop-color="#f2b9b9"/><stop offset="0.6970" stop-color="#f3bdbd"/><stop offset="0.7849" stop-color="#f1b5b5"/><stop offset="0.9425" stop-color="#ec9797"/><stop offset="0.9994" stop-color="#ec9595"/></linearGradient><linearGradient id="g198" x2="0" y2="1"><stop offset="0.0006" stop-color="#cbedbf"/><stop offset="0.0988" stop-color="#bee9af"/><stop offset="0.2035" stop-color="#aae296"/><stop offset="0.2410" stop-color="#abe297"/><stop offset="0.2707" stop-color="#b5e6a3"/><stop offset="0.3004" stop-color="#c9ecbc"/><stop offset="0.3314" stop-color="#e8f7e2"/><stop offset="0.3495" stop-color="#fffefe"/><stop offset="0.3702" stop-color="#f9dddd"/><stop offset="0.3999" stop-color="#f2bbbb"/><stop offset="0.4296" stop-color="#eea5a5"/><stop offset="0.4606" stop-color="#ed9b9b"/><stop offset="0.5006" stop-color="#ed9d9d"/><stop offset="0.6195" stop-color="#f2b8b8"/><stop offset="0.6970" stop-color="#f3bdbd"/><stop offset="0.7849" stop-color="#f2b5b5"/><stop offset="0.9438" stop-color="#ec9797"/><stop offset="0.9994" stop-color="#ec9696"/></linearGradient><linearGradient id="g199" x2="0" y2="1"><stop offset="0.0006" stop-color="#ccedbf"/><stop offset="0.1001" stop-color="#bee9af"/><stop offset="0.2035" stop-color="#abe297"/><stop offset="0.2410" stop-color="#ace298"/><stop offset="0.2720" stop-color="#b7e6a5"/><stop offset="0.3017" stop-color="#cbedbf"/><stop offset="0.3327" stop-color="#ebf8e6"/><stop offset="0.3482" stop-color="#fffefe"/><stop offset="0.3689" stop-color="#f9dddd"/><stop offset="0.3986" stop-color="#f2baba"/><stop offset="0.4283" stop-color="#eea4a4"/><stop offset="0.4593" stop-color="#ec9999"/><stop offset="0.4981" stop-color="#ed9b9b"/><stop offset="0.6182" stop-color="#f2b8b8"/><stop offset="0.6944" stop-color="#f3bdbd"/><stop offset="0.7823" stop-color="#f2b6b6"/><stop offset="0.9438" stop-color="#ec9898"/><stop offset="0.9994" stop-color="#ec9696"/></linearGradient><linearGradient id="g200" x2="0" y2="1"><stop offset="0.0006" stop-color="#ccedc0"/><stop offset="0.1001" stop-color="#bfe9af"/><stop offset="0.2022" stop-color="#ace298"/><stop offset="0.2397" stop-color="#ade399"/><stop offset="0.2707" stop-color="#b7e6a6"/><stop offset="0.3004" stop-color="#cbedbf"/><stop offset="0.3314" stop-color="#ebf8e6"/><stop offset="0.3469" stop-color="#fffefe"/><stop offset="0.3676" stop-color="#f9dcdc"/><stop offset="0.3973" stop-color="#f2b9b9"/><stop offset="0.4270" stop-color="#eea2a2"/><stop offset="0.4580" stop-color="#ec9898"/><stop offset="0.4955" stop-color="#ec9999"/><stop offset="0.6182" stop-color="#f2b7b7"/><stop offset="0.6932" stop-color="#f3bdbd"/><stop offset="0.7810" stop-color="#f2b6b6"/><stop offset="0.9451" stop-color="#ec9999"/><stop offset="0.9994" stop-color="#ec9797"/></linearGradient><linearGradient id="g201" x2="0" y2="1"><stop offset="0.0006" stop-color="#ccedc0"/><stop offset="0.1014" stop-color="#bfe9af"/><stop offset="0.2022" stop-color="#ade399"/><stop offset="0.2397" stop-color="#aee39b"/><stop offset="0.2707" stop-color="#b9e7a8"/><stop offset="0.3004" stop-color="#cdeec1"/><stop offset="0.3301" stop-color="#ebf8e6"/><stop offset="0.3456" stop-color="#fffefe"/><stop offset="0.3663" stop-color="#f9dcdc"/><stop offset="0.3960" stop-color="#f2b9b9"/><stop offset="0.4257" stop-color="#eea1a1"/><stop offset="0.4567" stop-color="#ec9696"/><stop offset="0.4942" stop-color="#ec9797"/><stop offset="0.6182" stop-color="#f2b7b7"/><stop offset="0.6932" stop-color="#f3bdbd"/><stop offset="0.7810" stop-color="#f2b7b7"/><stop offset="0.9451" stop-color="#ec9a9a"/><stop offset="0.9994" stop-color="#ec9898"/></linearGradient><linearGradient id="g202" x2="0" y2="1"><stop offset="0.0006" stop-color="#cceec0"/><stop offset="0.1040" stop-color="#bfe9af"/><stop offset="0.2009" stop-color="#aee39b"/><stop offset="0.2397" stop-color="#b0e49c"/><stop offset="0.2707" stop-color="#bae7a9"/><stop offset="0.3004" stop-color="#ceeec2"/><stop offset="0.3301" stop-color="#ecf9e8"/><stop offset="0.3443" stop-color="#fffefe"/><stop offset="0.3650" stop-color="#f9dcdc"/><stop offset="0.3947" stop-color="#f2b8b8"/><stop offset="0.4244" stop-color="#eea0a0"/><stop offset="0.4541" stop-color="#ec9595"/><stop offset="0.4903" stop-color="#ec9595"/><stop offset="0.6195" stop-color="#f2b7b7"/><stop offset="0.6944" stop-color="#f3bdbd"/><stop offset="0.7823" stop-color="#f2b7b7"/><stop offset="0.9464" stop-color="#ed9b9b"/><stop offset="0.9994" stop-color="#ec9999"/></linearGradient><linearGradient id="g203" x2="0" y2="1"><stop offset="0.0006" stop-color="#cdeec0"/><stop offset="0.1053" stop-color="#bfe9af"/><stop offset="0.2009" stop-color="#afe39c"/><stop offset="0.2397" stop-color="#b1e49e"/><stop offset="0.2707" stop-color="#bce8ab"/><stop offset="0.3004" stop-color="#d0efc4"/><stop offset="0.3301" stop-color="#eef9ea"/><stop offset="0.3430" stop-color="#fffefe"/><stop offset="0.3650" stop-color="#f8dada"/><stop offset="0.3960" stop-color="#f1b5b5"/><stop offset="0.4257" stop-color="#ed9e9e"/><stop offset="0.4554" stop-color="#eb9494"/><stop offset="0.4916" stop-color="#eb9494"/><stop offset="0.6182" stop-color="#f2b6b6"/><stop offset="0.6919" stop-color="#f3bdbd"/><stop offset="0.7797" stop-color="#f2b7b7"/><stop offset="0.9477" stop-color="#ed9b9b"/><stop offset="0.9994" stop-color="#ec9a9a"/></linearGradient><linearGradient id="g204" x2="0" y2="1"><stop offset="0.0006" stop-color="#cdeec1"/><stop offset="0.1066" stop-color="#bfe9b0"/><stop offset="0.1996" stop-color="#b0e49d"/><stop offset="0.2384" stop-color="#b2e49f"/><stop offset="0.2694" stop-color="#bce8ac"/><stop offset="0.2991" stop-color="#d0efc5"/><stop offset="0.3288" stop-color="#eef9ea"/><stop offset="0.3417" stop-color="#fffefe"/><stop offset="0.3637" stop-color="#f8dada"/><stop offset="0.3947" stop-color="#f1b5b5"/><stop offset="0.4244" stop-color="#ed9d9d"/><stop offset="0.4541" stop-color="#eb9393"/><stop offset="0.4903" stop-color="#eb9393"/><stop offset="0.6182" stop-color="#f2b6b6"/><stop offset="0.6919" stop-color="#f3bdbd"/><stop offset="0.7797" stop-color="#f2b7b7"/><stop offset="0.9477" stop-color="#ed9c9c"/><stop offset="0.9994" stop-color="#ed9b9b"/></linearGradient><linearGradient id="g205" x2="0" y2="1"><stop offset="0.0006" stop-color="#cdeec1"/><stop offset="0.1092" stop-color="#bfe9b0"/><stop offset="0.1996" stop-color="#b1e49f"/><stop offset="0.2384" stop-color="#b3e5a1"/><stop offset="0.2694" stop-color="#bee9ae"/><stop offset="0.2991" stop-color="#d2efc7"/><stop offset="0.3275" stop-color="#eef9ea"/><stop offset="0.3404" stop-color="#fffefe"/><stop offset="0.3624" stop-color="#f8dada"/><stop offset="0.3934" stop-color="#f1b5b5"/><stop offset="0.4231" stop-color="#ed9d9d"/><stop offset="0.4528" stop-color="#eb9292"/><stop offset="0.4890" stop-color="#eb9292"/><stop offset="0.6182" stop-color="#f2b6b6"/><stop offset="0.6919" stop-color="#f3bdbd"/><stop offset="0.7797" stop-color="#f2b8b8"/><stop offset="0.9490" stop-color="#ed9d9d"/><stop offset="0.9994" stop-color="#ed9b9b"/></linearGradient><linearGradient id="g206" x2="0" y2="1"><stop offset="0.0006" stop-color="#cdeec1"/><stop offset="0.1118" stop-color="#bfe9b0"/><stop offset="0.1996" stop-color="#b3e5a0"/><stop offset="0.2384" stop-color="#b5e5a3"/><stop offset="0.2707" stop-color="#c0e9b1"/><stop offset="0.3004" stop-color="#d4f0ca"/><stop offset="0.3288" stop-color="#f1faee"/><stop offset="0.3391" stop-color="#fffefe"/><stop offset="0.3611" stop-color="#f8dbdb"/><stop offset="0.3921" stop-color="#f1b5b5"/><stop offset="0.4218" stop-color="#ed9d9d"/><stop offset="0.4516" stop-color="#eb9191"/><stop offset="0.4864" stop-color="#eb9191"/><stop offset="0.5601" stop-color="#efa6a6"/><stop offset="0.6324" stop-color="#f2b8b8"/><stop offset="0.7074" stop-color="#f3bdbd"/><stop offset="0.7991" stop-color="#f1b5b5"/><stop offset="0.9477" stop-color="#ed9e9e"/><stop offset="0.9994" stop-color="#ed9c9c"/></linearGradient><linearGradient id="g207" x2="0" y2="1"><stop offset="0.0006" stop-color="#ceeec2"/><stop offset="0.1143" stop-color="#bfe9b0"/><stop offset="0.1996" stop-color="#b4e5a2"/><stop offset="0.2397" stop-color="#b7e6a5"/><stop offset="0.2720" stop-color="#c3eab4"/><stop offset="0.3017" stop-color="#d7f1ce"/><stop offset="0.3288" stop-color="#f3fbf0"/><stop offset="0.3379" stop-color="#fffefe"/><stop offset="0.3611" stop-color="#f8d9d9"/><stop offset="0.3934" stop-color="#f1b2b2"/><stop offset="0.4231" stop-color="#ed9b9b"/><stop offset="0.4528" stop-color="#eb9090"/><stop offset="0.4890" stop-color="#eb9090"/><stop offset="0.6182" stop-color="#f1b5b5"/><stop offset="0.6906" stop-color="#f3bdbd"/><stop offset="0.7784" stop-color="#f2b8b8"/><stop offset="0.9503" stop-color="#ed9e9e"/><stop offset="0.9994" stop-color="#ed9d9d"/></linearGradient><linearGradient id="g208" x2="0" y2="1"><stop offset="0.0006" stop-color="#ceeec2"/><stop offset="0.1182" stop-color="#bfe9b0"/><stop offset="0.1996" stop-color="#b5e6a3"/><stop offset="0.2397" stop-color="#b8e7a7"/><stop offset="0.2720" stop-color="#c4ebb6"/><stop offset="0.3017" stop-color="#d9f2d0"/><stop offset="0.3288" stop-color="#f5fbf2"/><stop offset="0.3366" stop-color="#fffefe"/><stop offset="0.3598" stop-color="#f8d9d9"/><stop offset="0.3921" stop-color="#f1b3b3"/><stop offset="0.4218" stop-color="#ed9b9b"/><stop offset="0.4516" stop-color="#eb8f8f"/><stop offset="0.4864" stop-color="#eb8f8f"/><stop offset="0.5601" stop-color="#efa5a5"/><stop offset="0.6324" stop-color="#f2b8b8"/><stop offset="0.7074" stop-color="#f3bdbd"/><stop offset="0.8004" stop-color="#f2b5b5"/><stop offset="0.9503" stop-color="#ed9f9f"/><stop offset="0.9994" stop-color="#ed9e9e"/></linearGradient><linearGradient id="g209" x2="0" y2="1"><stop offset="0.0006" stop-color="#ceeec2"/><stop offset="0.1221" stop-color="#bfe9b0"/><stop offset="0.1996" stop-color="#b6e6a5"/><stop offset="0.2397" stop-color="#bae7a9"/><stop offset="0.2720" stop-color="#c6ebb8"/><stop offset="0.3017" stop-color="#dbf2d2"/><stop offset="0.3288" stop-color="#f6fcf4"/><stop offset="0.3353" stop-color="#fffefe"/><stop offset="0.3598" stop-color="#f8d8d8"/><stop offset="0.3921" stop-color="#f1b2b2"/><stop offset="0.4218" stop-color="#ec9a9a"/><stop offset="0.4516" stop-color="#ea8f8f"/><stop offset="0.4864" stop-color="#ea8f8f"/><stop offset="0.5601" stop-color="#eea5a5"/><stop offset="0.6324" stop-color="#f2b7b7"/><stop offset="0.7074" stop-color="#f3bdbd"/><stop offset="0.8004" stop-color="#f2b6b6"/><stop offset="0.9503" stop-color="#eea0a0"/><stop offset="0.9994" stop-color="#ed9f9f"/></linearGradient><linearGradient id="g210" x2="0" y2="1"><stop offset="0.0006" stop-color="#ceeec3"/><stop offset="0.1273" stop-color="#bfe9b0"/><stop offset="0.2009" stop-color="#b8e6a6"/><stop offset="0.2410" stop-color="#bce8ac"/><stop offset="0.2733" stop-color="#c9ecbb"/><stop offset="0.3030" stop-color="#ddf3d5"/><stop offset="0.3288" stop-color="#f8fdf6"/><stop offset="0.3340" stop-color="#fffefe"/><stop offset="0.3585" stop-color="#f8d8d8"/><stop offset="0.3921" stop-color="#f1b1b1"/><stop offset="0.4218" stop-color="#ec9a9a"/><stop offset="0.4516" stop-color="#ea8e8e"/><stop offset="0.4864" stop-color="#ea8f8f"/><stop offset="0.5588" stop-color="#eea4a4"/><stop offset="0.6311" stop-color="#f2b7b7"/><stop offset="0.7061" stop-color="#f3bdbd"/><stop offset="0.7991" stop-color="#f2b6b6"/><stop offset="0.9516" stop-color="#eea1a1"/><stop offset="0.9994" stop-color="#eea0a0"/></linearGradient><linearGradient id="g211" x2="0" y2="1"><stop offset="0.0006" stop-color="#cfeec3"/><stop offset="0.1350" stop-color="#bfe9b0"/><stop offset="0.2035" stop-color="#b9e7a8"/><stop offset="0.2422" stop-color="#bee9ae"/><stop offset="0.2745" stop-color="#cbedbe"/><stop offset="0.3056" stop-color="#e1f5da"/><stop offset="0.3301" stop-color="#fcfefb"/><stop offset="0.3327" stop-color="#fffefe"/><stop offset="0.3585" stop-color="#f8d7d7"/><stop offset="0.3921" stop-color="#f1b0b0"/><stop offset="0.4218" stop-color="#ec9999"/><stop offset="0.4528" stop-color="#ea8e8e"/><stop offset="0.4890" stop-color="#ea8f8f"/><stop offset="0.6195" stop-color="#f1b5b5"/><stop offset="0.6919" stop-color="#f3bdbd"/><stop offset="0.7810" stop-color="#f2b9b9"/><stop offset="0.9541" stop-color="#eea2a2"/><stop offset="0.9994" stop-color="#eea0a0"/></linearGradient><linearGradient id="g212" x2="0" y2="1"><stop offset="0.0006" stop-color="#cfeec3"/><stop offset="0.1944" stop-color="#bae7aa"/><stop offset="0.2358" stop-color="#bee9ae"/><stop offset="0.2694" stop-color="#caedbd"/><stop offset="0.3004" stop-color="#dff4d7"/><stop offset="0.3262" stop-color="#f8fdf7"/><stop offset="0.3314" stop-color="#fffefe"/><stop offset="0.3572" stop-color="#f8d8d8"/><stop offset="0.3921" stop-color="#f0b0b0"/><stop offset="0.4231" stop-color="#ec9898"/><stop offset="0.4541" stop-color="#ea8e8e"/><stop offset="0.4903" stop-color="#ea8f8f"/><stop offset="0.6195" stop-color="#f1b5b5"/><stop offset="0.6919" stop-color="#f3bdbd"/><stop offset="0.7810" stop-color="#f2b9b9"/><stop offset="0.9554" stop-color="#eea2a2"/><stop offset="0.9994" stop-color="#eea1a1"/></linearGradient><linearGradient id="g213" x2="0" y2="1"><stop offset="0.0006" stop-color="#cfefc4"/><stop offset="0.1919" stop-color="#bce8ac"/><stop offset="0.2345" stop-color="#bfe9b0"/><stop offset="0.2681" stop-color="#cbedbf"/><stop offset="0.2991" stop-color="#dff4d8"/><stop offset="0.3249" stop-color="#f8fdf7"/><stop offset="0.3301" stop-color="#fffefe"/><stop offset="0.3572" stop-color="#f8d6d6"/><stop offset="0.3921" stop-color="#f0afaf"/><stop offset="0.4231" stop-color="#ec9898"/><stop offset="0.4541" stop-color="#ea8e8e"/><stop offset="0.4903" stop-color="#ea8f8f"/><stop offset="0.6208" stop-color="#f1b5b5"/><stop offset="0.6944" stop-color="#f3bdbd"/><stop offset="0.7849" stop-color="#f2b9b9"/><stop offset="0.9554" stop-color="#eea3a3"/><stop offset="0.9994" stop-color="#eea2a2"/></linearGradient><linearGradient id="g214" x2="0" y2="1"><stop offset="0.0006" stop-color="#d0efc4"/><stop offset="0.1906" stop-color="#bde8ae"/><stop offset="0.2345" stop-color="#c1eab2"/><stop offset="0.2694" stop-color="#ceeec2"/><stop offset="0.3004" stop-color="#e2f5db"/><stop offset="0.3249" stop-color="#fafdf9"/><stop offset="0.3288" stop-color="#fffefe"/><stop offset="0.3585" stop-color="#f7d4d4"/><stop offset="0.3934" stop-color="#f0aeae"/><stop offset="0.4244" stop-color="#ec9797"/><stop offset="0.4554" stop-color="#ea8e8e"/><stop offset="0.4929" stop-color="#eb9090"/><stop offset="0.6208" stop-color="#f1b5b5"/><stop offset="0.6944" stop-color="#f3bdbd"/><stop offset="0.7862" stop-color="#f2b9b9"/><stop offset="0.9567" stop-color="#eea4a4"/><stop offset="0.9994" stop-color="#eea3a3"/></linearGradient><linearGradient id="g215" x2="0" y2="1"><stop offset="0.0006" stop-color="#d0efc5"/><stop offset="0.1880" stop-color="#bfe9af"/><stop offset="0.2332" stop-color="#c3eab5"/><stop offset="0.2681" stop-color="#cfefc4"/><stop offset="0.3004" stop-color="#e4f6de"/><stop offset="0.3249" stop-color="#fcfefc"/><stop offset="0.3275" stop-color="#fffdfd"/><stop offset="0.3585" stop-color="#f7d3d3"/><stop offset="0.3947" stop-color="#f0acac"/><stop offset="0.4257" stop-color="#ec9797"/><stop offset="0.4580" stop-color="#ea8e8e"/><stop offset="0.4968" stop-color="#eb9191"/><stop offset="0.6195" stop-color="#f1b4b4"/><stop offset="0.6932" stop-color="#f3bdbd"/><stop offset="0.7849" stop-color="#f2b9b9"/><stop offset="0.9593" stop-color="#eea5a5"/><stop offset="0.9994" stop-color="#eea4a4"/></linearGradient><linearGradient id="g216" x2="0" y2="1"><stop offset="0.0006" stop-color="#d0efc5"/><stop offset="0.1854" stop-color="#c0e9b1"/><stop offset="0.2306" stop-color="#c4ebb6"/><stop offset="0.2668" stop-color="#d1efc5"/><stop offset="0.2991" stop-color="#e5f6df"/><stop offset="0.3236" stop-color="#fdfefc"/><stop offset="0.3249" stop-color="#fefffe"/><stop offset="0.3598" stop-color="#f6d0d0"/><stop offset="0.3960" stop-color="#f0abab"/><stop offset="0.4283" stop-color="#ec9696"/><stop offset="0.4606" stop-color="#ea8e8e"/><stop offset="0.5006" stop-color="#eb9292"/><stop offset="0.6208" stop-color="#f1b5b5"/><stop offset="0.6957" stop-color="#f3bdbd"/><stop offset="0.7888" stop-color="#f2b9b9"/><stop offset="0.9606" stop-color="#efa6a6"/><stop offset="0.9994" stop-color="#eea5a5"/></linearGradient><linearGradient id="g217" x2="0" y2="1"><stop offset="0.0006" stop-color="#d1efc6"/><stop offset="0.1841" stop-color="#c2eab3"/><stop offset="0.2306" stop-color="#c6ebb9"/><stop offset="0.2668" stop-color="#d3f0c8"/><stop offset="0.2991" stop-color="#e7f7e1"/><stop offset="0.3224" stop-color="#fdfefc"/><stop offset="0.3236" stop-color="#ffffff"/><stop offset="0.3559" stop-color="#f7d4d4"/><stop offset="0.3934" stop-color="#f0aeae"/><stop offset="0.4257" stop-color="#ec9898"/><stop offset="0.4580" stop-color="#ea8f8f"/><stop offset="0.4981" stop-color="#eb9292"/><stop offset="0.6221" stop-color="#f1b5b5"/><stop offset="0.6970" stop-color="#f3bdbd"/><stop offset="0.7913" stop-color="#f2b9b9"/><stop offset="0.9619" stop-color="#efa6a6"/><stop offset="0.9994" stop-color="#efa6a6"/></linearGradient></defs>
<rect width="1710" height="2362" fill="#fff"/>
<g shape-rendering="crispEdges"><rect x="78" y="106" width="9" height="774" fill="url(#g0)"/><rect x="87" y="106" width="9" height="774" fill="url(#g1)"/><rect x="96" y="106" width="9" height="774" fill="url(#g2)"/><rect x="105" y="106" width="8" height="774" fill="url(#g3)"/><rect x="113" y="106" width="8" height="774" fill="url(#g4)"/><rect x="121" y="106" width="8" height="774" fill="url(#g5)"/><rect x="129" y="106" width="8" height="774" fill="url(#g6)"/><rect x="137" y="106" width="8" height="774" fill="url(#g7)"/><rect x="145" y="106" width="8" height="774" fill="url(#g8)"/><rect x="153" y="106" width="9" height="774" fill="url(#g9)"/><rect x="162" y="106" width="9" height="774" fill="url(#g10)"/><rect x="171" y="106" width="9" height="774" fill="url(#g11)"/><rect x="180" y="106" width="10" height="774" fill="url(#g12)"/><rect x="190" y="106" width="10" height="774" fill="url(#g13)"/><rect x="200" y="106" width="12" height="774" fill="url(#g14)"/><rect x="212" y="106" width="14" height="774" fill="url(#g15)"/><rect x="226" y="106" width="16" height="774" fill="url(#g16)"/><rect x="242" y="106" width="16" height="774" fill="url(#g17)"/><rect x="258" y="106" width="15" height="774" fill="url(#g18)"/><rect x="273" y="106" width="13" height="774" fill="url(#g19)"/><rect x="286" y="106" width="13" height="774" fill="url(#g20)"/><rect x="299" y="106" width="12" height="774" fill="url(#g21)"/><rect x="311" y="106" width="12" height="774" fill="url(#g22)"/><rect x="323" y="106" width="11" height="774" fill="url(#g23)"/><rect x="334" y="106" width="11" height="774" fill="url(#g24)"/><rect x="345" y="106" width="12" height="774" fill="url(#g25)"/><rect x="357" y="106" width="14" height="774" fill="url(#g26)"/><rect x="371" y="106" width="13" height="774" fill="url(#g27)"/><rect x="384" y="106" width="11" height="774" fill="url(#g28)"/><rect x="395" y="106" width="9" height="774" fill="url(#g29)"/><rect x="404" y="106" width="9" height="774" fill="url(#g30)"/><rect x="413" y="106" width="8" height="774" fill="url(#g31)"/><rect x="421" y="106" width="7" height="774" fill="url(#g32)"/><rect x="428" y="106" width="7" height="774" fill="url(#g33)"/><rect x="435" y="106" width="7" height="774" fill="url(#g34)"/><rect x="442" y="106" width="6" height="774" fill="url(#g35)"/><rect x="448" y="106" width="6" height="774" fill="url(#g36)"/><rect x="454" y="106" width="6" height="774" fill="url(#g37)"/><rect x="460" y="106" width="6" height="774" fill="url(#g38)"/><rect x="466" y="106" width="6" height="774" fill="url(#g39)"/><rect x="472" y="106" width="6" height="774" fill="url(#g40)"/><rect x="478" y="106" width="6" height="774" fill="url(#g41)"/><rect x="484" y="106" width="6" height="774" fill="url(#g42)"/><rect x="490" y="106" width="6" height="774" fill="url(#g43)"/><rect x="496" y="106" width="6" height="774" fill="url(#g44)"/><rect x="502" y="106" width="7" height="774" fill="url(#g45)"/><rect x="509" y="106" width="7" height="774" fill="url(#g46)"/><rect x="516" y="106" width="7" height="774" fill="url(#g47)"/><rect x="523" y="106" width="8" height="774" fill="url(#g48)"/><rect x="531" y="106" width="8" height="774" fill="url(#g49)"/><rect x="539" y="106" width="8" height="774" fill="url(#g50)"/><rect x="547" y="106" width="8" height="774" fill="url(#g51)"/><rect x="555" y="106" width="9" height="774" fill="url(#g52)"/><rect x="564" y="106" width="9" height="774" fill="url(#g53)"/><rect x="573" y="106" width="10" height="774" fill="url(#g54)"/><rect x="583" y="106" width="10" height="774" fill="url(#g55)"/><rect x="593" y="106" width="9" height="774" fill="url(#g56)"/><rect x="602" y="106" width="8" height="774" fill="url(#g57)"/><rect x="610" y="106" width="7" height="774" fill="url(#g58)"/><rect x="617" y="106" width="7" height="774" fill="url(#g59)"/><rect x="624" y="106" width="7" height="774" fill="url(#g60)"/><rect x="631" y="106" width="7" height="774" fill="url(#g61)"/><rect x="638" y="106" width="7" height="774" fill="url(#g62)"/><rect x="645" y="106" width="7" height="774" fill="url(#g63)"/><rect x="652" y="106" width="7" height="774" fill="url(#g64)"/><rect x="659" y="106" width="6" height="774" fill="url(#g65)"/><rect x="665" y="106" width="7" height="774" fill="url(#g66)"/><rect x="672" y="106" width="8" height="774" fill="url(#g67)"/><rect x="680" y="106" width="8" height="774" fill="url(#g68)"/><rect x="688" y="106" width="7" height="774" fill="url(#g69)"/><rect x="695" y="106" width="7" height="774" fill="url(#g70)"/><rect x="702" y="106" width="7" height="774" fill="url(#g71)"/><rect x="709" y="106" width="7" height="774" fill="url(#g72)"/><rect x="716" y="106" width="8" height="774" fill="url(#g73)"/><rect x="724" y="106" width="8" height="774" fill="url(#g74)"/><rect x="732" y="106" width="8" height="774" fill="url(#g75)"/><rect x="740" y="106" width="7" height="774" fill="url(#g76)"/><rect x="747" y="106" width="6" height="774" fill="url(#g77)"/><rect x="753" y="106" width="6" height="774" fill="url(#g78)"/><rect x="759" y="106" width="6" height="774" fill="url(#g79)"/><rect x="765" y="106" width="5" height="774" fill="url(#g80)"/><rect x="770" y="106" width="5" height="774" fill="url(#g81)"/><rect x="775" y="106" width="5" height="774" fill="url(#g82)"/><rect x="780" y="106" width="5" height="774" fill="url(#g83)"/><rect x="785" y="106" width="5" height="774" fill="url(#g84)"/><rect x="790" y="106" width="5" height="774" fill="url(#g85)"/><rect x="795" y="106" width="5" height="774" fill="url(#g86)"/><rect x="800" y="106" width="5" height="774" fill="url(#g87)"/><rect x="805" y="106" width="4" height="774" fill="url(#g88)"/><rect x="809" y="106" width="4" height="774" fill="url(#g89)"/><rect x="813" y="106" width="4" height="774" fill="url(#g90)"/><rect x="817" y="106" width="4" height="774" fill="url(#g91)"/><rect x="821" y="106" width="4" height="774" fill="url(#g92)"/><rect x="825" y="106" width="4" height="774" fill="url(#g93)"/><rect x="829" y="106" width="4" height="774" fill="url(#g94)"/><rect x="833" y="106" width="4" height="774" fill="url(#g95)"/><rect x="837" y="106" width="3" height="774" fill="url(#g96)"/><rect x="840" y="106" width="3" height="774" fill="url(#g97)"/><rect x="843" y="106" width="3" height="774" fill="url(#g98)"/><rect x="846" y="106" width="3" height="774" fill="url(#g99)"/><rect x="849" y="106" width="3" height="774" fill="url(#g100)"/><rect x="852" y="106" width="3" height="774" fill="url(#g101)"/><rect x="855" y="106" width="3" height="774" fill="url(#g102)"/><rect x="858" y="106" width="3" height="774" fill="url(#g103)"/><rect x="861" y="106" width="3" height="774" fill="url(#g104)"/><rect x="864" y="106" width="3" height="774" fill="url(#g105)"/><rect x="867" y="106" width="3" height="774" fill="url(#g106)"/><rect x="870" y="106" width="3" height="774" fill="url(#g107)"/><rect x="873" y="106" width="3" height="774" fill="url(#g108)"/><rect x="876" y="106" width="3" height="774" fill="url(#g109)"/><rect x="879" y="106" width="3" height="774" fill="url(#g110)"/><rect x="882" y="106" width="3" height="774" fill="url(#g111)"/><rect x="885" y="106" width="3" height="774" fill="url(#g112)"/><rect x="888" y="106" width="3" height="774" fill="url(#g113)"/><rect x="891" y="106" width="3" height="774" fill="url(#g114)"/><rect x="894" y="106" width="3" height="774" fill="url(#g115)"/><rect x="897" y="106" width="3" height="774" fill="url(#g116)"/><rect x="900" y="106" width="3" height="774" fill="url(#g117)"/><rect x="903" y="106" width="3" height="774" fill="url(#g118)"/><rect x="906" y="106" width="3" height="774" fill="url(#g119)"/><rect x="909" y="106" width="4" height="774" fill="url(#g120)"/><rect x="913" y="106" width="4" height="774" fill="url(#g121)"/><rect x="917" y="106" width="4" height="774" fill="url(#g122)"/><rect x="921" y="106" width="4" height="774" fill="url(#g123)"/><rect x="925" y="106" width="4" height="774" fill="url(#g124)"/><rect x="929" y="106" width="4" height="774" fill="url(#g125)"/><rect x="933" y="106" width="4" height="774" fill="url(#g126)"/><rect x="937" y="106" width="4" height="774" fill="url(#g127)"/><rect x="941" y="106" width="4" height="774" fill="url(#g128)"/><rect x="945" y="106" width="4" height="774" fill="url(#g129)"/><rect x="949" y="106" width="4" height="774" fill="url(#g130)"/><rect x="953" y="106" width="5" height="774" fill="url(#g131)"/><rect x="958" y="106" width="5" height="774" fill="url(#g132)"/><rect x="963" y="106" width="5" height="774" fill="url(#g133)"/><rect x="968" y="106" width="5" height="774" fill="url(#g134)"/><rect x="973" y="106" width="5" height="774" fill="url(#g135)"/><rect x="978" y="106" width="6" height="774" fill="url(#g136)"/><rect x="984" y="106" width="6" height="774" fill="url(#g137)"/><rect x="990" y="106" width="6" height="774" fill="url(#g138)"/><rect x="996" y="106" width="7" height="774" fill="url(#g139)"/><rect x="1003" y="106" width="8" height="774" fill="url(#g140)"/><rect x="1011" y="106" width="9" height="774" fill="url(#g141)"/><rect x="1020" y="106" width="9" height="774" fill="url(#g142)"/><rect x="1029" y="106" width="10" height="774" fill="url(#g143)"/><rect x="1039" y="106" width="11" height="774" fill="url(#g144)"/><rect x="1050" y="106" width="12" height="774" fill="url(#g145)"/><rect x="1062" y="106" width="13" height="774" fill="url(#g146)"/><rect x="1075" y="106" width="15" height="774" fill="url(#g147)"/><rect x="1090" y="106" width="16" height="774" fill="url(#g148)"/><rect x="1106" y="106" width="13" height="774" fill="url(#g149)"/><rect x="1119" y="106" width="12" height="774" fill="url(#g150)"/><rect x="1131" y="106" width="11" height="774" fill="url(#g151)"/><rect x="1142" y="106" width="11" height="774" fill="url(#g152)"/><rect x="1153" y="106" width="11" height="774" fill="url(#g153)"/><rect x="1164" y="106" width="11" height="774" fill="url(#g154)"/><rect x="1175" y="106" width="11" height="774" fill="url(#g155)"/><rect x="1186" y="106" width="11" height="774" fill="url(#g156)"/><rect x="1197" y="106" width="12" height="774" fill="url(#g157)"/><rect x="1209" y="106" width="12" height="774" fill="url(#g158)"/><rect x="1221" y="106" width="13" height="774" fill="url(#g159)"/><rect x="1234" y="106" width="14" height="774" fill="url(#g160)"/><rect x="1248" y="106" width="14" height="774" fill="url(#g161)"/><rect x="1262" y="106" width="14" height="774" fill="url(#g162)"/><rect x="1276" y="106" width="14" height="774" fill="url(#g163)"/><rect x="1290" y="106" width="15" height="774" fill="url(#g164)"/><rect x="1305" y="106" width="15" height="774" fill="url(#g165)"/><rect x="1320" y="106" width="13" height="774" fill="url(#g166)"/><rect x="1333" y="106" width="12" height="774" fill="url(#g167)"/><rect x="1345" y="106" width="12" height="774" fill="url(#g168)"/><rect x="1357" y="106" width="11" height="774" fill="url(#g169)"/><rect x="1368" y="106" width="11" height="774" fill="url(#g170)"/><rect x="1379" y="106" width="11" height="774" fill="url(#g171)"/><rect x="1390" y="106" width="10" height="774" fill="url(#g172)"/><rect x="1400" y="106" width="10" height="774" fill="url(#g173)"/><rect x="1410" y="106" width="10" height="774" fill="url(#g174)"/><rect x="1420" y="106" width="10" height="774" fill="url(#g175)"/><rect x="1430" y="106" width="10" height="774" fill="url(#g176)"/><rect x="1440" y="106" width="9" height="774" fill="url(#g177)"/><rect x="1449" y="106" width="9" height="774" fill="url(#g178)"/><rect x="1458" y="106" width="8" height="774" fill="url(#g179)"/><rect x="1466" y="106" width="8" height="774" fill="url(#g180)"/><rect x="1474" y="106" width="8" height="774" fill="url(#g181)"/><rect x="1482" y="106" width="7" height="774" fill="url(#g182)"/><rect x="1489" y="106" width="7" height="774" fill="url(#g183)"/><rect x="1496" y="106" width="7" height="774" fill="url(#g184)"/><rect x="1503" y="106" width="7" height="774" fill="url(#g185)"/><rect x="1510" y="106" width="7" height="774" fill="url(#g186)"/><rect x="1517" y="106" width="7" height="774" fill="url(#g187)"/><rect x="1524" y="106" width="7" height="774" fill="url(#g188)"/><rect x="1531" y="106" width="7" height="774" fill="url(#g189)"/><rect x="1538" y="106" width="6" height="774" fill="url(#g190)"/><rect x="1544" y="106" width="6" height="774" fill="url(#g191)"/><rect x="1550" y="106" width="6" height="774" fill="url(#g192)"/><rect x="1556" y="106" width="6" height="774" fill="url(#g193)"/><rect x="1562" y="106" width="6" height="774" fill="url(#g194)"/><rect x="1568" y="106" width="6" height="774" fill="url(#g195)"/><rect x="1574" y="106" width="5" height="774" fill="url(#g196)"/><rect x="1579" y="106" width="6" height="774" fill="url(#g197)"/><rect x="1585" y="106" width="6" height="774" fill="url(#g198)"/><rect x="1591" y="106" width="6" height="774" fill="url(#g199)"/><rect x="1597" y="106" width="6" height="774" fill="url(#g200)"/><rect x="1603" y="106" width="6" height="774" fill="url(#g201)"/><rect x="1609" y="106" width="6" height="774" fill="url(#g202)"/><rect x="1615" y="106" width="6" height="774" fill="url(#g203)"/><rect x="1621" y="106" width="6" height="774" fill="url(#g204)"/><rect x="1627" y="106" width="6" height="774" fill="url(#g205)"/><rect x="1633" y="106" width="6" height="774" fill="url(#g206)"/><rect x="1639" y="106" width="6" height="774" fill="url(#g207)"/><rect x="1645" y="106" width="6" height="774" fill="url(#g208)"/><rect x="1651" y="106" width="6" height="774" fill="url(#g209)"/><rect x="1657" y="106" width="6" height="774" fill="url(#g210)"/><rect x="1663" y="106" width="6" height="774" fill="url(#g211)"/><rect x="1669" y="106" width="7" height="774" fill="url(#g212)"/><rect x="1676" y="106" width="6" height="774" fill="url(#g213)"/><rect x="1682" y="106" width="7" height="774" fill="url(#g214)"/><rect x="1689" y="106" width="7" height="774" fill="url(#g215)"/><rect x="1696" y="106" width="7" height="774" fill="url(#g216)"/><rect x="1703" y="106" width="6" height="774" fill="url(#g217)"/></g>
<text x="1.5" y="32.2" font-family="Liberation Serif, serif" font-weight="bold" font-size="46.5" letter-spacing="-1.6">A)</text>
<circle cx="205.2" cy="223.4" r="9.0" fill="#78dc4a" stroke="#62c83a" stroke-width="1.6"/>
<circle cx="848.7" cy="125.0" r="9.0" fill="#78dc4a" stroke="#62c83a" stroke-width="1.6"/>
<circle cx="583.7" cy="378.0" r="9.0" fill="#78dc4a" stroke="#62c83a" stroke-width="1.6"/>
<circle cx="115.6" cy="491.3" r="9.0" fill="#78dc4a" stroke="#62c83a" stroke-width="1.6"/>
<circle cx="375.4" cy="551.5" r="9.0" fill="#78dc4a" stroke="#62c83a" stroke-width="1.6"/>
<circle cx="699.3" cy="565.6" r="9.0" fill="#78dc4a" stroke="#62c83a" stroke-width="1.6"/>
<circle cx="1534.3" cy="282.2" r="9.0" fill="#78dc4a" stroke="#62c83a" stroke-width="1.6"/>
<circle cx="1055.3" cy="604.8" r="9.0" fill="#f34a4a" stroke="#de3a3a" stroke-width="1.6"/>
<circle cx="1670.4" cy="465.0" r="9.0" fill="#f34a4a" stroke="#de3a3a" stroke-width="1.6"/>
<circle cx="625.4" cy="682.2" r="9.0" fill="#f34a4a" stroke="#de3a3a" stroke-width="1.6"/>
<circle cx="579.5" cy="746.3" r="9.0" fill="#f34a4a" stroke="#de3a3a" stroke-width="1.6"/>
<circle cx="262.4" cy="752.0" r="9.0" fill="#f34a4a" stroke="#de3a3a" stroke-width="1.6"/>
<circle cx="1430.6" cy="861.0" r="9.0" fill="#f34a4a" stroke="#de3a3a" stroke-width="1.6"/>
<path d="M1616 880V810a4 4 0 0 1 4-4H1705a4 4 0 0 1 4 4V880Z" fill="#f6f6f6" fill-opacity="0.55" stroke="#e2c4c6" stroke-width="0.8"/>
<circle cx="1630" cy="824.8" r="5.7" fill="#f07070" stroke="#e03434" stroke-width="1.3"/>
<circle cx="1630" cy="856.7" r="5.7" fill="#9ed86e" stroke="#5cc430" stroke-width="1.3"/>
<g font-family="DejaVu Sans Condensed, DejaVu Sans, sans-serif" font-size="18" fill="#000">
<text x="1642.6" y="833.7">CHIKV</text><text x="1642.6" y="865">Vehicle</text></g>
<g stroke="#3a3a3a" stroke-width="1.3" fill="none">
<path d="M77.5 106V881M76.9 880.4H1709"/>
<path d="M77.5 138.2H82M77.5 214.2H82M77.5 290.1H82M77.5 366.1H82M77.5 442.1H82M77.5 518.0H82M77.5 594.0H82M77.5 669.9H82M77.5 745.9H82M77.5 821.8H82M188.0 880.4V876.4M333.0 880.4V876.4M478.0 880.4V876.4M623.0 880.4V876.4M768.0 880.4V876.4M913.0 880.4V876.4M1058.0 880.4V876.4M1203.0 880.4V876.4M1348.0 880.4V876.4M1493.0 880.4V876.4M1638.0 880.4V876.4" stroke-width="1"/>
</g>
<g font-family="DejaVu Sans Condensed, DejaVu Sans, sans-serif" font-size="18" fill="#000">
<text x="72.2" y="144.4" text-anchor="end">0.5</text>
<text x="72.2" y="220.4" text-anchor="end">0.4</text>
<text x="72.2" y="296.3" text-anchor="end">0.3</text>
<text x="72.2" y="372.3" text-anchor="end">0.2</text>
<text x="72.2" y="448.2" text-anchor="end">0.1</text>
<text x="72.2" y="524.2" text-anchor="end">0</text>
<text x="72.2" y="600.2" text-anchor="end">-0.1</text>
<text x="72.2" y="676.1" text-anchor="end">-0.2</text>
<text x="72.2" y="752.1" text-anchor="end">-0.3</text>
<text x="72.2" y="828.0" text-anchor="end">-0.4</text>
<text x="188.0" y="900.5" text-anchor="middle">-0.4</text>
<text x="333.0" y="900.5" text-anchor="middle">-0.3</text>
<text x="478.0" y="900.5" text-anchor="middle">-0.2</text>
<text x="623.0" y="900.5" text-anchor="middle">-0.1</text>
<text x="768.0" y="900.5" text-anchor="middle">0</text>
<text x="913.0" y="900.5" text-anchor="middle">0.1</text>
<text x="1058.0" y="900.5" text-anchor="middle">0.2</text>
<text x="1203.0" y="900.5" text-anchor="middle">0.3</text>
<text x="1348.0" y="900.5" text-anchor="middle">0.4</text>
<text x="1493.0" y="900.5" text-anchor="middle">0.5</text>
<text x="1638.0" y="900.5" text-anchor="middle">0.6</text>
</g>
<text x="888" y="928.5" font-family="DejaVu Sans Condensed, DejaVu Sans, sans-serif" font-size="23" text-anchor="middle">PC1</text>
<text transform="translate(29.7 496.3) rotate(-90)" font-family="DejaVu Sans Condensed, DejaVu Sans, sans-serif" font-size="23" text-anchor="middle">PC2</text>
<text x="2.2" y="1038" font-family="Liberation Serif, serif" font-weight="bold" font-size="46.5" letter-spacing="-2.2">B)</text>
<g stroke="#000" stroke-width="3.3" fill="none" stroke-linecap="butt">
<path d="M269.2 1236.1H560.5M581.8 1236.1H1618.9M269.2 1570.5H560.5M581.8 1570.5H1618.9M269.2 1904.7H560.5M581.8 1904.7H1618.9M269.2 2239.1H560.5M581.8 2239.1H1618.9M270.9 1236.1V2239.1M1617.2 1236.1V2239.1"/>
<path d="M299.6 1236.1V1243.6M328.3 1236.1V1252.6M357.0 1236.1V1243.6M385.7 1236.1V1252.6M414.4 1236.1V1243.6M443.1 1236.1V1252.6M471.8 1236.1V1243.6M500.5 1236.1V1252.6M529.2 1236.1V1243.6M557.9 1236.1V1252.6M583.8 1236.1V1252.6M612.5 1236.1V1243.6M641.2 1236.1V1252.6M669.9 1236.1V1243.6M698.6 1236.1V1252.6M727.3 1236.1V1243.6M756.0 1236.1V1252.6M784.8 1236.1V1243.6M813.5 1236.1V1252.6M842.2 1236.1V1243.6M870.9 1236.1V1252.6M899.6 1236.1V1243.6M928.3 1236.1V1252.6M957.0 1236.1V1243.6M985.7 1236.1V1252.6M1014.4 1236.1V1243.6M1043.1 1236.1V1252.6M1071.8 1236.1V1243.6M1100.5 1236.1V1252.6M1129.2 1236.1V1243.6M1158.0 1236.1V1252.6M1186.7 1236.1V1243.6M1215.4 1236.1V1252.6M1244.1 1236.1V1243.6M1272.8 1236.1V1252.6M1301.5 1236.1V1243.6M1330.2 1236.1V1252.6M1358.9 1236.1V1243.6M1387.6 1236.1V1252.6M1416.3 1236.1V1243.6M1445.0 1236.1V1252.6M1473.7 1236.1V1243.6M1502.4 1236.1V1252.6M1531.1 1236.1V1243.6M1559.9 1236.1V1252.6M1588.6 1236.1V1243.6M299.6 1570.5V1563.0M328.3 1570.5V1554.0M357.0 1570.5V1563.0M385.7 1570.5V1554.0M414.4 1570.5V1563.0M443.1 1570.5V1554.0M471.8 1570.5V1563.0M500.5 1570.5V1554.0M529.2 1570.5V1563.0M557.9 1570.5V1554.0M583.8 1570.5V1554.0M612.5 1570.5V1563.0M641.2 1570.5V1554.0M669.9 1570.5V1563.0M698.6 1570.5V1554.0M727.3 1570.5V1563.0M756.0 1570.5V1554.0M784.8 1570.5V1563.0M813.5 1570.5V1554.0M842.2 1570.5V1563.0M870.9 1570.5V1554.0M899.6 1570.5V1563.0M928.3 1570.5V1554.0M957.0 1570.5V1563.0M985.7 1570.5V1554.0M1014.4 1570.5V1563.0M1043.1 1570.5V1554.0M1071.8 1570.5V1563.0M1100.5 1570.5V1554.0M1129.2 1570.5V1563.0M1158.0 1570.5V1554.0M1186.7 1570.5V1563.0M1215.4 1570.5V1554.0M1244.1 1570.5V1563.0M1272.8 1570.5V1554.0M1301.5 1570.5V1563.0M1330.2 1570.5V1554.0M1358.9 1570.5V1563.0M1387.6 1570.5V1554.0M1416.3 1570.5V1563.0M1445.0 1570.5V1554.0M1473.7 1570.5V1563.0M1502.4 1570.5V1554.0M1531.1 1570.5V1563.0M1559.9 1570.5V1554.0M1588.6 1570.5V1563.0M299.6 1904.7V1897.2M328.3 1904.7V1888.2M357.0 1904.7V1897.2M385.7 1904.7V1888.2M414.4 1904.7V1897.2M443.1 1904.7V1888.2M471.8 1904.7V1897.2M500.5 1904.7V1888.2M529.2 1904.7V1897.2M557.9 1904.7V1888.2M583.8 1904.7V1888.2M612.5 1904.7V1897.2M641.2 1904.7V1888.2M669.9 1904.7V1897.2M698.6 1904.7V1888.2M727.3 1904.7V1897.2M756.0 1904.7V1888.2M784.8 1904.7V1897.2M813.5 1904.7V1888.2M842.2 1904.7V1897.2M870.9 1904.7V1888.2M899.6 1904.7V1897.2M928.3 1904.7V1888.2M957.0 1904.7V1897.2M985.7 1904.7V1888.2M1014.4 1904.7V1897.2M1043.1 1904.7V1888.2M1071.8 1904.7V1897.2M1100.5 1904.7V1888.2M1129.2 1904.7V1897.2M1158.0 1904.7V1888.2M1186.7 1904.7V1897.2M1215.4 1904.7V1888.2M1244.1 1904.7V1897.2M1272.8 1904.7V1888.2M1301.5 1904.7V1897.2M1330.2 1904.7V1888.2M1358.9 1904.7V1897.2M1387.6 1904.7V1888.2M1416.3 1904.7V1897.2M1445.0 1904.7V1888.2M1473.7 1904.7V1897.2M1502.4 1904.7V1888.2M1531.1 1904.7V1897.2M1559.9 1904.7V1888.2M1588.6 1904.7V1897.2M299.6 2239.1V2231.6M328.3 2239.1V2222.6M357.0 2239.1V2231.6M385.7 2239.1V2222.6M414.4 2239.1V2231.6M443.1 2239.1V2222.6M471.8 2239.1V2231.6M500.5 2239.1V2222.6M529.2 2239.1V2231.6M557.9 2239.1V2222.6M583.8 2239.1V2222.6M612.5 2239.1V2231.6M641.2 2239.1V2222.6M669.9 2239.1V2231.6M698.6 2239.1V2222.6M727.3 2239.1V2231.6M756.0 2239.1V2222.6M784.8 2239.1V2231.6M813.5 2239.1V2222.6M842.2 2239.1V2231.6M870.9 2239.1V2222.6M899.6 2239.1V2231.6M928.3 2239.1V2222.6M957.0 2239.1V2231.6M985.7 2239.1V2222.6M1014.4 2239.1V2231.6M1043.1 2239.1V2222.6M1071.8 2239.1V2231.6M1100.5 2239.1V2222.6M1129.2 2239.1V2231.6M1158.0 2239.1V2222.6M1186.7 2239.1V2231.6M1215.4 2239.1V2222.6M1244.1 2239.1V2231.6M1272.8 2239.1V2222.6M1301.5 2239.1V2231.6M1330.2 2239.1V2222.6M1358.9 2239.1V2231.6M1387.6 2239.1V2222.6M1416.3 2239.1V2231.6M1445.0 2239.1V2222.6M1473.7 2239.1V2231.6M1502.4 2239.1V2222.6M1531.1 2239.1V2231.6M1559.9 2239.1V2222.6M1588.6 2239.1V2231.6M270.9 1273.5H287.4M1617.2 1273.5H1600.7M270.9 1357.8H287.4M1617.2 1357.8H1600.7M270.9 1442.0H287.4M1617.2 1442.0H1600.7M270.9 1526.3H287.4M1617.2 1526.3H1600.7M270.9 1315.6H278.4M1617.2 1315.6H1609.7M270.9 1399.9H278.4M1617.2 1399.9H1609.7M270.9 1484.2H278.4M1617.2 1484.2H1609.7M270.9 1587.7H287.4M1617.2 1587.7H1600.7M270.9 1671.8H287.4M1617.2 1671.8H1600.7M270.9 1755.9H287.4M1617.2 1755.9H1600.7M270.9 1840.0H287.4M1617.2 1840.0H1600.7M270.9 1629.8H278.4M1617.2 1629.8H1609.7M270.9 1713.9H278.4M1617.2 1713.9H1609.7M270.9 1798.0H278.4M1617.2 1798.0H1609.7M270.9 1882.0H278.4M1617.2 1882.0H1609.7M270.9 1969.3H287.4M1617.2 1969.3H1600.7M270.9 2053.1H287.4M1617.2 2053.1H1600.7M270.9 2136.9H287.4M1617.2 2136.9H1600.7M270.9 2220.7H287.4M1617.2 2220.7H1600.7M270.9 2011.2H278.4M1617.2 2011.2H1609.7M270.9 2095.0H278.4M1617.2 2095.0H1609.7M270.9 2178.8H278.4M1617.2 2178.8H1609.7M270.9 1927.4H278.4M1617.2 1927.4H1609.7"/>
<path d="M549.4 1254.0L569.0 1218.2M573.2 1254.0L592.8 1218.2M549.4 1588.4L569.0 1552.6M573.2 1588.4L592.8 1552.6M549.4 1922.6L569.0 1886.8M573.2 1922.6L592.8 1886.8M549.4 2257.0L569.0 2221.2M573.2 2257.0L592.8 2221.2"/>
</g>
<g stroke="#000" stroke-width="3.2" fill="none" stroke-linejoin="round" stroke-linecap="round">
<path d="M271.5 1272.5C273.3 1272.1 279.1 1270.3 282.2 1270.3C285.2 1270.2 285.5 1272.0 289.8 1272.2C294.1 1272.4 301.8 1271.2 308.1 1271.3C314.5 1271.4 323.3 1272.0 327.9 1272.8C332.5 1273.6 331.9 1274.1 335.5 1276.3C339.1 1278.5 345.4 1283.0 349.2 1286.2C353.0 1289.4 355.0 1293.2 358.3 1295.4C361.6 1297.6 364.7 1298.8 369.0 1299.2C373.3 1299.7 380.4 1297.8 384.2 1298.1C388.0 1298.3 388.0 1298.4 391.8 1300.7C395.6 1303.0 402.4 1309.2 407.0 1312.1C411.6 1315.0 414.1 1317.5 419.2 1317.9C424.3 1318.3 429.4 1314.4 437.5 1314.4C445.6 1314.5 460.3 1317.1 467.9 1318.2C475.5 1319.3 478.4 1320.9 483.2 1321.3C488.0 1321.7 492.8 1321.3 496.9 1320.5C500.9 1319.7 503.9 1318.3 507.5 1316.7C511.1 1315.1 515.0 1312.2 518.3 1310.9C521.6 1309.6 522.8 1309.8 527.4 1308.7C532.0 1307.6 541.9 1305.8 545.7 1304.5C549.5 1303.2 549.0 1302.6 550.2 1300.9C551.4 1299.2 552.1 1297.5 553.0 1294.5C553.9 1291.5 554.9 1286.3 555.7 1282.6C556.6 1278.9 557.7 1274.2 558.1 1272.5"/>
<path d="M583.1 1305.1C583.4 1303.3 584.2 1298.2 585.0 1294.5C585.8 1290.8 586.3 1285.9 587.7 1282.6C589.1 1279.3 591.4 1276.3 593.2 1274.7C595.0 1273.1 596.6 1273.4 598.7 1273.1C600.8 1272.8 603.9 1272.8 606.0 1273.1C608.1 1273.4 609.1 1273.7 611.5 1274.7C613.9 1275.7 617.6 1278.2 620.6 1278.9C623.6 1279.6 627.0 1278.3 629.7 1278.9C632.4 1279.5 634.6 1280.9 637.0 1282.6C639.4 1284.3 641.2 1287.1 644.3 1289.0C647.3 1290.9 652.4 1292.8 655.3 1294.1C658.2 1295.4 659.1 1296.8 661.7 1296.7C664.3 1296.6 668.2 1293.5 670.8 1293.6C673.4 1293.7 674.6 1295.8 677.2 1297.2C679.8 1298.6 684.0 1300.4 686.4 1302.1C688.8 1303.8 689.4 1303.8 691.8 1307.3C694.2 1310.8 698.0 1318.4 701.0 1322.8C704.0 1327.2 707.2 1330.0 710.1 1333.8C713.0 1337.6 716.2 1343.3 718.3 1345.6C720.4 1347.9 720.6 1347.8 722.9 1347.5C725.2 1347.2 729.6 1345.5 732.0 1343.8C734.4 1342.1 735.4 1342.3 737.5 1337.4C739.6 1332.5 742.4 1322.1 744.8 1314.6C747.2 1307.1 749.6 1298.5 752.1 1292.6C754.6 1286.7 756.8 1283.5 759.5 1279.0C762.2 1274.5 766.2 1267.1 768.6 1265.6C771.0 1264.1 772.3 1266.2 774.1 1269.8C775.9 1273.4 777.5 1279.1 779.6 1287.2C781.7 1295.3 784.5 1307.2 786.9 1318.2C789.3 1329.2 792.0 1343.3 794.2 1352.9C796.4 1362.5 797.8 1369.3 800.0 1376.0C802.2 1382.7 804.3 1386.8 807.4 1393.1C810.5 1399.4 814.4 1409.5 818.4 1414.1C822.4 1418.7 826.9 1419.7 831.2 1420.9C835.5 1422.1 840.4 1422.6 844.0 1421.5C847.6 1420.4 849.8 1417.9 853.1 1414.1C856.4 1410.3 861.0 1404.2 864.0 1398.6C867.0 1393.0 868.6 1389.1 871.4 1380.3C874.1 1371.5 877.5 1354.4 880.5 1345.6C883.5 1336.8 886.6 1334.1 889.6 1327.4C892.6 1320.7 895.8 1309.7 898.8 1305.4C901.8 1301.1 905.2 1303.2 907.9 1301.8C910.6 1300.4 912.2 1296.0 915.2 1297.2C918.2 1298.4 923.2 1305.9 926.2 1309.1C929.2 1312.3 930.5 1311.2 933.5 1316.4C936.5 1321.6 941.4 1334.0 944.4 1340.1C947.4 1346.2 949.0 1347.7 951.8 1352.9C954.5 1358.1 957.9 1366.3 960.9 1371.2C963.9 1376.1 966.6 1378.2 970.0 1382.2C973.4 1386.2 976.7 1394.8 981.0 1395.0C985.3 1395.2 990.4 1385.8 995.6 1383.1C1000.8 1380.3 1007.4 1378.7 1012.0 1378.5C1016.6 1378.3 1018.7 1383.0 1023.0 1381.8C1027.3 1380.6 1033.6 1371.9 1037.6 1371.2C1041.6 1370.5 1043.1 1372.7 1046.8 1377.6C1050.5 1382.5 1055.9 1391.1 1059.6 1400.4C1063.3 1409.7 1066.0 1424.5 1069.1 1433.3C1072.2 1442.1 1075.2 1447.0 1078.3 1453.4C1081.3 1459.8 1084.5 1467.7 1087.4 1471.7C1090.3 1475.7 1092.5 1477.5 1095.6 1477.5C1098.6 1477.5 1102.5 1474.8 1105.7 1471.7C1108.9 1468.6 1111.8 1463.9 1114.8 1458.9C1117.8 1453.9 1121.0 1445.5 1124.0 1441.6C1127.0 1437.6 1129.8 1436.3 1133.1 1435.2C1136.4 1434.1 1140.3 1435.7 1144.0 1434.8C1147.7 1433.9 1151.7 1431.9 1155.0 1429.7C1158.3 1427.5 1161.0 1424.8 1164.1 1421.5C1167.1 1418.2 1169.3 1414.0 1173.3 1409.6C1177.3 1405.2 1183.0 1400.3 1187.9 1395.0C1192.8 1389.7 1197.3 1383.4 1202.5 1377.6C1207.7 1371.8 1213.5 1366.6 1219.0 1360.2C1224.5 1353.8 1229.9 1345.4 1235.4 1339.2C1240.9 1333.0 1247.0 1327.1 1251.9 1323.3C1256.8 1319.5 1260.0 1318.2 1264.6 1316.4C1269.2 1314.6 1274.7 1313.9 1279.3 1312.7C1283.9 1311.5 1287.4 1308.9 1292.0 1309.1C1296.6 1309.3 1302.7 1311.6 1306.7 1313.7C1310.7 1315.8 1312.8 1318.7 1315.8 1321.9C1318.8 1325.1 1321.3 1329.8 1325.0 1332.8C1328.7 1335.8 1334.3 1336.8 1338.0 1340.1C1341.7 1343.4 1343.9 1346.5 1347.3 1352.9C1350.7 1359.3 1354.3 1372.2 1358.3 1378.5C1362.3 1384.8 1366.2 1389.5 1371.1 1390.9C1376.0 1392.3 1383.5 1386.0 1387.5 1386.7C1391.5 1387.4 1392.4 1390.0 1394.8 1395.0C1397.2 1400.0 1399.7 1409.3 1402.1 1416.9C1404.5 1424.5 1407.3 1435.4 1409.4 1440.6C1411.5 1445.8 1412.8 1448.3 1414.9 1448.0C1417.0 1447.7 1419.8 1441.3 1422.2 1438.8C1424.6 1436.3 1427.1 1432.4 1429.5 1433.0C1431.9 1433.6 1434.4 1437.3 1436.8 1442.5C1439.2 1447.7 1441.3 1455.3 1444.1 1464.4C1446.8 1473.5 1450.3 1488.5 1453.3 1497.3C1456.3 1506.1 1459.4 1515.3 1462.1 1517.4C1464.8 1519.5 1466.9 1516.8 1469.7 1510.1C1472.5 1503.4 1475.9 1489.4 1478.9 1477.2C1482.0 1465.0 1485.3 1448.9 1488.0 1437.0C1490.7 1425.1 1492.9 1416.2 1495.3 1405.9C1497.7 1395.6 1499.8 1383.7 1502.6 1374.9C1505.3 1366.1 1509.4 1359.0 1511.8 1352.9C1514.2 1346.8 1515.1 1345.0 1517.2 1338.3C1519.3 1331.6 1521.8 1321.7 1524.5 1312.7C1527.2 1303.7 1530.4 1291.6 1533.7 1284.4C1537.0 1277.2 1540.9 1273.6 1544.6 1269.8C1548.2 1266.0 1551.9 1263.3 1555.6 1261.6C1559.3 1259.9 1562.9 1259.6 1566.6 1259.8C1570.2 1260.0 1573.8 1261.0 1577.5 1262.5C1581.2 1264.0 1584.8 1267.1 1588.5 1268.5C1592.2 1269.9 1594.8 1269.9 1599.5 1270.7C1604.2 1271.5 1614.1 1272.7 1617.0 1273.1"/>
<path d="M271.5 1756.4C273.7 1756.6 279.7 1757.8 284.6 1757.8C289.5 1757.8 296.2 1756.5 301.1 1756.4C306.0 1756.3 309.3 1757.5 313.9 1757.3C318.5 1757.1 323.6 1756.9 328.5 1755.5C333.4 1754.1 337.9 1751.5 343.1 1749.1C348.3 1746.6 355.6 1741.9 359.5 1740.8C363.4 1739.7 363.4 1740.6 366.8 1742.7C370.2 1744.8 375.9 1751.3 379.6 1753.6C383.3 1755.9 385.5 1755.6 388.8 1756.4C392.1 1757.2 394.2 1756.3 399.7 1758.2C405.2 1760.1 414.4 1767.2 421.7 1767.7C429.0 1768.2 438.4 1762.5 443.6 1760.9C448.8 1759.3 448.4 1759.0 452.7 1758.2C457.0 1757.4 464.3 1755.8 469.2 1756.0C474.1 1756.2 476.8 1757.4 482.0 1759.1C487.2 1760.8 493.5 1765.8 500.2 1765.9C506.9 1766.1 515.4 1761.3 522.1 1760.0C528.8 1758.7 534.3 1758.5 540.4 1757.8C546.5 1757.1 555.5 1756.3 558.5 1756.0"/>
<path d="M582.9 1756.4C584.6 1756.2 589.2 1755.6 593.0 1755.5C596.8 1755.4 601.5 1756.8 605.8 1756.0C610.1 1755.2 614.3 1751.3 618.6 1750.5C622.9 1749.7 627.5 1751.5 631.4 1750.9C635.3 1750.4 638.6 1748.1 642.3 1747.2C645.9 1746.3 649.6 1747.1 653.3 1745.8C656.9 1744.5 661.3 1740.6 664.2 1739.6C667.1 1738.6 667.9 1741.4 670.6 1739.6C673.4 1737.8 677.5 1731.4 680.7 1729.0C683.9 1726.6 686.4 1727.8 689.8 1725.0C693.1 1722.2 697.4 1715.0 700.8 1712.5C704.1 1710.0 706.5 1711.4 709.9 1709.8C713.2 1708.2 717.5 1703.3 720.9 1703.0C724.2 1702.7 727.3 1705.8 730.0 1708.0C732.7 1710.2 734.5 1711.2 737.3 1716.2C740.0 1721.2 743.5 1731.5 746.5 1738.1C749.5 1744.6 752.0 1753.8 755.6 1755.5C759.2 1757.2 765.4 1751.6 768.4 1748.1C771.4 1744.6 771.8 1742.8 773.9 1734.4C776.0 1726.0 778.5 1709.2 781.2 1697.9C783.9 1686.6 787.6 1674.7 790.3 1666.8C793.0 1658.9 794.9 1654.7 797.6 1650.4C800.4 1646.2 803.4 1644.3 806.8 1641.3C810.1 1638.2 814.1 1634.5 817.7 1632.1C821.4 1629.6 825.3 1627.6 828.7 1626.6C832.1 1625.6 835.2 1627.0 838.3 1626.3C841.4 1625.5 844.0 1622.6 847.4 1622.1C850.8 1621.6 855.5 1623.9 858.4 1623.4C861.3 1622.9 863.0 1619.5 864.8 1619.3C866.6 1619.1 867.6 1618.8 869.3 1622.1C871.0 1625.4 872.7 1631.0 874.8 1639.4C876.9 1647.8 879.7 1661.6 882.1 1672.3C884.5 1683.0 887.0 1691.8 889.4 1703.4C891.8 1715.0 894.3 1732.2 896.7 1741.8C899.1 1751.4 901.5 1754.5 904.0 1760.9C906.5 1767.3 908.9 1772.6 911.4 1780.1C913.9 1787.6 916.3 1799.6 918.7 1805.7C921.1 1811.8 923.3 1813.1 926.0 1816.7C928.7 1820.3 932.4 1828.2 935.1 1827.6C937.8 1827.0 939.6 1819.4 942.4 1813.0C945.1 1806.6 948.2 1798.1 951.6 1789.3C955.0 1780.5 959.5 1765.3 962.5 1760.0C965.5 1754.7 966.8 1758.8 969.8 1757.3C972.8 1755.8 977.8 1750.8 980.8 1750.9C983.8 1751.1 984.9 1753.3 988.1 1758.2C991.3 1763.1 996.6 1778.0 1000.0 1780.1C1003.4 1782.2 1005.0 1776.8 1008.2 1771.0C1011.4 1765.2 1016.2 1751.0 1019.2 1745.4C1022.2 1739.9 1023.5 1737.2 1026.5 1737.7C1029.5 1738.2 1033.8 1744.4 1037.4 1748.1C1041.1 1751.8 1045.1 1755.9 1048.4 1760.0C1051.8 1764.1 1054.8 1770.0 1057.5 1772.8C1060.2 1775.5 1062.4 1777.1 1064.8 1776.5C1067.2 1775.9 1069.0 1774.1 1072.1 1769.2C1075.1 1764.3 1079.4 1753.3 1083.1 1747.2C1086.8 1741.1 1090.8 1735.1 1094.1 1732.6C1097.4 1730.1 1100.4 1731.9 1103.2 1732.2C1106.0 1732.5 1107.6 1733.7 1111.0 1734.4C1114.4 1735.1 1119.2 1736.8 1123.8 1736.3C1128.4 1735.8 1134.5 1731.5 1138.4 1731.2C1142.4 1730.9 1144.2 1732.3 1147.5 1734.4C1150.8 1736.5 1154.5 1740.5 1158.5 1743.6C1162.5 1746.6 1167.3 1750.4 1171.3 1752.7C1175.2 1755.0 1178.2 1755.9 1182.2 1757.3C1186.2 1758.7 1190.1 1758.9 1195.0 1760.9C1199.9 1762.9 1206.6 1765.7 1211.5 1769.2C1216.4 1772.7 1220.2 1777.4 1224.2 1782.0C1228.2 1786.6 1231.5 1792.9 1235.2 1796.6C1238.9 1800.2 1242.6 1803.6 1246.2 1803.9C1249.8 1804.2 1253.4 1800.8 1257.1 1798.4C1260.8 1796.0 1263.8 1792.0 1268.1 1789.3C1272.4 1786.6 1277.5 1784.6 1282.7 1782.0C1287.9 1779.4 1294.3 1774.3 1299.2 1773.7C1304.1 1773.1 1306.5 1776.3 1312.0 1778.3C1317.5 1780.3 1327.3 1785.1 1332.0 1785.6C1336.7 1786.0 1337.5 1783.7 1340.0 1781.0C1342.5 1778.3 1344.9 1774.2 1347.3 1769.2C1349.7 1764.2 1352.0 1756.1 1354.6 1750.9C1357.2 1745.7 1360.0 1738.6 1362.8 1738.1C1365.5 1737.6 1368.3 1742.6 1371.1 1748.1C1373.8 1753.6 1376.4 1765.5 1379.3 1771.0C1382.2 1776.5 1384.6 1780.7 1388.4 1781.0C1392.2 1781.3 1398.3 1772.3 1402.1 1772.8C1405.9 1773.3 1408.2 1778.3 1411.3 1783.8C1414.3 1789.3 1416.9 1799.5 1420.4 1805.7C1423.9 1811.9 1428.8 1819.7 1432.3 1821.2C1435.8 1822.7 1438.2 1818.2 1441.4 1814.8C1444.6 1811.4 1448.3 1800.5 1451.5 1801.1C1454.7 1801.7 1457.9 1811.3 1460.6 1818.5C1463.3 1825.7 1465.5 1836.2 1467.9 1844.1C1470.3 1852.0 1472.5 1860.5 1475.2 1866.0C1477.9 1871.5 1481.0 1876.4 1484.3 1877.0C1487.6 1877.6 1491.3 1874.9 1495.3 1869.7C1499.3 1864.5 1504.4 1850.5 1508.1 1845.9C1511.8 1841.3 1513.8 1844.3 1517.2 1842.2C1520.6 1840.1 1523.9 1838.0 1528.2 1833.1C1532.5 1828.2 1538.2 1819.7 1542.8 1813.0C1547.4 1806.3 1551.6 1798.2 1555.6 1792.9C1559.6 1787.6 1561.4 1785.1 1566.6 1781.0C1571.8 1776.9 1581.5 1770.9 1586.7 1768.2C1591.9 1765.5 1593.6 1766.6 1597.6 1764.6C1601.5 1762.6 1607.2 1757.8 1610.4 1756.4C1613.6 1755.0 1615.9 1756.1 1617.0 1756.0"/>
<path d="M271.5 2053.5C274.3 2053.7 282.5 2054.6 288.3 2054.7C294.1 2054.8 300.4 2054.5 306.5 2054.2C312.6 2053.9 319.3 2052.2 324.8 2052.9C330.3 2053.6 334.8 2056.1 339.4 2058.4C344.0 2060.7 347.9 2063.9 352.2 2066.6C356.5 2069.3 360.4 2072.4 365.0 2074.8C369.6 2077.2 374.4 2080.1 379.6 2080.9C384.8 2081.7 391.2 2079.7 396.1 2079.8C401.0 2080.0 404.0 2081.7 408.9 2081.8C413.8 2081.9 419.2 2080.9 425.3 2080.3C431.4 2079.8 439.3 2078.8 445.4 2078.5C451.5 2078.2 457.6 2077.9 461.9 2078.5C466.2 2079.1 468.3 2081.1 471.0 2082.1C473.7 2083.1 475.9 2084.4 478.3 2084.5C480.7 2084.6 482.0 2084.6 485.6 2082.7C489.2 2080.8 495.0 2074.6 500.2 2073.0C505.4 2071.4 510.9 2073.3 516.7 2073.0C522.5 2072.7 530.0 2071.8 534.9 2071.2C539.8 2070.6 543.4 2070.2 545.9 2069.4C548.4 2068.6 548.4 2067.7 549.6 2066.6C550.8 2065.5 551.8 2065.3 553.2 2063.0C554.6 2060.7 557.3 2054.6 558.1 2052.9"/>
<path d="M583.5 2067.5C584.5 2065.5 587.4 2058.2 589.3 2055.7C591.2 2053.2 592.3 2052.8 594.8 2052.4C597.2 2052.0 600.6 2053.7 604.0 2053.5C607.4 2053.3 610.9 2051.1 614.9 2051.1C618.9 2051.1 623.1 2053.8 627.7 2053.5C632.3 2053.2 638.0 2049.2 642.3 2049.3C646.6 2049.4 649.0 2052.8 653.3 2054.2C657.6 2055.6 663.6 2058.6 667.9 2057.5C672.2 2056.4 675.2 2049.5 678.9 2047.4C682.5 2045.3 686.6 2045.6 689.8 2044.7C693.0 2043.8 695.0 2040.9 698.0 2042.0C701.0 2043.1 704.6 2048.2 708.1 2051.1C711.6 2054.0 715.8 2055.8 719.1 2059.3C722.5 2062.8 725.2 2065.7 728.2 2072.1C731.2 2078.5 734.6 2087.3 737.3 2097.7C740.0 2108.0 742.5 2123.8 744.6 2134.2C746.7 2144.5 748.3 2153.6 750.1 2159.8C751.9 2166.1 753.8 2171.7 755.6 2171.7C757.4 2171.7 759.3 2167.9 761.1 2159.8C762.9 2151.7 764.8 2138.5 766.6 2123.3C768.4 2108.1 770.2 2087.3 772.0 2068.4C773.8 2049.5 775.7 2025.8 777.5 2010.0C779.3 1994.2 780.9 1982.4 783.0 1973.4C785.1 1964.4 787.9 1957.6 790.3 1956.1C792.7 1954.6 795.2 1959.6 797.6 1964.3C800.0 1969.0 802.1 1975.0 804.9 1984.4C807.6 1993.8 811.6 2010.2 814.1 2020.9C816.6 2031.6 818.1 2040.4 820.0 2048.3C821.9 2056.2 823.8 2062.9 825.5 2068.4C827.2 2073.9 828.9 2078.4 830.5 2081.2C832.1 2084.0 832.2 2086.5 835.0 2085.3C837.8 2084.1 843.4 2078.2 847.4 2073.9C851.4 2069.6 856.2 2060.2 859.3 2059.3C862.3 2058.4 863.4 2060.8 865.7 2068.4C868.0 2076.0 870.9 2094.9 873.0 2105.0C875.1 2115.1 876.7 2119.6 878.5 2128.7C880.3 2137.8 881.9 2148.2 884.0 2159.8C886.1 2171.4 888.9 2190.0 891.3 2198.2C893.7 2206.4 895.6 2207.3 898.6 2209.1C901.6 2210.9 906.1 2211.2 909.5 2209.1C912.9 2207.0 915.4 2204.5 918.7 2196.3C922.1 2188.1 926.6 2172.0 929.6 2159.8C932.6 2147.6 934.5 2134.0 936.9 2123.3C939.3 2112.6 941.8 2102.5 944.2 2095.8C946.7 2089.1 949.5 2086.0 951.6 2083.1C953.7 2080.2 954.6 2078.2 957.0 2078.5C959.4 2078.8 963.2 2083.5 966.2 2084.9C969.2 2086.3 971.6 2084.7 975.3 2086.7C978.9 2088.7 984.8 2095.4 988.1 2096.8C991.5 2098.2 991.8 2097.2 995.4 2094.9C999.0 2092.6 1006.0 2084.2 1010.0 2082.7C1014.0 2081.2 1015.6 2083.0 1019.2 2085.8C1022.9 2088.6 1026.7 2095.2 1031.9 2099.5C1037.1 2103.8 1045.9 2110.3 1050.2 2111.4C1054.5 2112.5 1054.8 2113.1 1057.5 2105.9C1060.2 2098.7 1063.7 2082.2 1066.7 2068.4C1069.8 2054.6 1072.8 2036.5 1075.8 2022.8C1078.8 2009.1 1082.2 1995.3 1084.9 1986.2C1087.6 1977.1 1089.9 1971.9 1092.2 1968.0C1094.5 1964.1 1095.9 1962.1 1099.0 1963.0C1102.1 1963.9 1106.9 1968.0 1111.0 1973.4C1115.1 1978.8 1119.5 1988.7 1123.8 1995.4C1128.0 2002.1 1132.5 2007.8 1136.5 2013.6C1140.5 2019.4 1143.5 2026.0 1147.5 2030.1C1151.5 2034.2 1155.4 2036.6 1160.3 2038.3C1165.2 2040.0 1170.3 2037.4 1176.7 2040.1C1183.1 2042.8 1190.8 2050.3 1198.7 2054.7C1206.6 2059.1 1214.5 2064.6 1224.2 2066.6C1233.9 2068.6 1247.9 2064.9 1257.1 2066.6C1266.2 2068.3 1273.6 2074.4 1279.1 2076.7C1284.6 2079.0 1285.4 2078.6 1290.0 2080.3C1294.6 2082.0 1301.6 2086.8 1306.5 2086.7C1311.4 2086.5 1314.0 2082.4 1319.3 2079.4C1324.5 2076.4 1333.3 2069.7 1338.0 2068.6C1342.7 2067.5 1343.9 2070.3 1347.3 2073.0C1350.7 2075.7 1354.9 2082.6 1358.3 2084.9C1361.7 2087.2 1363.5 2087.1 1367.4 2087.1C1371.4 2087.1 1376.2 2087.4 1382.0 2084.9C1387.8 2082.4 1397.2 2076.4 1402.1 2072.1C1407.0 2067.8 1408.2 2065.4 1411.3 2059.3C1414.3 2053.2 1417.4 2041.4 1420.4 2035.6C1423.4 2029.8 1426.5 2024.9 1429.5 2024.6C1432.5 2024.3 1435.2 2028.7 1438.7 2033.7C1442.2 2038.7 1447.5 2051.9 1450.5 2054.7C1453.5 2057.4 1453.4 2056.4 1456.9 2050.2C1460.4 2044.0 1467.6 2024.3 1471.6 2017.3C1475.6 2010.3 1476.5 2010.7 1480.7 2008.1C1485.0 2005.5 1492.5 2002.1 1497.1 2001.8C1501.7 2001.5 1504.1 2004.0 1508.1 2006.3C1512.1 2008.6 1516.0 2010.6 1520.9 2015.5C1525.8 2020.4 1531.5 2030.9 1537.3 2035.6C1543.1 2040.3 1550.7 2042.1 1555.6 2043.8C1560.5 2045.5 1561.7 2043.3 1566.6 2045.6C1571.5 2047.9 1580.2 2055.3 1584.8 2057.5C1589.4 2059.7 1590.6 2059.5 1594.0 2058.9C1597.4 2058.3 1601.2 2054.8 1605.0 2053.8C1608.8 2052.8 1615.0 2053.1 1617.0 2052.9"/>
</g>
<g font-family="Liberation Sans, Arial, sans-serif" font-size="39.3" fill="#000">
<text transform="translate(251.0 1284.8) scale(1 1.055)" text-anchor="end">0.000</text>
<text transform="translate(251.0 1369.1) scale(1 1.055)" text-anchor="end">-0.025</text>
<text transform="translate(251.0 1453.3) scale(1 1.055)" text-anchor="end">-0.050</text>
<text transform="translate(251.0 1537.6) scale(1 1.055)" text-anchor="end">-0.075</text>
<text transform="translate(251.0 1599.0) scale(1 1.055)" text-anchor="end">0.102</text>
<text transform="translate(251.0 1683.1) scale(1 1.055)" text-anchor="end">0.051</text>
<text transform="translate(251.0 1767.2) scale(1 1.055)" text-anchor="end">0.000</text>
<text transform="translate(251.0 1851.3) scale(1 1.055)" text-anchor="end">-0.051</text>
<text transform="translate(251.0 1980.6) scale(1 1.055)" text-anchor="end">0.054</text>
<text transform="translate(251.0 2064.4) scale(1 1.055)" text-anchor="end">0.000</text>
<text transform="translate(251.0 2148.2) scale(1 1.055)" text-anchor="end">-0.054</text>
<text transform="translate(251.0 2232.0) scale(1 1.055)" text-anchor="end">-0.108</text>
<text transform="translate(270.9 1206.4) scale(1 1.055)" text-anchor="middle">3050</text>
<text transform="translate(270.9 2289.2) scale(1 1.055)" text-anchor="middle">3050</text>
<text transform="translate(443.1 1206.4) scale(1 1.055)" text-anchor="middle">2900</text>
<text transform="translate(443.1 2289.2) scale(1 1.055)" text-anchor="middle">2900</text>
<text transform="translate(583.8 1206.4) scale(1 1.055)" text-anchor="middle">1800</text>
<text transform="translate(583.8 2289.2) scale(1 1.055)" text-anchor="middle">1800</text>
<text transform="translate(756.0 1206.4) scale(1 1.055)" text-anchor="middle">1650</text>
<text transform="translate(756.0 2289.2) scale(1 1.055)" text-anchor="middle">1650</text>
<text transform="translate(928.3 1206.4) scale(1 1.055)" text-anchor="middle">1500</text>
<text transform="translate(928.3 2289.2) scale(1 1.055)" text-anchor="middle">1500</text>
<text transform="translate(1100.5 1206.4) scale(1 1.055)" text-anchor="middle">1350</text>
<text transform="translate(1100.5 2289.2) scale(1 1.055)" text-anchor="middle">1350</text>
<text transform="translate(1272.8 1206.4) scale(1 1.055)" text-anchor="middle">1200</text>
<text transform="translate(1272.8 2289.2) scale(1 1.055)" text-anchor="middle">1200</text>
<text transform="translate(1445.0 1206.4) scale(1 1.055)" text-anchor="middle">1050</text>
<text transform="translate(1445.0 2289.2) scale(1 1.055)" text-anchor="middle">1050</text>
<text transform="translate(1617.3 1206.4) scale(1 1.055)" text-anchor="middle">900</text>
<text transform="translate(1617.3 2289.2) scale(1 1.055)" text-anchor="middle">900</text>
</g>
<g font-family="Liberation Sans, Arial, sans-serif" font-size="49" fill="#000">
<text transform="translate(108.6 1380.0) rotate(-90) scale(1 1.05)" text-anchor="middle">PC-1</text>
<text transform="translate(108.6 1714.5) rotate(-90) scale(1 1.05)" text-anchor="middle">PC-2</text>
<text transform="translate(108.6 2048.3) rotate(-90) scale(1 1.05)" text-anchor="middle">PC-3</text>
</g>
<text transform="translate(731.3 2350.3) scale(1 1.03)" font-family="Liberation Sans, Arial, sans-serif" font-size="48.4">Wavenumber (cm<tspan font-size="29" dy="-21">-1</tspan><tspan dy="21" dx="2">)</tspan></text>
<g font-family="Liberation Sans, Arial, sans-serif" font-size="30.5" fill="#000">
<text transform="translate(747.6 1460.4) scale(1 1.02)">1583 cm<tspan font-size="14.5" dy="-7.6" dx="0.6">-1</tspan></text>
<text transform="translate(947.2 1509.2) scale(1 1.02)">1355 cm<tspan font-size="14.5" dy="-7.6" dx="0.6">-1</tspan></text>
<text transform="translate(1301.2 1521.0) scale(1 1.02)">1035 cm<tspan font-size="14.5" dy="-7.6" dx="0.6">-1</tspan></text>
<text transform="translate(889.5 1641.3) scale(1 1.02)">1553 cm<tspan font-size="14.5" dy="-7.6" dx="0.6">-1</tspan></text>
<text transform="translate(946.1 1849.6) scale(1 1.02)">1494 cm<tspan font-size="14.5" dy="-7.6" dx="0.6">-1</tspan></text>
<text transform="translate(1312.0 1861.4) scale(1 1.02)">1015 cm<tspan font-size="14.5" dy="-7.6" dx="0.6">-1</tspan></text>
<text transform="translate(809.5 1974.3) scale(1 1.02)">1619 cm<tspan font-size="14.5" dy="-7.6" dx="0.6">-1</tspan></text>
<text transform="translate(602.2 2173.5) scale(1 1.02)">1651 cm<tspan font-size="14.5" dy="-7.6" dx="0.6">-1</tspan></text>
<text transform="translate(943.4 2193.6) scale(1 1.02)">1525 cm<tspan font-size="14.5" dy="-7.6" dx="0.6">-1</tspan></text>
<text transform="translate(1115.6 1961.6) scale(1 1.02)">1350 cm<tspan font-size="14.5" dy="-7.6" dx="0.6">-1</tspan></text>
</g>
</svg></body></html>
